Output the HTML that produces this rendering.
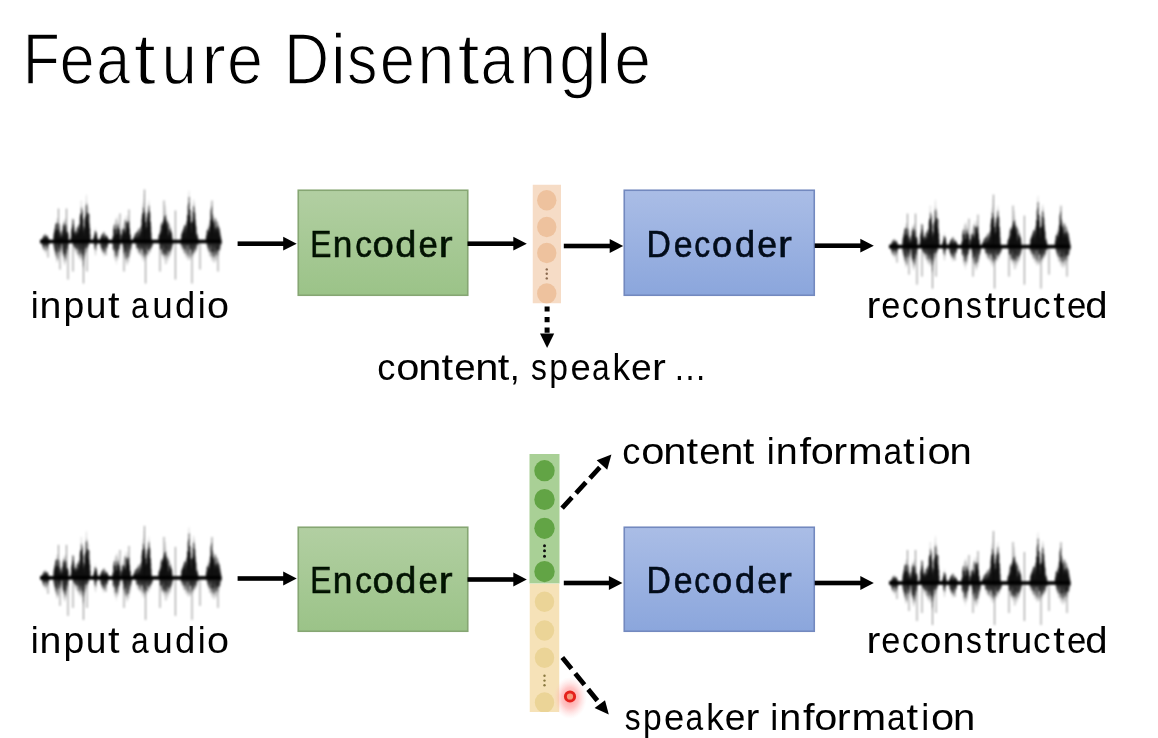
<!DOCTYPE html>
<html><head><meta charset="utf-8"><style>
html,body{margin:0;padding:0;background:#fff;}
svg{display:block;font-family:"Liberation Sans",sans-serif;}
</style></head><body>
<svg width="1158" height="738" viewBox="0 0 1158 738">
<defs>
<linearGradient id="gg" x1="0" y1="0" x2="0" y2="1"><stop offset="0" stop-color="#b2cfa2"/><stop offset="1" stop-color="#9bc388"/></linearGradient>
<linearGradient id="bg" x1="0" y1="0" x2="0" y2="1"><stop offset="0" stop-color="#aabde6"/><stop offset="1" stop-color="#8ba6dc"/></linearGradient>
<radialGradient id="rg"><stop offset="0" stop-color="#ff6a6a" stop-opacity="0.7"/><stop offset="0.5" stop-color="#ff9a9a" stop-opacity="0.55"/><stop offset="1" stop-color="#ffd0d0" stop-opacity="0"/></radialGradient>
<filter id="wb" x="-5%" y="-10%" width="110%" height="120%"><feGaussianBlur stdDeviation="1.0"/></filter>
<filter id="bl" x="-5%" y="-5%" width="110%" height="110%"><feGaussianBlur stdDeviation="0.6"/></filter>
</defs>
<g filter="url(#bl)">
<text transform="translate(22.86 84.00) scale(0.8400 1)" font-size="72.5" fill="#000" stroke="#fff" stroke-width="1.4">F</text>
<text transform="translate(59.56 84.00) scale(0.8745 1)" font-size="72.5" fill="#000" stroke="#fff" stroke-width="1.4">e</text>
<text transform="translate(96.28 84.00) scale(0.8400 1)" font-size="72.5" fill="#000" stroke="#fff" stroke-width="1.4">a</text>
<text transform="translate(133.74 84.00) scale(1.1000 1)" font-size="72.5" fill="#000" stroke="#fff" stroke-width="1.4">t</text>
<text transform="translate(161.55 84.00) scale(0.8768 1)" font-size="72.5" fill="#000" stroke="#fff" stroke-width="1.4">u</text>
<text transform="translate(201.04 84.00) scale(1.0372 1)" font-size="72.5" fill="#000" stroke="#fff" stroke-width="1.4">r</text>
<text transform="translate(227.11 84.00) scale(0.8921 1)" font-size="72.5" fill="#000" stroke="#fff" stroke-width="1.4">e</text>
<text transform="translate(284.10 84.00) scale(0.8627 1)" font-size="72.5" fill="#000" stroke="#fff" stroke-width="1.4">D</text>
<text transform="translate(330.72 84.00) scale(0.9500 1)" font-size="72.5" fill="#000" stroke="#fff" stroke-width="1.4">i</text>
<text transform="translate(347.03 84.00) scale(0.8400 1)" font-size="72.5" fill="#000" stroke="#fff" stroke-width="1.4">s</text>
<text transform="translate(379.76 84.00) scale(0.8745 1)" font-size="72.5" fill="#000" stroke="#fff" stroke-width="1.4">e</text>
<text transform="translate(417.30 84.00) scale(0.9261 1)" font-size="72.5" fill="#000" stroke="#fff" stroke-width="1.4">n</text>
<text transform="translate(457.39 84.00) scale(1.1000 1)" font-size="72.5" fill="#000" stroke="#fff" stroke-width="1.4">t</text>
<text transform="translate(480.43 84.00) scale(0.8400 1)" font-size="72.5" fill="#000" stroke="#fff" stroke-width="1.4">a</text>
<text transform="translate(519.33 84.00) scale(0.9195 1)" font-size="72.5" fill="#000" stroke="#fff" stroke-width="1.4">n</text>
<text transform="translate(558.99 84.00) scale(0.9349 1)" font-size="72.5" fill="#000" stroke="#fff" stroke-width="1.4">g</text>
<text transform="translate(595.88 84.00) scale(0.9500 1)" font-size="72.5" fill="#000" stroke="#fff" stroke-width="1.4">l</text>
<text transform="translate(614.15 84.00) scale(0.9127 1)" font-size="72.5" fill="#000" stroke="#fff" stroke-width="1.4">e</text>
<g transform="translate(40 241.5)"><g filter="url(#wb)"><path d="M1.8 -1.9V3.7 M2.1 -2.8V3.9 M2.4 -3.5V4.8 M2.7 -4.3V6.7 M3.0 -4.5V8.3 M3.3 -5.0V7.2 M3.6 -5.5V9.4 M3.9 -5.3V8.3 M4.2 -6.2V8.4 M4.5 -6.0V9.7 M4.8 -6.6V9.4 M5.1 -7.5V11.0 M5.4 -8.0V10.3 M5.7 -8.5V12.5 M6.0 -7.1V12.2 M6.3 -6.5V9.8 M6.6 -5.9V8.8 M6.9 -6.1V9.3 M7.2 -6.5V8.1 M7.5 -5.2V7.5 M7.8 -5.7V8.5 M8.1 -4.1V7.9 M8.4 -4.4V6.3 M8.7 -3.1V4.8 M9.0 -2.6V4.7 M9.3 -1.7V2.3 M13.5 -0.0V0.0 M13.8 -6.3V6.3 M14.1 -8.8V8.4 M14.4 -12.5V11.2 M14.7 -13.1V11.4 M15.0 -12.6V13.3 M15.3 -15.7V14.7 M15.6 -16.1V16.1 M15.9 -18.9V16.1 M16.2 -17.7V17.0 M16.5 -19.7V18.8 M16.8 -23.1V21.2 M17.1 -20.3V19.8 M17.4 -23.9V20.8 M17.7 -22.5V18.0 M18.0 -23.1V20.2 M18.3 -19.0V18.7 M18.6 -18.1V15.6 M18.9 -19.6V18.6 M19.2 -17.6V14.5 M19.5 -15.2V13.9 M19.8 -15.7V14.8 M20.1 -12.4V14.1 M20.4 -12.7V12.4 M20.7 -11.3V10.7 M21.0 -8.7V8.2 M21.3 -5.8V5.4 M21.6 -3.8V4.5 M21.9 -7.8V8.1 M22.2 -11.3V9.1 M22.5 -13.4V11.2 M22.8 -15.5V15.1 M23.1 -14.1V14.6 M23.4 -17.9V17.4 M23.7 -18.0V20.5 M24.0 -22.2V20.0 M24.3 -20.9V21.7 M24.6 -21.5V24.1 M24.9 -20.5V23.4 M25.2 -21.4V22.6 M25.5 -23.9V21.6 M25.8 -22.8V18.4 M26.1 -18.0V20.5 M26.4 -16.3V19.5 M26.7 -15.5V17.0 M27.0 -15.4V13.8 M27.3 -13.8V15.2 M27.6 -12.6V13.0 M27.9 -10.7V8.9 M28.2 -6.4V7.3 M30.6 -1.4V0.0 M30.9 -4.6V0.0 M31.2 -6.9V0.0 M31.5 -9.1V0.0 M31.8 -12.9V0.0 M32.1 -16.5V0.0 M32.4 -17.8V0.0 M32.7 -23.0V0.0 M33.0 -22.8V0.0 M33.3 -19.6V4.1 M33.6 -17.8V5.8 M33.9 -16.7V6.1 M34.2 -12.9V6.2 M34.5 -9.6V9.2 M34.8 -9.4V9.0 M35.1 -10.5V10.4 M35.4 -11.3V9.6 M35.7 -11.0V9.6 M36.0 -12.0V13.1 M36.3 -13.5V10.6 M36.6 -14.5V11.3 M36.9 -14.0V11.4 M37.2 -14.5V13.1 M37.5 -13.8V15.0 M37.8 -13.3V13.1 M38.1 -16.6V13.0 M38.4 -17.7V15.1 M38.7 -16.6V17.9 M39.0 -18.3V16.8 M39.3 -16.0V14.5 M39.6 -18.5V16.8 M39.9 -21.4V17.6 M40.2 -22.8V15.8 M40.5 -27.8V17.0 M40.8 -34.2V20.0 M41.1 -41.3V20.8 M41.4 -40.7V19.0 M41.7 -35.9V18.9 M42.0 -35.7V16.1 M42.3 -28.2V15.3 M42.6 -25.4V17.4 M42.9 -23.9V25.4 M43.2 -20.5V25.8 M43.5 -14.4V26.8 M43.8 -14.9V28.6 M44.1 -13.6V20.9 M44.4 -13.4V17.1 M44.7 -19.5V14.1 M45.0 -23.1V14.5 M45.3 -31.4V14.3 M45.6 -31.9V11.9 M45.9 -40.5V11.8 M46.2 -45.1V12.4 M46.5 -47.3V10.7 M46.8 -37.5V10.0 M47.1 -40.0V10.3 M47.4 -35.1V8.8 M47.7 -28.4V8.2 M48.0 -26.7V6.6 M48.3 -33.4V5.4 M48.6 -34.1V4.6 M48.9 -27.3V2.2 M49.2 -20.5V0.0 M49.5 -16.4V0.0 M49.8 -12.3V0.0 M50.1 -6.9V0.0 M50.4 -2.0V0.0 M53.1 -0.7V0.0 M53.4 -2.4V0.0 M53.7 -4.2V1.6 M54.0 -6.0V4.3 M54.3 -6.7V5.7 M54.6 -9.6V7.7 M54.9 -8.6V11.2 M55.2 -10.6V13.0 M55.5 -14.2V14.5 M55.8 -11.1V13.7 M56.1 -10.0V10.3 M56.4 -8.1V7.2 M56.7 -6.8V6.5 M57.0 -6.2V4.4 M57.3 -4.2V1.6 M57.6 -2.7V0.0 M57.9 -0.7V0.0 M59.7 -1.8V2.7 M60.0 -3.0V4.6 M60.3 -3.8V5.3 M60.6 -5.3V6.8 M60.9 -5.9V7.6 M61.2 -5.8V9.2 M61.5 -6.7V8.1 M61.8 -6.3V9.7 M62.1 -7.6V9.6 M62.4 -7.5V11.3 M62.7 -8.3V12.7 M63.0 -8.9V11.3 M63.3 -9.4V12.3 M63.6 -8.4V15.4 M63.9 -9.8V14.2 M64.2 -10.3V14.2 M64.5 -10.1V12.3 M64.8 -8.9V11.2 M65.1 -9.4V12.8 M65.4 -7.8V12.0 M65.7 -7.6V9.9 M66.0 -7.3V9.8 M66.3 -6.0V10.4 M66.6 -6.3V8.9 M66.9 -6.2V8.4 M67.2 -5.1V7.4 M67.5 -4.6V6.5 M67.8 -4.1V6.2 M68.1 -2.8V4.3 M68.4 -1.5V2.0 M72.6 -4.2V3.2 M72.9 -6.8V7.5 M73.2 -11.4V8.8 M73.5 -13.4V9.6 M73.8 -12.7V13.4 M74.1 -14.2V14.9 M74.4 -16.0V16.3 M74.7 -19.0V17.7 M75.0 -18.3V17.8 M75.3 -21.3V19.2 M75.6 -22.0V17.1 M75.9 -21.2V20.3 M76.2 -23.6V20.5 M76.5 -22.8V23.1 M76.8 -21.9V19.0 M77.1 -25.3V16.8 M77.4 -23.8V18.6 M77.7 -19.7V18.5 M78.0 -21.0V17.6 M78.3 -19.4V14.1 M78.6 -18.0V15.8 M78.9 -14.3V13.7 M79.2 -14.7V12.3 M79.5 -10.7V10.6 M79.8 -11.0V7.7 M80.1 -8.3V6.2 M80.4 -3.7V3.5 M81.3 -5.2V0.0 M81.6 -7.9V0.0 M81.9 -9.9V0.0 M82.2 -12.2V4.1 M82.5 -12.5V7.0 M82.8 -15.8V10.1 M83.1 -15.4V10.2 M83.4 -15.5V14.2 M83.7 -17.9V11.9 M84.0 -18.5V16.6 M84.3 -18.4V17.3 M84.6 -20.1V15.2 M84.9 -19.7V17.6 M85.2 -19.8V18.1 M85.5 -20.9V16.8 M85.8 -25.4V21.8 M86.1 -25.8V20.4 M86.4 -19.7V20.9 M86.7 -20.7V24.6 M87.0 -19.5V20.3 M87.3 -20.7V22.3 M87.6 -23.5V23.5 M87.9 -26.6V22.6 M88.2 -25.2V19.2 M88.5 -21.0V20.4 M88.8 -19.6V19.8 M89.1 -18.1V20.3 M89.4 -12.5V16.6 M89.7 -11.4V15.9 M90.0 -10.4V13.4 M90.3 -8.4V13.4 M90.6 -6.7V13.2 M90.9 -2.9V10.7 M91.2 0.0V8.9 M91.5 0.0V7.6 M91.8 0.0V4.9 M93.3 -3.1V0.0 M93.6 -4.0V0.0 M93.9 -4.5V0.0 M94.2 -5.8V0.0 M94.5 -6.4V0.0 M94.8 -6.7V0.0 M95.1 -7.9V2.1 M95.4 -8.3V4.0 M95.7 -9.1V5.3 M96.0 -8.3V6.3 M96.3 -8.5V7.6 M96.6 -9.8V7.1 M96.9 -9.6V8.7 M97.2 -10.0V9.9 M97.5 -12.0V10.9 M97.8 -11.8V11.5 M98.1 -12.3V10.1 M98.4 -13.5V13.2 M98.7 -12.8V11.7 M99.0 -13.4V11.1 M99.3 -14.7V11.5 M99.6 -13.3V12.9 M99.9 -12.9V13.4 M100.2 -13.6V15.1 M100.5 -13.1V13.0 M100.8 -13.1V14.3 M101.1 -15.3V14.4 M101.4 -14.1V13.7 M101.7 -15.0V14.7 M102.0 -23.9V16.5 M102.3 -23.7V17.2 M102.6 -35.0V19.2 M102.9 -38.2V15.9 M103.2 -36.3V17.2 M103.5 -39.6V16.7 M103.8 -47.3V20.2 M104.1 -42.5V20.2 M104.4 -33.7V19.5 M104.7 -30.5V16.6 M105.0 -27.1V17.0 M105.3 -27.9V16.5 M105.6 -24.2V18.3 M105.9 -24.3V14.9 M106.2 -26.8V15.9 M106.5 -23.9V17.8 M106.8 -28.1V15.3 M107.1 -25.4V13.8 M107.4 -22.1V13.4 M107.7 -28.3V13.9 M108.0 -34.8V15.5 M108.3 -32.4V15.0 M108.6 -39.3V12.7 M108.9 -41.7V10.9 M109.2 -38.2V13.8 M109.5 -35.1V11.1 M109.8 -31.5V10.0 M110.1 -26.6V11.1 M110.4 -20.1V11.6 M110.7 -14.5V10.4 M111.0 -9.9V8.3 M111.3 -6.2V8.1 M111.6 -0.0V7.5 M111.9 0.0V5.8 M112.2 0.0V5.0 M112.5 0.0V5.0 M112.8 0.0V3.1 M118.8 -5.3V0.0 M119.1 -7.8V2.7 M119.4 -9.6V4.7 M119.7 -11.9V7.0 M120.0 -13.9V7.4 M120.3 -15.1V9.4 M120.6 -13.4V9.7 M120.9 -15.3V12.3 M121.2 -16.8V11.4 M121.5 -18.4V14.4 M121.8 -20.3V14.0 M122.1 -19.4V13.7 M122.4 -18.9V14.2 M122.7 -18.9V13.9 M123.0 -20.5V17.5 M123.3 -22.4V14.2 M123.6 -20.5V16.4 M123.9 -25.8V16.6 M124.2 -24.9V16.0 M124.5 -29.8V18.3 M124.8 -36.7V19.0 M125.1 -34.3V22.5 M125.4 -36.4V23.0 M125.7 -31.4V22.1 M126.0 -23.1V18.7 M126.3 -28.0V17.9 M126.6 -22.6V22.7 M126.9 -26.8V22.4 M127.2 -23.1V18.1 M127.5 -22.7V18.6 M127.8 -19.8V20.1 M128.1 -21.1V16.2 M128.4 -20.8V15.8 M128.7 -19.6V18.9 M129.0 -18.6V16.5 M129.3 -18.9V14.5 M129.6 -15.6V13.0 M129.9 -16.3V15.6 M130.2 -14.0V15.3 M130.5 -15.8V13.7 M130.8 -11.9V12.3 M131.1 -10.7V12.4 M131.4 -11.5V9.9 M131.7 -8.2V9.9 M132.0 -7.2V7.8 M132.3 -4.1V5.9 M132.6 0.0V4.5 M132.9 0.0V2.3 M140.7 -3.3V3.1 M141.0 -5.6V4.2 M141.3 -7.5V4.9 M141.6 -8.3V6.8 M141.9 -10.2V8.4 M142.2 -10.7V7.7 M142.5 -10.3V7.6 M142.8 -11.1V8.5 M143.1 -11.9V10.1 M143.4 -14.5V11.0 M143.7 -14.5V12.6 M144.0 -16.2V11.2 M144.3 -14.7V13.1 M144.6 -15.2V11.7 M144.9 -17.0V11.5 M145.2 -15.3V15.6 M145.5 -18.2V12.2 M145.8 -18.8V16.0 M146.1 -18.6V13.4 M146.4 -17.5V16.2 M146.7 -19.4V15.9 M147.0 -18.9V15.2 M147.3 -23.5V18.4 M147.6 -26.1V17.1 M147.9 -34.6V14.9 M148.2 -32.4V19.3 M148.5 -44.3V18.7 M148.8 -49.2V15.4 M149.1 -51.2V17.9 M149.4 -45.4V17.4 M149.7 -39.3V18.3 M150.0 -29.8V16.9 M150.3 -25.9V18.8 M150.6 -24.9V16.0 M150.9 -22.8V18.2 M151.2 -22.5V15.6 M151.5 -20.0V15.9 M151.8 -18.3V17.6 M152.1 -19.1V14.8 M152.4 -23.1V13.2 M152.7 -28.9V13.5 M153.0 -34.2V14.0 M153.3 -39.4V13.0 M153.6 -42.2V15.7 M153.9 -41.8V15.2 M154.2 -37.9V12.2 M154.5 -38.8V12.8 M154.8 -30.2V11.1 M155.1 -32.4V11.6 M155.4 -23.3V12.0 M155.7 -21.5V10.4 M156.0 -13.0V10.7 M156.3 -10.6V9.9 M156.6 -11.6V8.6 M156.9 -8.6V7.5 M157.2 -8.6V7.1 M157.5 -8.6V6.4 M157.8 -6.2V5.9 M158.1 -5.4V3.6 M158.4 -2.3V2.1 M166.2 -4.8V0.0 M166.5 -7.8V0.0 M166.8 -9.2V4.7 M167.1 -10.9V5.3 M167.4 -10.8V7.8 M167.7 -11.7V9.0 M168.0 -15.1V10.5 M168.3 -15.1V10.0 M168.6 -17.3V10.3 M168.9 -17.0V11.3 M169.2 -18.7V14.4 M169.5 -17.6V15.2 M169.8 -18.6V13.1 M170.1 -22.1V14.8 M170.4 -21.4V15.6 M170.7 -24.4V15.1 M171.0 -31.2V15.9 M171.3 -32.7V16.6 M171.6 -39.0V19.7 M171.9 -37.6V18.1 M172.2 -26.4V18.7 M172.5 -24.2V20.4 M172.8 -25.5V17.1 M173.1 -23.5V17.3 M173.4 -24.5V19.8 M173.7 -28.0V21.8 M174.0 -23.9V18.3 M174.3 -25.1V20.5 M174.6 -25.1V20.8 M174.9 -23.4V18.2 M175.2 -23.4V21.6 M175.5 -23.1V18.2 M175.8 -23.5V18.0 M176.1 -21.9V20.0 M176.4 -24.0V18.9 M176.7 -19.6V18.0 M177.0 -19.6V17.1 M177.3 -21.5V15.1 M177.6 -19.6V14.2 M177.9 -19.8V13.3 M178.2 -18.1V15.4 M178.5 -16.8V14.4 M178.8 -15.0V12.9 M179.1 -13.1V12.8 M179.4 -12.7V11.2 M179.7 -11.8V9.7 M180.0 -10.2V9.3 M180.3 -9.3V8.1 M180.6 -6.6V7.7 M180.9 -3.0V6.0 M181.2 0.0V4.0" stroke="#000" stroke-opacity="0.14" stroke-width="0.6" fill="none"/><path d="M18.5 -33.0V0.0 M26.5 -33.0V0.0 M28.0 0.0V38.0 M43.5 0.0V42.0 M47.0 0.0V30.0 M104.5 -52.0V0.0 M105.6 0.0V42.0 M124.0 -41.0V0.0 M135.4 -31.0V0.0 M135.4 0.0V38.0 M152.0 0.0V42.0 M172.0 -41.0V0.0 M8.0 0.0V16.0 M20.0 0.0V28.0 M84.0 0.0V30.0 M89.0 -32.0V0.0 M66.0 0.0V14.0 M33.0 0.0V30.0 M80.0 -28.0V0.0 M120.0 0.0V30.0 M160.0 0.0V28.0 M178.0 0.0V30.0" stroke="#000" stroke-opacity="0.45" stroke-width="1" fill="none"/><path d="M1.8 -0.7V0.0 M2.1 -3.0V0.0 M2.4 -2.6V0.0 M2.7 -2.8V0.0 M3.0 -3.2V0.0 M3.3 -5.4V0.0 M3.6 -2.9V0.0 M3.9 -3.6V0.0 M4.2 -6.2V0.0 M4.5 -5.2V0.0 M4.8 -7.1V0.0 M5.1 -2.2V0.0 M5.4 -3.3V0.0 M5.7 -4.7V0.0 M6.0 -3.8V0.0 M6.3 -5.4V0.0 M6.6 -5.8V0.0 M6.9 -4.6V0.0 M7.2 -5.9V0.0 M7.5 -2.1V0.0 M7.8 -4.3V0.0 M8.1 -3.5V0.0 M8.4 -1.9V0.0 M8.7 -1.8V0.0 M9.0 -2.0V0.0 M9.3 -0.8V0.0 M13.5 -0.0V0.0 M13.8 -5.2V0.0 M14.1 -8.5V0.0 M14.4 -8.4V0.0 M14.7 -10.8V0.0 M15.0 -13.2V0.0 M15.3 -10.4V0.0 M15.6 -16.5V0.0 M15.9 -7.9V0.0 M16.2 -18.3V0.0 M16.5 -18.1V0.0 M16.8 -11.3V0.0 M17.1 -18.4V0.0 M17.4 -11.5V0.0 M17.7 -12.1V0.0 M18.0 -5.6V0.0 M18.3 -11.0V0.0 M18.6 -4.9V0.0 M18.9 -14.6V0.0 M19.2 -17.7V0.0 M19.5 -3.8V0.0 M19.8 -8.5V0.0 M20.1 -8.2V0.0 M20.4 -10.3V0.0 M20.7 -6.1V0.0 M21.0 -5.4V0.0 M21.3 -4.1V0.0 M21.6 -4.0V0.0 M21.9 -7.4V0.0 M22.2 -9.1V0.0 M22.5 -11.1V0.0 M22.8 -5.5V0.0 M23.1 -15.7V0.0 M23.4 -12.0V0.0 M23.7 -17.1V0.0 M24.0 -19.0V0.0 M24.3 -15.3V0.0 M24.6 -5.5V0.0 M24.9 -16.7V0.0 M25.2 -13.9V0.0 M25.5 -7.9V0.0 M25.8 -10.9V0.0 M26.1 -17.0V0.0 M26.4 -9.7V0.0 M26.7 -6.0V0.0 M27.0 -9.6V0.0 M27.3 -6.0V0.0 M27.6 -9.0V0.0 M27.9 -9.3V0.0 M28.2 -7.0V0.0 M30.6 -1.2V0.0 M30.9 -3.0V0.0 M31.2 -5.0V0.0 M31.5 -10.2V0.0 M31.8 -12.1V0.0 M32.1 -13.5V0.0 M32.4 -14.7V0.0 M32.7 -17.2V0.0 M33.0 -22.7V0.0 M33.3 -21.2V0.0 M33.6 -17.1V0.0 M33.9 -14.1V0.0 M34.2 -8.4V0.0 M34.5 -9.0V0.0 M34.8 -7.4V0.0 M35.1 -5.9V0.0 M35.4 -10.8V0.0 M35.7 -6.8V0.0 M36.0 -5.7V0.0 M36.3 -9.1V0.0 M36.6 -9.8V0.0 M36.9 -8.9V0.0 M37.2 -14.0V0.0 M37.5 -7.4V0.0 M37.8 -7.8V0.0 M38.1 -13.4V0.0 M38.4 -16.3V0.0 M38.7 -10.9V0.0 M39.0 -14.2V0.0 M39.3 -9.3V0.0 M39.6 -12.4V0.0 M39.9 -17.1V0.0 M40.2 -24.6V0.0 M40.5 -27.0V0.0 M40.8 -28.1V0.0 M41.1 -26.8V0.0 M41.4 -26.6V0.0 M41.7 -33.6V0.0 M42.0 -31.4V0.0 M42.3 -29.2V0.0 M42.6 -23.9V0.0 M42.9 -21.8V0.0 M43.2 -15.6V0.0 M43.5 -9.3V0.0 M43.8 -11.4V0.0 M44.1 -5.7V0.0 M44.4 -12.4V0.0 M44.7 -14.2V0.0 M45.0 -23.5V0.0 M45.3 -21.1V0.0 M45.6 -25.2V0.0 M45.9 -26.2V0.0 M46.2 -35.8V0.0 M46.5 -29.2V0.0 M46.8 -37.3V0.0 M47.1 -24.5V0.0 M47.4 -28.9V0.0 M47.7 -20.0V0.0 M48.0 -19.3V0.0 M48.3 -27.5V0.0 M48.6 -28.1V0.0 M48.9 -27.3V0.0 M49.2 -17.7V0.0 M49.5 -13.7V0.0 M49.8 -13.1V0.0 M50.1 -7.3V0.0 M50.4 -2.2V0.0 M53.1 -0.6V0.0 M53.4 -2.4V0.0 M53.7 -2.9V0.0 M54.0 -4.5V0.0 M54.3 -4.8V0.0 M54.6 -7.0V0.0 M54.9 -6.7V0.0 M55.2 -10.8V0.0 M55.5 -10.3V0.0 M55.8 -8.4V0.0 M56.1 -9.4V0.0 M56.4 -8.1V0.0 M56.7 -5.7V0.0 M57.0 -4.3V0.0 M57.3 -2.5V0.0 M57.6 -2.0V0.0 M57.9 -0.6V0.0 M59.7 -1.7V0.0 M60.0 -1.1V0.0 M60.3 -3.8V0.0 M60.6 -1.7V0.0 M60.9 -3.7V0.0 M61.2 -3.3V0.0 M61.5 -6.6V0.0 M61.8 -3.8V0.0 M62.1 -5.1V0.0 M62.4 -6.8V0.0 M62.7 -3.1V0.0 M63.0 -7.9V0.0 M63.3 -2.8V0.0 M63.6 -9.1V0.0 M63.9 -3.6V0.0 M64.2 -4.7V0.0 M64.5 -3.3V0.0 M64.8 -6.5V0.0 M65.1 -2.2V0.0 M65.4 -4.2V0.0 M65.7 -6.9V0.0 M66.0 -4.3V0.0 M66.3 -5.0V0.0 M66.6 -2.4V0.0 M66.9 -4.5V0.0 M67.2 -5.4V0.0 M67.5 -3.3V0.0 M67.8 -3.7V0.0 M68.1 -2.5V0.0 M68.4 -0.4V0.0 M72.6 -2.1V0.0 M72.9 -4.4V0.0 M73.2 -5.4V0.0 M73.5 -5.3V0.0 M73.8 -12.7V0.0 M74.1 -15.8V0.0 M74.4 -4.7V0.0 M74.7 -17.0V0.0 M75.0 -12.2V0.0 M75.3 -8.7V0.0 M75.6 -12.4V0.0 M75.9 -11.7V0.0 M76.2 -7.6V0.0 M76.5 -6.7V0.0 M76.8 -7.5V0.0 M77.1 -16.0V0.0 M77.4 -13.9V0.0 M77.7 -8.4V0.0 M78.0 -17.0V0.0 M78.3 -12.5V0.0 M78.6 -12.7V0.0 M78.9 -13.6V0.0 M79.2 -9.4V0.0 M79.5 -11.5V0.0 M79.8 -6.4V0.0 M80.1 -7.4V0.0 M80.4 -1.5V0.0 M81.3 -5.2V0.0 M81.6 -7.4V0.0 M81.9 -4.4V0.0 M82.2 -11.7V0.0 M82.5 -6.0V0.0 M82.8 -8.7V0.0 M83.1 -12.8V0.0 M83.4 -10.5V0.0 M83.7 -13.0V0.0 M84.0 -10.0V0.0 M84.3 -12.3V0.0 M84.6 -8.8V0.0 M84.9 -9.0V0.0 M85.2 -21.9V0.0 M85.5 -6.8V0.0 M85.8 -9.5V0.0 M86.1 -11.4V0.0 M86.4 -19.5V0.0 M86.7 -12.7V0.0 M87.0 -14.5V0.0 M87.3 -18.7V0.0 M87.6 -16.8V0.0 M87.9 -19.1V0.0 M88.2 -21.0V0.0 M88.5 -16.8V0.0 M88.8 -19.6V0.0 M89.1 -14.0V0.0 M89.4 -12.4V0.0 M89.7 -7.1V0.0 M90.0 -5.2V0.0 M90.3 -7.0V0.0 M90.6 -2.6V0.0 M90.9 -0.8V0.0 M91.2 -0.0V0.0 M91.5 -0.0V0.0 M91.8 -0.0V0.0 M93.3 -1.7V0.0 M93.6 -3.9V0.0 M93.9 -2.8V0.0 M94.2 -4.6V0.0 M94.5 -3.0V0.0 M94.8 -5.0V0.0 M95.1 -7.2V0.0 M95.4 -8.1V0.0 M95.7 -6.2V0.0 M96.0 -4.2V0.0 M96.3 -3.4V0.0 M96.6 -3.4V0.0 M96.9 -9.6V0.0 M97.2 -9.5V0.0 M97.5 -6.0V0.0 M97.8 -8.3V0.0 M98.1 -10.5V0.0 M98.4 -5.0V0.0 M98.7 -4.6V0.0 M99.0 -12.5V0.0 M99.3 -3.5V0.0 M99.6 -7.3V0.0 M99.9 -7.2V0.0 M100.2 -10.6V0.0 M100.5 -10.1V0.0 M100.8 -14.3V0.0 M101.1 -5.3V0.0 M101.4 -9.5V0.0 M101.7 -16.5V0.0 M102.0 -22.4V0.0 M102.3 -25.3V0.0 M102.6 -27.4V0.0 M102.9 -28.8V0.0 M103.2 -27.9V0.0 M103.5 -33.6V0.0 M103.8 -27.1V0.0 M104.1 -30.5V0.0 M104.4 -22.9V0.0 M104.7 -29.5V0.0 M105.0 -19.2V0.0 M105.3 -19.7V0.0 M105.6 -11.4V0.0 M105.9 -19.2V0.0 M106.2 -15.0V0.0 M106.5 -13.9V0.0 M106.8 -13.4V0.0 M107.1 -24.1V0.0 M107.4 -20.5V0.0 M107.7 -28.0V0.0 M108.0 -22.3V0.0 M108.3 -29.6V0.0 M108.6 -32.2V0.0 M108.9 -35.8V0.0 M109.2 -29.8V0.0 M109.5 -26.7V0.0 M109.8 -29.4V0.0 M110.1 -20.0V0.0 M110.4 -19.1V0.0 M110.7 -15.0V0.0 M111.0 -9.0V0.0 M111.3 -3.7V0.0 M111.6 -0.0V0.0 M111.9 -0.0V0.0 M112.2 -0.0V0.0 M112.5 -0.0V0.0 M112.8 -0.0V0.0 M118.8 -4.2V0.0 M119.1 -6.4V0.0 M119.4 -7.4V0.0 M119.7 -7.1V0.0 M120.0 -6.0V0.0 M120.3 -8.5V0.0 M120.6 -10.6V0.0 M120.9 -9.3V0.0 M121.2 -16.8V0.0 M121.5 -11.6V0.0 M121.8 -18.9V0.0 M122.1 -16.1V0.0 M122.4 -16.1V0.0 M122.7 -8.0V0.0 M123.0 -17.2V0.0 M123.3 -19.1V0.0 M123.6 -21.7V0.0 M123.9 -19.3V0.0 M124.2 -18.4V0.0 M124.5 -23.5V0.0 M124.8 -25.5V0.0 M125.1 -24.7V0.0 M125.4 -26.1V0.0 M125.7 -18.0V0.0 M126.0 -21.9V0.0 M126.3 -20.4V0.0 M126.6 -15.3V0.0 M126.9 -13.2V0.0 M127.2 -17.3V0.0 M127.5 -19.6V0.0 M127.8 -12.7V0.0 M128.1 -6.4V0.0 M128.4 -7.0V0.0 M128.7 -17.2V0.0 M129.0 -4.3V0.0 M129.3 -10.6V0.0 M129.6 -11.9V0.0 M129.9 -7.9V0.0 M130.2 -9.4V0.0 M130.5 -13.3V0.0 M130.8 -10.5V0.0 M131.1 -8.7V0.0 M131.4 -9.3V0.0 M131.7 -7.5V0.0 M132.0 -4.6V0.0 M132.3 -1.6V0.0 M132.6 -0.0V0.0 M132.9 -0.0V0.0 M140.7 -1.6V0.0 M141.0 -1.4V0.0 M141.3 -2.7V0.0 M141.6 -7.2V0.0 M141.9 -3.3V0.0 M142.2 -8.3V0.0 M142.5 -10.3V0.0 M142.8 -8.3V0.0 M143.1 -8.4V0.0 M143.4 -12.5V0.0 M143.7 -9.9V0.0 M144.0 -12.8V0.0 M144.3 -13.4V0.0 M144.6 -15.6V0.0 M144.9 -16.2V0.0 M145.2 -16.2V0.0 M145.5 -9.2V0.0 M145.8 -4.6V0.0 M146.1 -16.3V0.0 M146.4 -13.2V0.0 M146.7 -11.9V0.0 M147.0 -20.0V0.0 M147.3 -21.0V0.0 M147.6 -26.1V0.0 M147.9 -27.0V0.0 M148.2 -36.3V0.0 M148.5 -25.5V0.0 M148.8 -38.9V0.0 M149.1 -44.4V0.0 M149.4 -32.2V0.0 M149.7 -31.3V0.0 M150.0 -32.0V0.0 M150.3 -26.0V0.0 M150.6 -18.9V0.0 M150.9 -13.0V0.0 M151.2 -18.6V0.0 M151.5 -9.2V0.0 M151.8 -19.5V0.0 M152.1 -17.4V0.0 M152.4 -19.7V0.0 M152.7 -20.2V0.0 M153.0 -30.0V0.0 M153.3 -23.8V0.0 M153.6 -35.6V0.0 M153.9 -34.1V0.0 M154.2 -29.6V0.0 M154.5 -25.6V0.0 M154.8 -28.1V0.0 M155.1 -21.7V0.0 M155.4 -18.4V0.0 M155.7 -15.9V0.0 M156.0 -14.9V0.0 M156.3 -6.9V0.0 M156.6 -4.8V0.0 M156.9 -7.8V0.0 M157.2 -2.4V0.0 M157.5 -6.0V0.0 M157.8 -4.0V0.0 M158.1 -2.3V0.0 M158.4 -1.7V0.0 M166.2 -4.0V0.0 M166.5 -6.4V0.0 M166.8 -6.1V0.0 M167.1 -10.3V0.0 M167.4 -12.0V0.0 M167.7 -11.2V0.0 M168.0 -4.1V0.0 M168.3 -11.0V0.0 M168.6 -9.0V0.0 M168.9 -13.4V0.0 M169.2 -8.8V0.0 M169.5 -10.1V0.0 M169.8 -14.9V0.0 M170.1 -15.2V0.0 M170.4 -21.3V0.0 M170.7 -20.7V0.0 M171.0 -32.1V0.0 M171.3 -29.3V0.0 M171.6 -34.9V0.0 M171.9 -23.9V0.0 M172.2 -27.0V0.0 M172.5 -22.4V0.0 M172.8 -20.4V0.0 M173.1 -17.5V0.0 M173.4 -13.4V0.0 M173.7 -19.7V0.0 M174.0 -20.1V0.0 M174.3 -16.9V0.0 M174.6 -8.6V0.0 M174.9 -13.1V0.0 M175.2 -22.5V0.0 M175.5 -11.3V0.0 M175.8 -14.3V0.0 M176.1 -11.5V0.0 M176.4 -13.7V0.0 M176.7 -12.4V0.0 M177.0 -19.8V0.0 M177.3 -8.7V0.0 M177.6 -15.3V0.0 M177.9 -13.3V0.0 M178.2 -16.1V0.0 M178.5 -9.3V0.0 M178.8 -10.9V0.0 M179.1 -14.0V0.0 M179.4 -12.5V0.0 M179.7 -4.6V0.0 M180.0 -8.9V0.0 M180.3 -5.8V0.0 M180.6 -5.4V0.0 M180.9 -2.9V0.0 M181.2 -0.0V0.0" stroke="#000" stroke-opacity="1" stroke-width="0.6" fill="none"/><path d="M1.8 0.0V2.2 M2.1 0.0V2.9 M2.4 0.0V2.0 M2.7 0.0V4.9 M3.0 0.0V3.8 M3.3 0.0V5.4 M3.6 0.0V6.1 M3.9 0.0V7.0 M4.2 0.0V8.1 M4.5 0.0V4.2 M4.8 0.0V3.1 M5.1 0.0V3.8 M5.4 0.0V3.5 M5.7 0.0V4.7 M6.0 0.0V4.0 M6.3 0.0V8.9 M6.6 0.0V4.3 M6.9 0.0V5.9 M7.2 0.0V5.4 M7.5 0.0V6.2 M7.8 0.0V2.7 M8.1 0.0V2.0 M8.4 0.0V2.5 M8.7 0.0V3.6 M9.0 0.0V2.6 M9.3 0.0V1.1 M13.5 0.0V0.0 M13.8 0.0V4.5 M14.1 0.0V5.2 M14.4 0.0V6.5 M14.7 0.0V8.1 M15.0 0.0V9.2 M15.3 0.0V9.7 M15.6 0.0V2.9 M15.9 0.0V13.1 M16.2 0.0V11.5 M16.5 0.0V14.4 M16.8 0.0V10.7 M17.1 0.0V8.3 M17.4 0.0V10.6 M17.7 0.0V17.3 M18.0 0.0V4.4 M18.3 0.0V3.8 M18.6 0.0V6.9 M18.9 0.0V10.9 M19.2 0.0V5.7 M19.5 0.0V10.3 M19.8 0.0V7.9 M20.1 0.0V10.0 M20.4 0.0V5.9 M20.7 0.0V7.4 M21.0 0.0V2.7 M21.3 0.0V1.7 M21.6 0.0V2.9 M21.9 0.0V2.1 M22.2 0.0V2.2 M22.5 0.0V5.7 M22.8 0.0V10.0 M23.1 0.0V13.1 M23.4 0.0V12.1 M23.7 0.0V8.2 M24.0 0.0V15.3 M24.3 0.0V12.3 M24.6 0.0V12.6 M24.9 0.0V15.7 M25.2 0.0V18.5 M25.5 0.0V16.3 M25.8 0.0V13.1 M26.1 0.0V6.9 M26.4 0.0V11.6 M26.7 0.0V6.7 M27.0 0.0V7.8 M27.3 0.0V8.9 M27.6 0.0V4.6 M27.9 0.0V4.3 M28.2 0.0V2.1 M30.6 0.0V0.0 M30.9 0.0V0.0 M31.2 0.0V0.0 M31.5 0.0V0.0 M31.8 0.0V0.0 M32.1 0.0V0.0 M32.4 0.0V0.0 M32.7 0.0V0.0 M33.0 0.0V0.0 M33.3 0.0V2.7 M33.6 0.0V3.9 M33.9 0.0V4.5 M34.2 0.0V3.3 M34.5 0.0V5.2 M34.8 0.0V5.9 M35.1 0.0V6.2 M35.4 0.0V6.5 M35.7 0.0V3.9 M36.0 0.0V6.8 M36.3 0.0V7.8 M36.6 0.0V2.9 M36.9 0.0V7.3 M37.2 0.0V7.9 M37.5 0.0V8.4 M37.8 0.0V5.7 M38.1 0.0V11.9 M38.4 0.0V3.9 M38.7 0.0V6.2 M39.0 0.0V13.7 M39.3 0.0V8.9 M39.6 0.0V9.0 M39.9 0.0V8.9 M40.2 0.0V12.5 M40.5 0.0V11.6 M40.8 0.0V11.5 M41.1 0.0V15.7 M41.4 0.0V7.5 M41.7 0.0V4.6 M42.0 0.0V8.4 M42.3 0.0V13.1 M42.6 0.0V12.9 M42.9 0.0V10.6 M43.2 0.0V18.7 M43.5 0.0V23.9 M43.8 0.0V17.8 M44.1 0.0V14.6 M44.4 0.0V7.5 M44.7 0.0V4.0 M45.0 0.0V10.7 M45.3 0.0V6.4 M45.6 0.0V5.8 M45.9 0.0V7.0 M46.2 0.0V3.8 M46.5 0.0V6.0 M46.8 0.0V7.3 M47.1 0.0V2.4 M47.4 0.0V2.6 M47.7 0.0V5.5 M48.0 0.0V5.5 M48.3 0.0V3.8 M48.6 0.0V3.2 M48.9 0.0V1.4 M49.2 0.0V0.0 M49.5 0.0V0.0 M49.8 0.0V0.0 M50.1 0.0V0.0 M50.4 0.0V0.0 M53.1 0.0V0.0 M53.4 0.0V0.0 M53.7 0.0V1.5 M54.0 0.0V1.9 M54.3 0.0V2.0 M54.6 0.0V5.3 M54.9 0.0V7.4 M55.2 0.0V3.2 M55.5 0.0V7.6 M55.8 0.0V8.9 M56.1 0.0V3.7 M56.4 0.0V3.6 M56.7 0.0V4.3 M57.0 0.0V2.2 M57.3 0.0V0.9 M57.6 0.0V0.0 M57.9 0.0V0.0 M59.7 0.0V2.2 M60.0 0.0V3.2 M60.3 0.0V1.6 M60.6 0.0V1.8 M60.9 0.0V5.7 M61.2 0.0V1.7 M61.5 0.0V6.2 M61.8 0.0V6.6 M62.1 0.0V8.1 M62.4 0.0V6.7 M62.7 0.0V10.0 M63.0 0.0V10.2 M63.3 0.0V7.9 M63.6 0.0V7.2 M63.9 0.0V8.2 M64.2 0.0V11.7 M64.5 0.0V5.6 M64.8 0.0V4.4 M65.1 0.0V10.3 M65.4 0.0V8.2 M65.7 0.0V4.0 M66.0 0.0V3.6 M66.3 0.0V6.4 M66.6 0.0V5.7 M66.9 0.0V6.0 M67.2 0.0V5.8 M67.5 0.0V3.8 M67.8 0.0V1.3 M68.1 0.0V3.0 M68.4 0.0V1.1 M72.6 0.0V2.7 M72.9 0.0V1.5 M73.2 0.0V7.2 M73.5 0.0V8.6 M73.8 0.0V6.6 M74.1 0.0V8.6 M74.4 0.0V10.2 M74.7 0.0V4.8 M75.0 0.0V6.3 M75.3 0.0V6.8 M75.6 0.0V14.7 M75.9 0.0V12.9 M76.2 0.0V10.6 M76.5 0.0V8.9 M76.8 0.0V14.5 M77.1 0.0V15.5 M77.4 0.0V9.1 M77.7 0.0V11.5 M78.0 0.0V9.4 M78.3 0.0V5.3 M78.6 0.0V7.6 M78.9 0.0V7.4 M79.2 0.0V7.5 M79.5 0.0V3.4 M79.8 0.0V3.6 M80.1 0.0V3.9 M80.4 0.0V0.8 M81.3 0.0V0.0 M81.6 0.0V0.0 M81.9 0.0V0.0 M82.2 0.0V2.5 M82.5 0.0V2.3 M82.8 0.0V2.0 M83.1 0.0V4.4 M83.4 0.0V5.9 M83.7 0.0V6.8 M84.0 0.0V11.5 M84.3 0.0V12.2 M84.6 0.0V5.9 M84.9 0.0V9.7 M85.2 0.0V14.6 M85.5 0.0V9.3 M85.8 0.0V10.1 M86.1 0.0V6.9 M86.4 0.0V17.6 M86.7 0.0V17.9 M87.0 0.0V11.6 M87.3 0.0V4.9 M87.6 0.0V15.1 M87.9 0.0V7.7 M88.2 0.0V15.9 M88.5 0.0V4.4 M88.8 0.0V15.7 M89.1 0.0V12.1 M89.4 0.0V10.9 M89.7 0.0V7.8 M90.0 0.0V7.4 M90.3 0.0V3.7 M90.6 0.0V8.5 M90.9 0.0V5.2 M91.2 0.0V5.8 M91.5 0.0V3.4 M91.8 0.0V1.6 M93.3 0.0V0.0 M93.6 0.0V0.0 M93.9 0.0V0.0 M94.2 0.0V0.0 M94.5 0.0V0.0 M94.8 0.0V0.0 M95.1 0.0V1.4 M95.4 0.0V1.3 M95.7 0.0V2.2 M96.0 0.0V2.8 M96.3 0.0V1.8 M96.6 0.0V5.7 M96.9 0.0V2.0 M97.2 0.0V6.4 M97.5 0.0V7.1 M97.8 0.0V7.2 M98.1 0.0V5.3 M98.4 0.0V7.1 M98.7 0.0V6.1 M99.0 0.0V2.9 M99.3 0.0V9.1 M99.6 0.0V7.9 M99.9 0.0V10.6 M100.2 0.0V12.0 M100.5 0.0V4.7 M100.8 0.0V8.4 M101.1 0.0V4.9 M101.4 0.0V7.5 M101.7 0.0V7.1 M102.0 0.0V6.0 M102.3 0.0V8.4 M102.6 0.0V7.2 M102.9 0.0V13.4 M103.2 0.0V5.3 M103.5 0.0V10.4 M103.8 0.0V10.7 M104.1 0.0V13.9 M104.4 0.0V15.1 M104.7 0.0V3.7 M105.0 0.0V11.6 M105.3 0.0V7.2 M105.6 0.0V12.0 M105.9 0.0V5.7 M106.2 0.0V3.0 M106.5 0.0V13.2 M106.8 0.0V4.5 M107.1 0.0V7.7 M107.4 0.0V12.2 M107.7 0.0V4.6 M108.0 0.0V8.9 M108.3 0.0V8.2 M108.6 0.0V8.7 M108.9 0.0V7.7 M109.2 0.0V7.6 M109.5 0.0V9.9 M109.8 0.0V5.6 M110.1 0.0V4.1 M110.4 0.0V7.5 M110.7 0.0V6.5 M111.0 0.0V6.9 M111.3 0.0V4.9 M111.6 0.0V5.7 M111.9 0.0V2.1 M112.2 0.0V4.4 M112.5 0.0V3.4 M112.8 0.0V1.0 M118.8 0.0V0.0 M119.1 0.0V2.1 M119.4 0.0V1.2 M119.7 0.0V2.8 M120.0 0.0V2.4 M120.3 0.0V6.8 M120.6 0.0V8.0 M120.9 0.0V7.3 M121.2 0.0V7.6 M121.5 0.0V8.4 M121.8 0.0V6.6 M122.1 0.0V3.5 M122.4 0.0V12.5 M122.7 0.0V10.9 M123.0 0.0V11.3 M123.3 0.0V4.9 M123.6 0.0V13.6 M123.9 0.0V5.1 M124.2 0.0V11.0 M124.5 0.0V13.6 M124.8 0.0V10.2 M125.1 0.0V15.2 M125.4 0.0V12.7 M125.7 0.0V6.7 M126.0 0.0V12.3 M126.3 0.0V13.4 M126.6 0.0V8.1 M126.9 0.0V12.9 M127.2 0.0V15.4 M127.5 0.0V8.9 M127.8 0.0V9.7 M128.1 0.0V10.5 M128.4 0.0V7.5 M128.7 0.0V3.1 M129.0 0.0V13.3 M129.3 0.0V9.7 M129.6 0.0V10.5 M129.9 0.0V10.4 M130.2 0.0V9.0 M130.5 0.0V5.6 M130.8 0.0V8.5 M131.1 0.0V7.1 M131.4 0.0V1.8 M131.7 0.0V7.3 M132.0 0.0V3.9 M132.3 0.0V4.7 M132.6 0.0V3.0 M132.9 0.0V1.5 M140.7 0.0V0.8 M141.0 0.0V2.7 M141.3 0.0V4.0 M141.6 0.0V2.3 M141.9 0.0V4.5 M142.2 0.0V6.7 M142.5 0.0V3.6 M142.8 0.0V4.0 M143.1 0.0V4.2 M143.4 0.0V8.3 M143.7 0.0V6.5 M144.0 0.0V2.8 M144.3 0.0V6.5 M144.6 0.0V7.6 M144.9 0.0V10.8 M145.2 0.0V8.2 M145.5 0.0V3.4 M145.8 0.0V12.1 M146.1 0.0V3.8 M146.4 0.0V8.5 M146.7 0.0V4.0 M147.0 0.0V4.9 M147.3 0.0V13.7 M147.6 0.0V3.3 M147.9 0.0V10.7 M148.2 0.0V3.7 M148.5 0.0V3.8 M148.8 0.0V12.9 M149.1 0.0V15.4 M149.4 0.0V3.6 M149.7 0.0V8.4 M150.0 0.0V6.2 M150.3 0.0V8.1 M150.6 0.0V7.0 M150.9 0.0V7.8 M151.2 0.0V4.4 M151.5 0.0V14.0 M151.8 0.0V7.9 M152.1 0.0V11.6 M152.4 0.0V8.5 M152.7 0.0V3.7 M153.0 0.0V12.2 M153.3 0.0V9.9 M153.6 0.0V10.9 M153.9 0.0V4.0 M154.2 0.0V6.0 M154.5 0.0V7.2 M154.8 0.0V9.9 M155.1 0.0V8.3 M155.4 0.0V6.7 M155.7 0.0V6.5 M156.0 0.0V8.3 M156.3 0.0V3.1 M156.6 0.0V3.2 M156.9 0.0V2.7 M157.2 0.0V4.5 M157.5 0.0V2.9 M157.8 0.0V2.8 M158.1 0.0V3.1 M158.4 0.0V0.8 M166.2 0.0V0.0 M166.5 0.0V0.0 M166.8 0.0V3.1 M167.1 0.0V1.5 M167.4 0.0V3.2 M167.7 0.0V5.4 M168.0 0.0V6.8 M168.3 0.0V6.7 M168.6 0.0V3.7 M168.9 0.0V8.1 M169.2 0.0V8.3 M169.5 0.0V10.7 M169.8 0.0V10.2 M170.1 0.0V3.2 M170.4 0.0V6.0 M170.7 0.0V4.0 M171.0 0.0V10.6 M171.3 0.0V14.0 M171.6 0.0V10.4 M171.9 0.0V10.5 M172.2 0.0V4.4 M172.5 0.0V13.2 M172.8 0.0V10.3 M173.1 0.0V15.7 M173.4 0.0V10.6 M173.7 0.0V10.3 M174.0 0.0V14.6 M174.3 0.0V5.3 M174.6 0.0V15.6 M174.9 0.0V5.9 M175.2 0.0V9.8 M175.5 0.0V13.0 M175.8 0.0V8.1 M176.1 0.0V9.6 M176.4 0.0V13.9 M176.7 0.0V11.9 M177.0 0.0V10.9 M177.3 0.0V9.3 M177.6 0.0V7.7 M177.9 0.0V7.3 M178.2 0.0V8.6 M178.5 0.0V9.2 M178.8 0.0V8.7 M179.1 0.0V8.7 M179.4 0.0V6.7 M179.7 0.0V8.2 M180.0 0.0V3.0 M180.3 0.0V5.1 M180.6 0.0V3.2 M180.9 0.0V2.5 M181.2 0.0V2.8" stroke="#000" stroke-opacity="0.6" stroke-width="0.7" fill="none"/><rect x="0" y="-1.8" width="181.5" height="3.6" fill="#000"/></g></g>
<g transform="translate(889 246.6)"><g filter="url(#wb)"><path d="M1.8 -1.9V3.7 M2.1 -2.8V3.9 M2.4 -3.5V4.8 M2.7 -4.3V6.7 M3.0 -4.5V8.3 M3.3 -5.0V7.2 M3.6 -5.5V9.4 M3.9 -5.3V8.3 M4.2 -6.2V8.4 M4.5 -6.0V9.7 M4.8 -6.6V9.4 M5.1 -7.5V11.0 M5.4 -8.0V10.3 M5.7 -8.5V12.5 M6.0 -7.1V12.2 M6.3 -6.5V9.8 M6.6 -5.9V8.8 M6.9 -6.1V9.3 M7.2 -6.5V8.1 M7.5 -5.2V7.5 M7.8 -5.7V8.5 M8.1 -4.1V7.9 M8.4 -4.4V6.3 M8.7 -3.1V4.8 M9.0 -2.6V4.7 M9.3 -1.7V2.3 M13.5 -0.0V0.0 M13.8 -6.3V6.3 M14.1 -8.8V8.4 M14.4 -12.5V11.2 M14.7 -13.1V11.4 M15.0 -12.6V13.3 M15.3 -15.7V14.7 M15.6 -16.1V16.1 M15.9 -18.9V16.1 M16.2 -17.7V17.0 M16.5 -19.7V18.8 M16.8 -23.1V21.2 M17.1 -20.3V19.8 M17.4 -23.9V20.8 M17.7 -22.5V18.0 M18.0 -23.1V20.2 M18.3 -19.0V18.7 M18.6 -18.1V15.6 M18.9 -19.6V18.6 M19.2 -17.6V14.5 M19.5 -15.2V13.9 M19.8 -15.7V14.8 M20.1 -12.4V14.1 M20.4 -12.7V12.4 M20.7 -11.3V10.7 M21.0 -8.7V8.2 M21.3 -5.8V5.4 M21.6 -3.8V4.5 M21.9 -7.8V8.1 M22.2 -11.3V9.1 M22.5 -13.4V11.2 M22.8 -15.5V15.1 M23.1 -14.1V14.6 M23.4 -17.9V17.4 M23.7 -18.0V20.5 M24.0 -22.2V20.0 M24.3 -20.9V21.7 M24.6 -21.5V24.1 M24.9 -20.5V23.4 M25.2 -21.4V22.6 M25.5 -23.9V21.6 M25.8 -22.8V18.4 M26.1 -18.0V20.5 M26.4 -16.3V19.5 M26.7 -15.5V17.0 M27.0 -15.4V13.8 M27.3 -13.8V15.2 M27.6 -12.6V13.0 M27.9 -10.7V8.9 M28.2 -6.4V7.3 M30.6 -1.4V0.0 M30.9 -4.6V0.0 M31.2 -6.9V0.0 M31.5 -9.1V0.0 M31.8 -12.9V0.0 M32.1 -16.5V0.0 M32.4 -17.8V0.0 M32.7 -23.0V0.0 M33.0 -22.8V0.0 M33.3 -19.6V4.1 M33.6 -17.8V5.8 M33.9 -16.7V6.1 M34.2 -12.9V6.2 M34.5 -9.6V9.2 M34.8 -9.4V9.0 M35.1 -10.5V10.4 M35.4 -11.3V9.6 M35.7 -11.0V9.6 M36.0 -12.0V13.1 M36.3 -13.5V10.6 M36.6 -14.5V11.3 M36.9 -14.0V11.4 M37.2 -14.5V13.1 M37.5 -13.8V15.0 M37.8 -13.3V13.1 M38.1 -16.6V13.0 M38.4 -17.7V15.1 M38.7 -16.6V17.9 M39.0 -18.3V16.8 M39.3 -16.0V14.5 M39.6 -18.5V16.8 M39.9 -21.4V17.6 M40.2 -22.8V15.8 M40.5 -27.8V17.0 M40.8 -34.2V20.0 M41.1 -41.3V20.8 M41.4 -40.7V19.0 M41.7 -35.9V18.9 M42.0 -35.7V16.1 M42.3 -28.2V15.3 M42.6 -25.4V17.4 M42.9 -23.9V25.4 M43.2 -20.5V25.8 M43.5 -14.4V26.8 M43.8 -14.9V28.6 M44.1 -13.6V20.9 M44.4 -13.4V17.1 M44.7 -19.5V14.1 M45.0 -23.1V14.5 M45.3 -31.4V14.3 M45.6 -31.9V11.9 M45.9 -40.5V11.8 M46.2 -45.1V12.4 M46.5 -47.3V10.7 M46.8 -37.5V10.0 M47.1 -40.0V10.3 M47.4 -35.1V8.8 M47.7 -28.4V8.2 M48.0 -26.7V6.6 M48.3 -33.4V5.4 M48.6 -34.1V4.6 M48.9 -27.3V2.2 M49.2 -20.5V0.0 M49.5 -16.4V0.0 M49.8 -12.3V0.0 M50.1 -6.9V0.0 M50.4 -2.0V0.0 M53.1 -0.7V0.0 M53.4 -2.4V0.0 M53.7 -4.2V1.6 M54.0 -6.0V4.3 M54.3 -6.7V5.7 M54.6 -9.6V7.7 M54.9 -8.6V11.2 M55.2 -10.6V13.0 M55.5 -14.2V14.5 M55.8 -11.1V13.7 M56.1 -10.0V10.3 M56.4 -8.1V7.2 M56.7 -6.8V6.5 M57.0 -6.2V4.4 M57.3 -4.2V1.6 M57.6 -2.7V0.0 M57.9 -0.7V0.0 M59.7 -1.8V2.7 M60.0 -3.0V4.6 M60.3 -3.8V5.3 M60.6 -5.3V6.8 M60.9 -5.9V7.6 M61.2 -5.8V9.2 M61.5 -6.7V8.1 M61.8 -6.3V9.7 M62.1 -7.6V9.6 M62.4 -7.5V11.3 M62.7 -8.3V12.7 M63.0 -8.9V11.3 M63.3 -9.4V12.3 M63.6 -8.4V15.4 M63.9 -9.8V14.2 M64.2 -10.3V14.2 M64.5 -10.1V12.3 M64.8 -8.9V11.2 M65.1 -9.4V12.8 M65.4 -7.8V12.0 M65.7 -7.6V9.9 M66.0 -7.3V9.8 M66.3 -6.0V10.4 M66.6 -6.3V8.9 M66.9 -6.2V8.4 M67.2 -5.1V7.4 M67.5 -4.6V6.5 M67.8 -4.1V6.2 M68.1 -2.8V4.3 M68.4 -1.5V2.0 M72.6 -4.2V3.2 M72.9 -6.8V7.5 M73.2 -11.4V8.8 M73.5 -13.4V9.6 M73.8 -12.7V13.4 M74.1 -14.2V14.9 M74.4 -16.0V16.3 M74.7 -19.0V17.7 M75.0 -18.3V17.8 M75.3 -21.3V19.2 M75.6 -22.0V17.1 M75.9 -21.2V20.3 M76.2 -23.6V20.5 M76.5 -22.8V23.1 M76.8 -21.9V19.0 M77.1 -25.3V16.8 M77.4 -23.8V18.6 M77.7 -19.7V18.5 M78.0 -21.0V17.6 M78.3 -19.4V14.1 M78.6 -18.0V15.8 M78.9 -14.3V13.7 M79.2 -14.7V12.3 M79.5 -10.7V10.6 M79.8 -11.0V7.7 M80.1 -8.3V6.2 M80.4 -3.7V3.5 M81.3 -5.2V0.0 M81.6 -7.9V0.0 M81.9 -9.9V0.0 M82.2 -12.2V4.1 M82.5 -12.5V7.0 M82.8 -15.8V10.1 M83.1 -15.4V10.2 M83.4 -15.5V14.2 M83.7 -17.9V11.9 M84.0 -18.5V16.6 M84.3 -18.4V17.3 M84.6 -20.1V15.2 M84.9 -19.7V17.6 M85.2 -19.8V18.1 M85.5 -20.9V16.8 M85.8 -25.4V21.8 M86.1 -25.8V20.4 M86.4 -19.7V20.9 M86.7 -20.7V24.6 M87.0 -19.5V20.3 M87.3 -20.7V22.3 M87.6 -23.5V23.5 M87.9 -26.6V22.6 M88.2 -25.2V19.2 M88.5 -21.0V20.4 M88.8 -19.6V19.8 M89.1 -18.1V20.3 M89.4 -12.5V16.6 M89.7 -11.4V15.9 M90.0 -10.4V13.4 M90.3 -8.4V13.4 M90.6 -6.7V13.2 M90.9 -2.9V10.7 M91.2 0.0V8.9 M91.5 0.0V7.6 M91.8 0.0V4.9 M93.3 -3.1V0.0 M93.6 -4.0V0.0 M93.9 -4.5V0.0 M94.2 -5.8V0.0 M94.5 -6.4V0.0 M94.8 -6.7V0.0 M95.1 -7.9V2.1 M95.4 -8.3V4.0 M95.7 -9.1V5.3 M96.0 -8.3V6.3 M96.3 -8.5V7.6 M96.6 -9.8V7.1 M96.9 -9.6V8.7 M97.2 -10.0V9.9 M97.5 -12.0V10.9 M97.8 -11.8V11.5 M98.1 -12.3V10.1 M98.4 -13.5V13.2 M98.7 -12.8V11.7 M99.0 -13.4V11.1 M99.3 -14.7V11.5 M99.6 -13.3V12.9 M99.9 -12.9V13.4 M100.2 -13.6V15.1 M100.5 -13.1V13.0 M100.8 -13.1V14.3 M101.1 -15.3V14.4 M101.4 -14.1V13.7 M101.7 -15.0V14.7 M102.0 -23.9V16.5 M102.3 -23.7V17.2 M102.6 -35.0V19.2 M102.9 -38.2V15.9 M103.2 -36.3V17.2 M103.5 -39.6V16.7 M103.8 -47.3V20.2 M104.1 -42.5V20.2 M104.4 -33.7V19.5 M104.7 -30.5V16.6 M105.0 -27.1V17.0 M105.3 -27.9V16.5 M105.6 -24.2V18.3 M105.9 -24.3V14.9 M106.2 -26.8V15.9 M106.5 -23.9V17.8 M106.8 -28.1V15.3 M107.1 -25.4V13.8 M107.4 -22.1V13.4 M107.7 -28.3V13.9 M108.0 -34.8V15.5 M108.3 -32.4V15.0 M108.6 -39.3V12.7 M108.9 -41.7V10.9 M109.2 -38.2V13.8 M109.5 -35.1V11.1 M109.8 -31.5V10.0 M110.1 -26.6V11.1 M110.4 -20.1V11.6 M110.7 -14.5V10.4 M111.0 -9.9V8.3 M111.3 -6.2V8.1 M111.6 -0.0V7.5 M111.9 0.0V5.8 M112.2 0.0V5.0 M112.5 0.0V5.0 M112.8 0.0V3.1 M118.8 -5.3V0.0 M119.1 -7.8V2.7 M119.4 -9.6V4.7 M119.7 -11.9V7.0 M120.0 -13.9V7.4 M120.3 -15.1V9.4 M120.6 -13.4V9.7 M120.9 -15.3V12.3 M121.2 -16.8V11.4 M121.5 -18.4V14.4 M121.8 -20.3V14.0 M122.1 -19.4V13.7 M122.4 -18.9V14.2 M122.7 -18.9V13.9 M123.0 -20.5V17.5 M123.3 -22.4V14.2 M123.6 -20.5V16.4 M123.9 -25.8V16.6 M124.2 -24.9V16.0 M124.5 -29.8V18.3 M124.8 -36.7V19.0 M125.1 -34.3V22.5 M125.4 -36.4V23.0 M125.7 -31.4V22.1 M126.0 -23.1V18.7 M126.3 -28.0V17.9 M126.6 -22.6V22.7 M126.9 -26.8V22.4 M127.2 -23.1V18.1 M127.5 -22.7V18.6 M127.8 -19.8V20.1 M128.1 -21.1V16.2 M128.4 -20.8V15.8 M128.7 -19.6V18.9 M129.0 -18.6V16.5 M129.3 -18.9V14.5 M129.6 -15.6V13.0 M129.9 -16.3V15.6 M130.2 -14.0V15.3 M130.5 -15.8V13.7 M130.8 -11.9V12.3 M131.1 -10.7V12.4 M131.4 -11.5V9.9 M131.7 -8.2V9.9 M132.0 -7.2V7.8 M132.3 -4.1V5.9 M132.6 0.0V4.5 M132.9 0.0V2.3 M140.7 -3.3V3.1 M141.0 -5.6V4.2 M141.3 -7.5V4.9 M141.6 -8.3V6.8 M141.9 -10.2V8.4 M142.2 -10.7V7.7 M142.5 -10.3V7.6 M142.8 -11.1V8.5 M143.1 -11.9V10.1 M143.4 -14.5V11.0 M143.7 -14.5V12.6 M144.0 -16.2V11.2 M144.3 -14.7V13.1 M144.6 -15.2V11.7 M144.9 -17.0V11.5 M145.2 -15.3V15.6 M145.5 -18.2V12.2 M145.8 -18.8V16.0 M146.1 -18.6V13.4 M146.4 -17.5V16.2 M146.7 -19.4V15.9 M147.0 -18.9V15.2 M147.3 -23.5V18.4 M147.6 -26.1V17.1 M147.9 -34.6V14.9 M148.2 -32.4V19.3 M148.5 -44.3V18.7 M148.8 -49.2V15.4 M149.1 -51.2V17.9 M149.4 -45.4V17.4 M149.7 -39.3V18.3 M150.0 -29.8V16.9 M150.3 -25.9V18.8 M150.6 -24.9V16.0 M150.9 -22.8V18.2 M151.2 -22.5V15.6 M151.5 -20.0V15.9 M151.8 -18.3V17.6 M152.1 -19.1V14.8 M152.4 -23.1V13.2 M152.7 -28.9V13.5 M153.0 -34.2V14.0 M153.3 -39.4V13.0 M153.6 -42.2V15.7 M153.9 -41.8V15.2 M154.2 -37.9V12.2 M154.5 -38.8V12.8 M154.8 -30.2V11.1 M155.1 -32.4V11.6 M155.4 -23.3V12.0 M155.7 -21.5V10.4 M156.0 -13.0V10.7 M156.3 -10.6V9.9 M156.6 -11.6V8.6 M156.9 -8.6V7.5 M157.2 -8.6V7.1 M157.5 -8.6V6.4 M157.8 -6.2V5.9 M158.1 -5.4V3.6 M158.4 -2.3V2.1 M166.2 -4.8V0.0 M166.5 -7.8V0.0 M166.8 -9.2V4.7 M167.1 -10.9V5.3 M167.4 -10.8V7.8 M167.7 -11.7V9.0 M168.0 -15.1V10.5 M168.3 -15.1V10.0 M168.6 -17.3V10.3 M168.9 -17.0V11.3 M169.2 -18.7V14.4 M169.5 -17.6V15.2 M169.8 -18.6V13.1 M170.1 -22.1V14.8 M170.4 -21.4V15.6 M170.7 -24.4V15.1 M171.0 -31.2V15.9 M171.3 -32.7V16.6 M171.6 -39.0V19.7 M171.9 -37.6V18.1 M172.2 -26.4V18.7 M172.5 -24.2V20.4 M172.8 -25.5V17.1 M173.1 -23.5V17.3 M173.4 -24.5V19.8 M173.7 -28.0V21.8 M174.0 -23.9V18.3 M174.3 -25.1V20.5 M174.6 -25.1V20.8 M174.9 -23.4V18.2 M175.2 -23.4V21.6 M175.5 -23.1V18.2 M175.8 -23.5V18.0 M176.1 -21.9V20.0 M176.4 -24.0V18.9 M176.7 -19.6V18.0 M177.0 -19.6V17.1 M177.3 -21.5V15.1 M177.6 -19.6V14.2 M177.9 -19.8V13.3 M178.2 -18.1V15.4 M178.5 -16.8V14.4 M178.8 -15.0V12.9 M179.1 -13.1V12.8 M179.4 -12.7V11.2 M179.7 -11.8V9.7 M180.0 -10.2V9.3 M180.3 -9.3V8.1 M180.6 -6.6V7.7 M180.9 -3.0V6.0 M181.2 0.0V4.0" stroke="#000" stroke-opacity="0.14" stroke-width="0.6" fill="none"/><path d="M18.5 -33.0V0.0 M26.5 -33.0V0.0 M28.0 0.0V38.0 M43.5 0.0V42.0 M47.0 0.0V30.0 M104.5 -52.0V0.0 M105.6 0.0V42.0 M124.0 -41.0V0.0 M135.4 -31.0V0.0 M135.4 0.0V38.0 M152.0 0.0V42.0 M172.0 -41.0V0.0 M8.0 0.0V16.0 M20.0 0.0V28.0 M84.0 0.0V30.0 M89.0 -32.0V0.0 M66.0 0.0V14.0 M33.0 0.0V30.0 M80.0 -28.0V0.0 M120.0 0.0V30.0 M160.0 0.0V28.0 M178.0 0.0V30.0" stroke="#000" stroke-opacity="0.45" stroke-width="1" fill="none"/><path d="M1.8 -0.7V0.0 M2.1 -3.0V0.0 M2.4 -2.6V0.0 M2.7 -2.8V0.0 M3.0 -3.2V0.0 M3.3 -5.4V0.0 M3.6 -2.9V0.0 M3.9 -3.6V0.0 M4.2 -6.2V0.0 M4.5 -5.2V0.0 M4.8 -7.1V0.0 M5.1 -2.2V0.0 M5.4 -3.3V0.0 M5.7 -4.7V0.0 M6.0 -3.8V0.0 M6.3 -5.4V0.0 M6.6 -5.8V0.0 M6.9 -4.6V0.0 M7.2 -5.9V0.0 M7.5 -2.1V0.0 M7.8 -4.3V0.0 M8.1 -3.5V0.0 M8.4 -1.9V0.0 M8.7 -1.8V0.0 M9.0 -2.0V0.0 M9.3 -0.8V0.0 M13.5 -0.0V0.0 M13.8 -5.2V0.0 M14.1 -8.5V0.0 M14.4 -8.4V0.0 M14.7 -10.8V0.0 M15.0 -13.2V0.0 M15.3 -10.4V0.0 M15.6 -16.5V0.0 M15.9 -7.9V0.0 M16.2 -18.3V0.0 M16.5 -18.1V0.0 M16.8 -11.3V0.0 M17.1 -18.4V0.0 M17.4 -11.5V0.0 M17.7 -12.1V0.0 M18.0 -5.6V0.0 M18.3 -11.0V0.0 M18.6 -4.9V0.0 M18.9 -14.6V0.0 M19.2 -17.7V0.0 M19.5 -3.8V0.0 M19.8 -8.5V0.0 M20.1 -8.2V0.0 M20.4 -10.3V0.0 M20.7 -6.1V0.0 M21.0 -5.4V0.0 M21.3 -4.1V0.0 M21.6 -4.0V0.0 M21.9 -7.4V0.0 M22.2 -9.1V0.0 M22.5 -11.1V0.0 M22.8 -5.5V0.0 M23.1 -15.7V0.0 M23.4 -12.0V0.0 M23.7 -17.1V0.0 M24.0 -19.0V0.0 M24.3 -15.3V0.0 M24.6 -5.5V0.0 M24.9 -16.7V0.0 M25.2 -13.9V0.0 M25.5 -7.9V0.0 M25.8 -10.9V0.0 M26.1 -17.0V0.0 M26.4 -9.7V0.0 M26.7 -6.0V0.0 M27.0 -9.6V0.0 M27.3 -6.0V0.0 M27.6 -9.0V0.0 M27.9 -9.3V0.0 M28.2 -7.0V0.0 M30.6 -1.2V0.0 M30.9 -3.0V0.0 M31.2 -5.0V0.0 M31.5 -10.2V0.0 M31.8 -12.1V0.0 M32.1 -13.5V0.0 M32.4 -14.7V0.0 M32.7 -17.2V0.0 M33.0 -22.7V0.0 M33.3 -21.2V0.0 M33.6 -17.1V0.0 M33.9 -14.1V0.0 M34.2 -8.4V0.0 M34.5 -9.0V0.0 M34.8 -7.4V0.0 M35.1 -5.9V0.0 M35.4 -10.8V0.0 M35.7 -6.8V0.0 M36.0 -5.7V0.0 M36.3 -9.1V0.0 M36.6 -9.8V0.0 M36.9 -8.9V0.0 M37.2 -14.0V0.0 M37.5 -7.4V0.0 M37.8 -7.8V0.0 M38.1 -13.4V0.0 M38.4 -16.3V0.0 M38.7 -10.9V0.0 M39.0 -14.2V0.0 M39.3 -9.3V0.0 M39.6 -12.4V0.0 M39.9 -17.1V0.0 M40.2 -24.6V0.0 M40.5 -27.0V0.0 M40.8 -28.1V0.0 M41.1 -26.8V0.0 M41.4 -26.6V0.0 M41.7 -33.6V0.0 M42.0 -31.4V0.0 M42.3 -29.2V0.0 M42.6 -23.9V0.0 M42.9 -21.8V0.0 M43.2 -15.6V0.0 M43.5 -9.3V0.0 M43.8 -11.4V0.0 M44.1 -5.7V0.0 M44.4 -12.4V0.0 M44.7 -14.2V0.0 M45.0 -23.5V0.0 M45.3 -21.1V0.0 M45.6 -25.2V0.0 M45.9 -26.2V0.0 M46.2 -35.8V0.0 M46.5 -29.2V0.0 M46.8 -37.3V0.0 M47.1 -24.5V0.0 M47.4 -28.9V0.0 M47.7 -20.0V0.0 M48.0 -19.3V0.0 M48.3 -27.5V0.0 M48.6 -28.1V0.0 M48.9 -27.3V0.0 M49.2 -17.7V0.0 M49.5 -13.7V0.0 M49.8 -13.1V0.0 M50.1 -7.3V0.0 M50.4 -2.2V0.0 M53.1 -0.6V0.0 M53.4 -2.4V0.0 M53.7 -2.9V0.0 M54.0 -4.5V0.0 M54.3 -4.8V0.0 M54.6 -7.0V0.0 M54.9 -6.7V0.0 M55.2 -10.8V0.0 M55.5 -10.3V0.0 M55.8 -8.4V0.0 M56.1 -9.4V0.0 M56.4 -8.1V0.0 M56.7 -5.7V0.0 M57.0 -4.3V0.0 M57.3 -2.5V0.0 M57.6 -2.0V0.0 M57.9 -0.6V0.0 M59.7 -1.7V0.0 M60.0 -1.1V0.0 M60.3 -3.8V0.0 M60.6 -1.7V0.0 M60.9 -3.7V0.0 M61.2 -3.3V0.0 M61.5 -6.6V0.0 M61.8 -3.8V0.0 M62.1 -5.1V0.0 M62.4 -6.8V0.0 M62.7 -3.1V0.0 M63.0 -7.9V0.0 M63.3 -2.8V0.0 M63.6 -9.1V0.0 M63.9 -3.6V0.0 M64.2 -4.7V0.0 M64.5 -3.3V0.0 M64.8 -6.5V0.0 M65.1 -2.2V0.0 M65.4 -4.2V0.0 M65.7 -6.9V0.0 M66.0 -4.3V0.0 M66.3 -5.0V0.0 M66.6 -2.4V0.0 M66.9 -4.5V0.0 M67.2 -5.4V0.0 M67.5 -3.3V0.0 M67.8 -3.7V0.0 M68.1 -2.5V0.0 M68.4 -0.4V0.0 M72.6 -2.1V0.0 M72.9 -4.4V0.0 M73.2 -5.4V0.0 M73.5 -5.3V0.0 M73.8 -12.7V0.0 M74.1 -15.8V0.0 M74.4 -4.7V0.0 M74.7 -17.0V0.0 M75.0 -12.2V0.0 M75.3 -8.7V0.0 M75.6 -12.4V0.0 M75.9 -11.7V0.0 M76.2 -7.6V0.0 M76.5 -6.7V0.0 M76.8 -7.5V0.0 M77.1 -16.0V0.0 M77.4 -13.9V0.0 M77.7 -8.4V0.0 M78.0 -17.0V0.0 M78.3 -12.5V0.0 M78.6 -12.7V0.0 M78.9 -13.6V0.0 M79.2 -9.4V0.0 M79.5 -11.5V0.0 M79.8 -6.4V0.0 M80.1 -7.4V0.0 M80.4 -1.5V0.0 M81.3 -5.2V0.0 M81.6 -7.4V0.0 M81.9 -4.4V0.0 M82.2 -11.7V0.0 M82.5 -6.0V0.0 M82.8 -8.7V0.0 M83.1 -12.8V0.0 M83.4 -10.5V0.0 M83.7 -13.0V0.0 M84.0 -10.0V0.0 M84.3 -12.3V0.0 M84.6 -8.8V0.0 M84.9 -9.0V0.0 M85.2 -21.9V0.0 M85.5 -6.8V0.0 M85.8 -9.5V0.0 M86.1 -11.4V0.0 M86.4 -19.5V0.0 M86.7 -12.7V0.0 M87.0 -14.5V0.0 M87.3 -18.7V0.0 M87.6 -16.8V0.0 M87.9 -19.1V0.0 M88.2 -21.0V0.0 M88.5 -16.8V0.0 M88.8 -19.6V0.0 M89.1 -14.0V0.0 M89.4 -12.4V0.0 M89.7 -7.1V0.0 M90.0 -5.2V0.0 M90.3 -7.0V0.0 M90.6 -2.6V0.0 M90.9 -0.8V0.0 M91.2 -0.0V0.0 M91.5 -0.0V0.0 M91.8 -0.0V0.0 M93.3 -1.7V0.0 M93.6 -3.9V0.0 M93.9 -2.8V0.0 M94.2 -4.6V0.0 M94.5 -3.0V0.0 M94.8 -5.0V0.0 M95.1 -7.2V0.0 M95.4 -8.1V0.0 M95.7 -6.2V0.0 M96.0 -4.2V0.0 M96.3 -3.4V0.0 M96.6 -3.4V0.0 M96.9 -9.6V0.0 M97.2 -9.5V0.0 M97.5 -6.0V0.0 M97.8 -8.3V0.0 M98.1 -10.5V0.0 M98.4 -5.0V0.0 M98.7 -4.6V0.0 M99.0 -12.5V0.0 M99.3 -3.5V0.0 M99.6 -7.3V0.0 M99.9 -7.2V0.0 M100.2 -10.6V0.0 M100.5 -10.1V0.0 M100.8 -14.3V0.0 M101.1 -5.3V0.0 M101.4 -9.5V0.0 M101.7 -16.5V0.0 M102.0 -22.4V0.0 M102.3 -25.3V0.0 M102.6 -27.4V0.0 M102.9 -28.8V0.0 M103.2 -27.9V0.0 M103.5 -33.6V0.0 M103.8 -27.1V0.0 M104.1 -30.5V0.0 M104.4 -22.9V0.0 M104.7 -29.5V0.0 M105.0 -19.2V0.0 M105.3 -19.7V0.0 M105.6 -11.4V0.0 M105.9 -19.2V0.0 M106.2 -15.0V0.0 M106.5 -13.9V0.0 M106.8 -13.4V0.0 M107.1 -24.1V0.0 M107.4 -20.5V0.0 M107.7 -28.0V0.0 M108.0 -22.3V0.0 M108.3 -29.6V0.0 M108.6 -32.2V0.0 M108.9 -35.8V0.0 M109.2 -29.8V0.0 M109.5 -26.7V0.0 M109.8 -29.4V0.0 M110.1 -20.0V0.0 M110.4 -19.1V0.0 M110.7 -15.0V0.0 M111.0 -9.0V0.0 M111.3 -3.7V0.0 M111.6 -0.0V0.0 M111.9 -0.0V0.0 M112.2 -0.0V0.0 M112.5 -0.0V0.0 M112.8 -0.0V0.0 M118.8 -4.2V0.0 M119.1 -6.4V0.0 M119.4 -7.4V0.0 M119.7 -7.1V0.0 M120.0 -6.0V0.0 M120.3 -8.5V0.0 M120.6 -10.6V0.0 M120.9 -9.3V0.0 M121.2 -16.8V0.0 M121.5 -11.6V0.0 M121.8 -18.9V0.0 M122.1 -16.1V0.0 M122.4 -16.1V0.0 M122.7 -8.0V0.0 M123.0 -17.2V0.0 M123.3 -19.1V0.0 M123.6 -21.7V0.0 M123.9 -19.3V0.0 M124.2 -18.4V0.0 M124.5 -23.5V0.0 M124.8 -25.5V0.0 M125.1 -24.7V0.0 M125.4 -26.1V0.0 M125.7 -18.0V0.0 M126.0 -21.9V0.0 M126.3 -20.4V0.0 M126.6 -15.3V0.0 M126.9 -13.2V0.0 M127.2 -17.3V0.0 M127.5 -19.6V0.0 M127.8 -12.7V0.0 M128.1 -6.4V0.0 M128.4 -7.0V0.0 M128.7 -17.2V0.0 M129.0 -4.3V0.0 M129.3 -10.6V0.0 M129.6 -11.9V0.0 M129.9 -7.9V0.0 M130.2 -9.4V0.0 M130.5 -13.3V0.0 M130.8 -10.5V0.0 M131.1 -8.7V0.0 M131.4 -9.3V0.0 M131.7 -7.5V0.0 M132.0 -4.6V0.0 M132.3 -1.6V0.0 M132.6 -0.0V0.0 M132.9 -0.0V0.0 M140.7 -1.6V0.0 M141.0 -1.4V0.0 M141.3 -2.7V0.0 M141.6 -7.2V0.0 M141.9 -3.3V0.0 M142.2 -8.3V0.0 M142.5 -10.3V0.0 M142.8 -8.3V0.0 M143.1 -8.4V0.0 M143.4 -12.5V0.0 M143.7 -9.9V0.0 M144.0 -12.8V0.0 M144.3 -13.4V0.0 M144.6 -15.6V0.0 M144.9 -16.2V0.0 M145.2 -16.2V0.0 M145.5 -9.2V0.0 M145.8 -4.6V0.0 M146.1 -16.3V0.0 M146.4 -13.2V0.0 M146.7 -11.9V0.0 M147.0 -20.0V0.0 M147.3 -21.0V0.0 M147.6 -26.1V0.0 M147.9 -27.0V0.0 M148.2 -36.3V0.0 M148.5 -25.5V0.0 M148.8 -38.9V0.0 M149.1 -44.4V0.0 M149.4 -32.2V0.0 M149.7 -31.3V0.0 M150.0 -32.0V0.0 M150.3 -26.0V0.0 M150.6 -18.9V0.0 M150.9 -13.0V0.0 M151.2 -18.6V0.0 M151.5 -9.2V0.0 M151.8 -19.5V0.0 M152.1 -17.4V0.0 M152.4 -19.7V0.0 M152.7 -20.2V0.0 M153.0 -30.0V0.0 M153.3 -23.8V0.0 M153.6 -35.6V0.0 M153.9 -34.1V0.0 M154.2 -29.6V0.0 M154.5 -25.6V0.0 M154.8 -28.1V0.0 M155.1 -21.7V0.0 M155.4 -18.4V0.0 M155.7 -15.9V0.0 M156.0 -14.9V0.0 M156.3 -6.9V0.0 M156.6 -4.8V0.0 M156.9 -7.8V0.0 M157.2 -2.4V0.0 M157.5 -6.0V0.0 M157.8 -4.0V0.0 M158.1 -2.3V0.0 M158.4 -1.7V0.0 M166.2 -4.0V0.0 M166.5 -6.4V0.0 M166.8 -6.1V0.0 M167.1 -10.3V0.0 M167.4 -12.0V0.0 M167.7 -11.2V0.0 M168.0 -4.1V0.0 M168.3 -11.0V0.0 M168.6 -9.0V0.0 M168.9 -13.4V0.0 M169.2 -8.8V0.0 M169.5 -10.1V0.0 M169.8 -14.9V0.0 M170.1 -15.2V0.0 M170.4 -21.3V0.0 M170.7 -20.7V0.0 M171.0 -32.1V0.0 M171.3 -29.3V0.0 M171.6 -34.9V0.0 M171.9 -23.9V0.0 M172.2 -27.0V0.0 M172.5 -22.4V0.0 M172.8 -20.4V0.0 M173.1 -17.5V0.0 M173.4 -13.4V0.0 M173.7 -19.7V0.0 M174.0 -20.1V0.0 M174.3 -16.9V0.0 M174.6 -8.6V0.0 M174.9 -13.1V0.0 M175.2 -22.5V0.0 M175.5 -11.3V0.0 M175.8 -14.3V0.0 M176.1 -11.5V0.0 M176.4 -13.7V0.0 M176.7 -12.4V0.0 M177.0 -19.8V0.0 M177.3 -8.7V0.0 M177.6 -15.3V0.0 M177.9 -13.3V0.0 M178.2 -16.1V0.0 M178.5 -9.3V0.0 M178.8 -10.9V0.0 M179.1 -14.0V0.0 M179.4 -12.5V0.0 M179.7 -4.6V0.0 M180.0 -8.9V0.0 M180.3 -5.8V0.0 M180.6 -5.4V0.0 M180.9 -2.9V0.0 M181.2 -0.0V0.0" stroke="#000" stroke-opacity="1" stroke-width="0.6" fill="none"/><path d="M1.8 0.0V2.2 M2.1 0.0V2.9 M2.4 0.0V2.0 M2.7 0.0V4.9 M3.0 0.0V3.8 M3.3 0.0V5.4 M3.6 0.0V6.1 M3.9 0.0V7.0 M4.2 0.0V8.1 M4.5 0.0V4.2 M4.8 0.0V3.1 M5.1 0.0V3.8 M5.4 0.0V3.5 M5.7 0.0V4.7 M6.0 0.0V4.0 M6.3 0.0V8.9 M6.6 0.0V4.3 M6.9 0.0V5.9 M7.2 0.0V5.4 M7.5 0.0V6.2 M7.8 0.0V2.7 M8.1 0.0V2.0 M8.4 0.0V2.5 M8.7 0.0V3.6 M9.0 0.0V2.6 M9.3 0.0V1.1 M13.5 0.0V0.0 M13.8 0.0V4.5 M14.1 0.0V5.2 M14.4 0.0V6.5 M14.7 0.0V8.1 M15.0 0.0V9.2 M15.3 0.0V9.7 M15.6 0.0V2.9 M15.9 0.0V13.1 M16.2 0.0V11.5 M16.5 0.0V14.4 M16.8 0.0V10.7 M17.1 0.0V8.3 M17.4 0.0V10.6 M17.7 0.0V17.3 M18.0 0.0V4.4 M18.3 0.0V3.8 M18.6 0.0V6.9 M18.9 0.0V10.9 M19.2 0.0V5.7 M19.5 0.0V10.3 M19.8 0.0V7.9 M20.1 0.0V10.0 M20.4 0.0V5.9 M20.7 0.0V7.4 M21.0 0.0V2.7 M21.3 0.0V1.7 M21.6 0.0V2.9 M21.9 0.0V2.1 M22.2 0.0V2.2 M22.5 0.0V5.7 M22.8 0.0V10.0 M23.1 0.0V13.1 M23.4 0.0V12.1 M23.7 0.0V8.2 M24.0 0.0V15.3 M24.3 0.0V12.3 M24.6 0.0V12.6 M24.9 0.0V15.7 M25.2 0.0V18.5 M25.5 0.0V16.3 M25.8 0.0V13.1 M26.1 0.0V6.9 M26.4 0.0V11.6 M26.7 0.0V6.7 M27.0 0.0V7.8 M27.3 0.0V8.9 M27.6 0.0V4.6 M27.9 0.0V4.3 M28.2 0.0V2.1 M30.6 0.0V0.0 M30.9 0.0V0.0 M31.2 0.0V0.0 M31.5 0.0V0.0 M31.8 0.0V0.0 M32.1 0.0V0.0 M32.4 0.0V0.0 M32.7 0.0V0.0 M33.0 0.0V0.0 M33.3 0.0V2.7 M33.6 0.0V3.9 M33.9 0.0V4.5 M34.2 0.0V3.3 M34.5 0.0V5.2 M34.8 0.0V5.9 M35.1 0.0V6.2 M35.4 0.0V6.5 M35.7 0.0V3.9 M36.0 0.0V6.8 M36.3 0.0V7.8 M36.6 0.0V2.9 M36.9 0.0V7.3 M37.2 0.0V7.9 M37.5 0.0V8.4 M37.8 0.0V5.7 M38.1 0.0V11.9 M38.4 0.0V3.9 M38.7 0.0V6.2 M39.0 0.0V13.7 M39.3 0.0V8.9 M39.6 0.0V9.0 M39.9 0.0V8.9 M40.2 0.0V12.5 M40.5 0.0V11.6 M40.8 0.0V11.5 M41.1 0.0V15.7 M41.4 0.0V7.5 M41.7 0.0V4.6 M42.0 0.0V8.4 M42.3 0.0V13.1 M42.6 0.0V12.9 M42.9 0.0V10.6 M43.2 0.0V18.7 M43.5 0.0V23.9 M43.8 0.0V17.8 M44.1 0.0V14.6 M44.4 0.0V7.5 M44.7 0.0V4.0 M45.0 0.0V10.7 M45.3 0.0V6.4 M45.6 0.0V5.8 M45.9 0.0V7.0 M46.2 0.0V3.8 M46.5 0.0V6.0 M46.8 0.0V7.3 M47.1 0.0V2.4 M47.4 0.0V2.6 M47.7 0.0V5.5 M48.0 0.0V5.5 M48.3 0.0V3.8 M48.6 0.0V3.2 M48.9 0.0V1.4 M49.2 0.0V0.0 M49.5 0.0V0.0 M49.8 0.0V0.0 M50.1 0.0V0.0 M50.4 0.0V0.0 M53.1 0.0V0.0 M53.4 0.0V0.0 M53.7 0.0V1.5 M54.0 0.0V1.9 M54.3 0.0V2.0 M54.6 0.0V5.3 M54.9 0.0V7.4 M55.2 0.0V3.2 M55.5 0.0V7.6 M55.8 0.0V8.9 M56.1 0.0V3.7 M56.4 0.0V3.6 M56.7 0.0V4.3 M57.0 0.0V2.2 M57.3 0.0V0.9 M57.6 0.0V0.0 M57.9 0.0V0.0 M59.7 0.0V2.2 M60.0 0.0V3.2 M60.3 0.0V1.6 M60.6 0.0V1.8 M60.9 0.0V5.7 M61.2 0.0V1.7 M61.5 0.0V6.2 M61.8 0.0V6.6 M62.1 0.0V8.1 M62.4 0.0V6.7 M62.7 0.0V10.0 M63.0 0.0V10.2 M63.3 0.0V7.9 M63.6 0.0V7.2 M63.9 0.0V8.2 M64.2 0.0V11.7 M64.5 0.0V5.6 M64.8 0.0V4.4 M65.1 0.0V10.3 M65.4 0.0V8.2 M65.7 0.0V4.0 M66.0 0.0V3.6 M66.3 0.0V6.4 M66.6 0.0V5.7 M66.9 0.0V6.0 M67.2 0.0V5.8 M67.5 0.0V3.8 M67.8 0.0V1.3 M68.1 0.0V3.0 M68.4 0.0V1.1 M72.6 0.0V2.7 M72.9 0.0V1.5 M73.2 0.0V7.2 M73.5 0.0V8.6 M73.8 0.0V6.6 M74.1 0.0V8.6 M74.4 0.0V10.2 M74.7 0.0V4.8 M75.0 0.0V6.3 M75.3 0.0V6.8 M75.6 0.0V14.7 M75.9 0.0V12.9 M76.2 0.0V10.6 M76.5 0.0V8.9 M76.8 0.0V14.5 M77.1 0.0V15.5 M77.4 0.0V9.1 M77.7 0.0V11.5 M78.0 0.0V9.4 M78.3 0.0V5.3 M78.6 0.0V7.6 M78.9 0.0V7.4 M79.2 0.0V7.5 M79.5 0.0V3.4 M79.8 0.0V3.6 M80.1 0.0V3.9 M80.4 0.0V0.8 M81.3 0.0V0.0 M81.6 0.0V0.0 M81.9 0.0V0.0 M82.2 0.0V2.5 M82.5 0.0V2.3 M82.8 0.0V2.0 M83.1 0.0V4.4 M83.4 0.0V5.9 M83.7 0.0V6.8 M84.0 0.0V11.5 M84.3 0.0V12.2 M84.6 0.0V5.9 M84.9 0.0V9.7 M85.2 0.0V14.6 M85.5 0.0V9.3 M85.8 0.0V10.1 M86.1 0.0V6.9 M86.4 0.0V17.6 M86.7 0.0V17.9 M87.0 0.0V11.6 M87.3 0.0V4.9 M87.6 0.0V15.1 M87.9 0.0V7.7 M88.2 0.0V15.9 M88.5 0.0V4.4 M88.8 0.0V15.7 M89.1 0.0V12.1 M89.4 0.0V10.9 M89.7 0.0V7.8 M90.0 0.0V7.4 M90.3 0.0V3.7 M90.6 0.0V8.5 M90.9 0.0V5.2 M91.2 0.0V5.8 M91.5 0.0V3.4 M91.8 0.0V1.6 M93.3 0.0V0.0 M93.6 0.0V0.0 M93.9 0.0V0.0 M94.2 0.0V0.0 M94.5 0.0V0.0 M94.8 0.0V0.0 M95.1 0.0V1.4 M95.4 0.0V1.3 M95.7 0.0V2.2 M96.0 0.0V2.8 M96.3 0.0V1.8 M96.6 0.0V5.7 M96.9 0.0V2.0 M97.2 0.0V6.4 M97.5 0.0V7.1 M97.8 0.0V7.2 M98.1 0.0V5.3 M98.4 0.0V7.1 M98.7 0.0V6.1 M99.0 0.0V2.9 M99.3 0.0V9.1 M99.6 0.0V7.9 M99.9 0.0V10.6 M100.2 0.0V12.0 M100.5 0.0V4.7 M100.8 0.0V8.4 M101.1 0.0V4.9 M101.4 0.0V7.5 M101.7 0.0V7.1 M102.0 0.0V6.0 M102.3 0.0V8.4 M102.6 0.0V7.2 M102.9 0.0V13.4 M103.2 0.0V5.3 M103.5 0.0V10.4 M103.8 0.0V10.7 M104.1 0.0V13.9 M104.4 0.0V15.1 M104.7 0.0V3.7 M105.0 0.0V11.6 M105.3 0.0V7.2 M105.6 0.0V12.0 M105.9 0.0V5.7 M106.2 0.0V3.0 M106.5 0.0V13.2 M106.8 0.0V4.5 M107.1 0.0V7.7 M107.4 0.0V12.2 M107.7 0.0V4.6 M108.0 0.0V8.9 M108.3 0.0V8.2 M108.6 0.0V8.7 M108.9 0.0V7.7 M109.2 0.0V7.6 M109.5 0.0V9.9 M109.8 0.0V5.6 M110.1 0.0V4.1 M110.4 0.0V7.5 M110.7 0.0V6.5 M111.0 0.0V6.9 M111.3 0.0V4.9 M111.6 0.0V5.7 M111.9 0.0V2.1 M112.2 0.0V4.4 M112.5 0.0V3.4 M112.8 0.0V1.0 M118.8 0.0V0.0 M119.1 0.0V2.1 M119.4 0.0V1.2 M119.7 0.0V2.8 M120.0 0.0V2.4 M120.3 0.0V6.8 M120.6 0.0V8.0 M120.9 0.0V7.3 M121.2 0.0V7.6 M121.5 0.0V8.4 M121.8 0.0V6.6 M122.1 0.0V3.5 M122.4 0.0V12.5 M122.7 0.0V10.9 M123.0 0.0V11.3 M123.3 0.0V4.9 M123.6 0.0V13.6 M123.9 0.0V5.1 M124.2 0.0V11.0 M124.5 0.0V13.6 M124.8 0.0V10.2 M125.1 0.0V15.2 M125.4 0.0V12.7 M125.7 0.0V6.7 M126.0 0.0V12.3 M126.3 0.0V13.4 M126.6 0.0V8.1 M126.9 0.0V12.9 M127.2 0.0V15.4 M127.5 0.0V8.9 M127.8 0.0V9.7 M128.1 0.0V10.5 M128.4 0.0V7.5 M128.7 0.0V3.1 M129.0 0.0V13.3 M129.3 0.0V9.7 M129.6 0.0V10.5 M129.9 0.0V10.4 M130.2 0.0V9.0 M130.5 0.0V5.6 M130.8 0.0V8.5 M131.1 0.0V7.1 M131.4 0.0V1.8 M131.7 0.0V7.3 M132.0 0.0V3.9 M132.3 0.0V4.7 M132.6 0.0V3.0 M132.9 0.0V1.5 M140.7 0.0V0.8 M141.0 0.0V2.7 M141.3 0.0V4.0 M141.6 0.0V2.3 M141.9 0.0V4.5 M142.2 0.0V6.7 M142.5 0.0V3.6 M142.8 0.0V4.0 M143.1 0.0V4.2 M143.4 0.0V8.3 M143.7 0.0V6.5 M144.0 0.0V2.8 M144.3 0.0V6.5 M144.6 0.0V7.6 M144.9 0.0V10.8 M145.2 0.0V8.2 M145.5 0.0V3.4 M145.8 0.0V12.1 M146.1 0.0V3.8 M146.4 0.0V8.5 M146.7 0.0V4.0 M147.0 0.0V4.9 M147.3 0.0V13.7 M147.6 0.0V3.3 M147.9 0.0V10.7 M148.2 0.0V3.7 M148.5 0.0V3.8 M148.8 0.0V12.9 M149.1 0.0V15.4 M149.4 0.0V3.6 M149.7 0.0V8.4 M150.0 0.0V6.2 M150.3 0.0V8.1 M150.6 0.0V7.0 M150.9 0.0V7.8 M151.2 0.0V4.4 M151.5 0.0V14.0 M151.8 0.0V7.9 M152.1 0.0V11.6 M152.4 0.0V8.5 M152.7 0.0V3.7 M153.0 0.0V12.2 M153.3 0.0V9.9 M153.6 0.0V10.9 M153.9 0.0V4.0 M154.2 0.0V6.0 M154.5 0.0V7.2 M154.8 0.0V9.9 M155.1 0.0V8.3 M155.4 0.0V6.7 M155.7 0.0V6.5 M156.0 0.0V8.3 M156.3 0.0V3.1 M156.6 0.0V3.2 M156.9 0.0V2.7 M157.2 0.0V4.5 M157.5 0.0V2.9 M157.8 0.0V2.8 M158.1 0.0V3.1 M158.4 0.0V0.8 M166.2 0.0V0.0 M166.5 0.0V0.0 M166.8 0.0V3.1 M167.1 0.0V1.5 M167.4 0.0V3.2 M167.7 0.0V5.4 M168.0 0.0V6.8 M168.3 0.0V6.7 M168.6 0.0V3.7 M168.9 0.0V8.1 M169.2 0.0V8.3 M169.5 0.0V10.7 M169.8 0.0V10.2 M170.1 0.0V3.2 M170.4 0.0V6.0 M170.7 0.0V4.0 M171.0 0.0V10.6 M171.3 0.0V14.0 M171.6 0.0V10.4 M171.9 0.0V10.5 M172.2 0.0V4.4 M172.5 0.0V13.2 M172.8 0.0V10.3 M173.1 0.0V15.7 M173.4 0.0V10.6 M173.7 0.0V10.3 M174.0 0.0V14.6 M174.3 0.0V5.3 M174.6 0.0V15.6 M174.9 0.0V5.9 M175.2 0.0V9.8 M175.5 0.0V13.0 M175.8 0.0V8.1 M176.1 0.0V9.6 M176.4 0.0V13.9 M176.7 0.0V11.9 M177.0 0.0V10.9 M177.3 0.0V9.3 M177.6 0.0V7.7 M177.9 0.0V7.3 M178.2 0.0V8.6 M178.5 0.0V9.2 M178.8 0.0V8.7 M179.1 0.0V8.7 M179.4 0.0V6.7 M179.7 0.0V8.2 M180.0 0.0V3.0 M180.3 0.0V5.1 M180.6 0.0V3.2 M180.9 0.0V2.5 M181.2 0.0V2.8" stroke="#000" stroke-opacity="0.6" stroke-width="0.7" fill="none"/><rect x="0" y="-1.8" width="181.5" height="3.6" fill="#000"/></g></g>
<text transform="translate(30.70 317.50) scale(0.9500 1)" font-size="37.8" fill="#000" >i</text><text transform="translate(39.45 317.50) scale(1.0393 1)" font-size="37.8" fill="#000" >n</text><text transform="translate(63.39 317.50) scale(0.9861 1)" font-size="37.8" fill="#000" >p</text><text transform="translate(85.80 317.50) scale(0.9826 1)" font-size="37.8" fill="#000" >u</text><text transform="translate(107.92 317.50) scale(1.1000 1)" font-size="37.8" fill="#000" >t</text><text transform="translate(130.97 317.50) scale(0.8400 1)" font-size="37.8" fill="#000" >a</text><text transform="translate(152.22 317.50) scale(0.9763 1)" font-size="37.8" fill="#000" >u</text><text transform="translate(174.94 317.50) scale(0.9641 1)" font-size="37.8" fill="#000" >d</text><text transform="translate(197.70 317.50) scale(0.9500 1)" font-size="37.8" fill="#000" >i</text><text transform="translate(207.12 317.50) scale(1.0469 1)" font-size="37.8" fill="#000" >o</text>
<text transform="translate(866.44 317.50) scale(1.1000 1)" font-size="37.8" fill="#000" >r</text><text transform="translate(881.23 317.50) scale(0.9062 1)" font-size="37.8" fill="#000" >e</text><text transform="translate(901.95 317.50) scale(0.8921 1)" font-size="37.8" fill="#000" >c</text><text transform="translate(919.96 317.50) scale(1.0188 1)" font-size="37.8" fill="#000" >o</text><text transform="translate(942.53 317.50) scale(1.0456 1)" font-size="37.8" fill="#000" >n</text><text transform="translate(965.97 317.50) scale(0.8400 1)" font-size="37.8" fill="#000" >s</text><text transform="translate(984.72 317.50) scale(1.1000 1)" font-size="37.8" fill="#000" >t</text><text transform="translate(996.59 317.50) scale(1.1000 1)" font-size="37.8" fill="#000" >r</text><text transform="translate(1010.78 317.50) scale(1.0267 1)" font-size="37.8" fill="#000" >u</text><text transform="translate(1033.10 317.50) scale(0.9290 1)" font-size="37.8" fill="#000" >c</text><text transform="translate(1053.17 317.50) scale(1.1000 1)" font-size="37.8" fill="#000" >t</text><text transform="translate(1066.91 317.50) scale(0.9175 1)" font-size="37.8" fill="#000" >e</text><text transform="translate(1085.29 317.50) scale(1.0641 1)" font-size="37.8" fill="#000" >d</text>
<rect x="298.25" y="190.25" width="169.5" height="105" fill="url(#gg)" stroke="#86a673" stroke-width="1.6"/>
<rect x="624.25" y="190.25" width="190" height="105" fill="url(#bg)" stroke="#7389bf" stroke-width="1.6"/>
<text transform="translate(310.34 256.80) scale(0.8400 1)" font-size="37.8" fill="#061206" stroke="#061206" stroke-width="0.6">E</text><text transform="translate(332.83 256.80) scale(0.9322 1)" font-size="37.8" fill="#061206" stroke="#061206" stroke-width="0.6">n</text><text transform="translate(355.36 256.80) scale(0.8859 1)" font-size="37.8" fill="#061206" stroke="#061206" stroke-width="0.6">c</text><text transform="translate(372.47 256.80) scale(1.0132 1)" font-size="37.8" fill="#061206" stroke="#061206" stroke-width="0.6">o</text><text transform="translate(395.18 256.80) scale(1.0053 1)" font-size="37.8" fill="#061206" stroke="#061206" stroke-width="0.6">d</text><text transform="translate(418.61 256.80) scale(0.9175 1)" font-size="37.8" fill="#061206" stroke="#061206" stroke-width="0.6">e</text><text transform="translate(438.74 256.80) scale(1.1000 1)" font-size="37.8" fill="#061206" stroke="#061206" stroke-width="0.6">r</text>
<text transform="translate(646.50 256.80) scale(0.8923 1)" font-size="37.8" fill="#050a1a" stroke="#050a1a" stroke-width="0.6">D</text><text transform="translate(673.65 256.80) scale(0.8950 1)" font-size="37.8" fill="#050a1a" stroke="#050a1a" stroke-width="0.6">e</text><text transform="translate(694.30 256.80) scale(0.8400 1)" font-size="37.8" fill="#050a1a" stroke="#050a1a" stroke-width="0.6">c</text><text transform="translate(712.05 256.80) scale(0.9569 1)" font-size="37.8" fill="#050a1a" stroke="#050a1a" stroke-width="0.6">o</text><text transform="translate(734.95 256.80) scale(0.9583 1)" font-size="37.8" fill="#050a1a" stroke="#050a1a" stroke-width="0.6">d</text><text transform="translate(757.18 256.80) scale(0.9400 1)" font-size="37.8" fill="#050a1a" stroke="#050a1a" stroke-width="0.6">e</text><text transform="translate(777.94 256.80) scale(1.1000 1)" font-size="37.8" fill="#050a1a" stroke="#050a1a" stroke-width="0.6">r</text>
<rect x="237.60" y="241.40" width="46.60" height="4.6" fill="#000"/><path d="M283.20 236.80 L296.70 243.70 L283.20 250.60 Z" fill="#000"/>
<rect x="467.50" y="241.40" width="46.80" height="4.6" fill="#000"/><path d="M513.30 236.80 L526.80 243.70 L513.30 250.60 Z" fill="#000"/>
<rect x="563.80" y="243.70" width="46.90" height="4.6" fill="#000"/><path d="M609.70 239.10 L623.20 246.00 L609.70 252.90 Z" fill="#000"/>
<rect x="814.70" y="243.40" width="46.60" height="4.6" fill="#000"/><path d="M860.30 238.80 L873.80 245.70 L860.30 252.60 Z" fill="#000"/>
<clipPath id="c1"><rect x="532.5" y="184.5" width="28.5" height="119"/></clipPath>
<g clip-path="url(#c1)"><rect x="532.5" y="184.5" width="28.5" height="119" fill="#f6dcc6"/><ellipse cx="546.75" cy="200.3" rx="9.7" ry="10.2" fill="#eec29e"/><ellipse cx="546.75" cy="227" rx="9.7" ry="10.2" fill="#eec29e"/><ellipse cx="546.75" cy="253" rx="9.7" ry="10.2" fill="#eec29e"/><ellipse cx="546.75" cy="293.5" rx="9.7" ry="10.2" fill="#eec29e"/><circle cx="546.75" cy="269.4" r="1.2" fill="#8a6a50"/><circle cx="546.75" cy="273.8" r="1.2" fill="#8a6a50"/><circle cx="546.75" cy="278.4" r="1.2" fill="#8a6a50"/></g>
<path d="M547.1 306.4 V334" stroke="#000" stroke-width="5" stroke-dasharray="5.2 5.4" fill="none"/>
<path d="M540 333.5 L554.2 333.5 L547.1 348 Z" fill="#000"/>
<text transform="translate(377.30 380.30) scale(0.9598 1)" font-size="37.8" fill="#000" >c</text><text transform="translate(396.17 380.30) scale(1.1000 1)" font-size="37.8" fill="#000" >o</text><text transform="translate(418.31 380.30) scale(1.1000 1)" font-size="37.8" fill="#000" >n</text><text transform="translate(441.42 380.30) scale(1.1000 1)" font-size="37.8" fill="#000" >t</text><text transform="translate(454.31 380.30) scale(1.0188 1)" font-size="37.8" fill="#000" >e</text><text transform="translate(475.31 380.30) scale(1.1000 1)" font-size="37.8" fill="#000" >n</text><text transform="translate(497.77 380.30) scale(1.1000 1)" font-size="37.8" fill="#000" >t</text>
<text transform="translate(509.72 380.30) scale(0.9500 1)" font-size="37.8" fill="#000" >,</text>
<text transform="translate(531.12 380.30) scale(0.8400 1)" font-size="37.8" fill="#000" >s</text><text transform="translate(549.35 380.30) scale(0.8899 1)" font-size="37.8" fill="#000" >p</text><text transform="translate(570.44 380.30) scale(0.9625 1)" font-size="37.8" fill="#000" >e</text><text transform="translate(591.92 380.30) scale(0.8400 1)" font-size="37.8" fill="#000" >a</text><text transform="translate(612.54 380.30) scale(0.9290 1)" font-size="37.8" fill="#000" >k</text><text transform="translate(631.11 380.30) scale(0.9850 1)" font-size="37.8" fill="#000" >e</text><text transform="translate(651.94 380.30) scale(1.1000 1)" font-size="37.8" fill="#000" >r</text>
<text transform="translate(673.31 380.30) scale(0.8868 1)" font-size="37.8" fill="#000" >…</text>
<g transform="translate(40 577.9)"><g filter="url(#wb)"><path d="M1.8 -1.9V3.7 M2.1 -2.8V3.9 M2.4 -3.5V4.8 M2.7 -4.3V6.7 M3.0 -4.5V8.3 M3.3 -5.0V7.2 M3.6 -5.5V9.4 M3.9 -5.3V8.3 M4.2 -6.2V8.4 M4.5 -6.0V9.7 M4.8 -6.6V9.4 M5.1 -7.5V11.0 M5.4 -8.0V10.3 M5.7 -8.5V12.5 M6.0 -7.1V12.2 M6.3 -6.5V9.8 M6.6 -5.9V8.8 M6.9 -6.1V9.3 M7.2 -6.5V8.1 M7.5 -5.2V7.5 M7.8 -5.7V8.5 M8.1 -4.1V7.9 M8.4 -4.4V6.3 M8.7 -3.1V4.8 M9.0 -2.6V4.7 M9.3 -1.7V2.3 M13.5 -0.0V0.0 M13.8 -6.3V6.3 M14.1 -8.8V8.4 M14.4 -12.5V11.2 M14.7 -13.1V11.4 M15.0 -12.6V13.3 M15.3 -15.7V14.7 M15.6 -16.1V16.1 M15.9 -18.9V16.1 M16.2 -17.7V17.0 M16.5 -19.7V18.8 M16.8 -23.1V21.2 M17.1 -20.3V19.8 M17.4 -23.9V20.8 M17.7 -22.5V18.0 M18.0 -23.1V20.2 M18.3 -19.0V18.7 M18.6 -18.1V15.6 M18.9 -19.6V18.6 M19.2 -17.6V14.5 M19.5 -15.2V13.9 M19.8 -15.7V14.8 M20.1 -12.4V14.1 M20.4 -12.7V12.4 M20.7 -11.3V10.7 M21.0 -8.7V8.2 M21.3 -5.8V5.4 M21.6 -3.8V4.5 M21.9 -7.8V8.1 M22.2 -11.3V9.1 M22.5 -13.4V11.2 M22.8 -15.5V15.1 M23.1 -14.1V14.6 M23.4 -17.9V17.4 M23.7 -18.0V20.5 M24.0 -22.2V20.0 M24.3 -20.9V21.7 M24.6 -21.5V24.1 M24.9 -20.5V23.4 M25.2 -21.4V22.6 M25.5 -23.9V21.6 M25.8 -22.8V18.4 M26.1 -18.0V20.5 M26.4 -16.3V19.5 M26.7 -15.5V17.0 M27.0 -15.4V13.8 M27.3 -13.8V15.2 M27.6 -12.6V13.0 M27.9 -10.7V8.9 M28.2 -6.4V7.3 M30.6 -1.4V0.0 M30.9 -4.6V0.0 M31.2 -6.9V0.0 M31.5 -9.1V0.0 M31.8 -12.9V0.0 M32.1 -16.5V0.0 M32.4 -17.8V0.0 M32.7 -23.0V0.0 M33.0 -22.8V0.0 M33.3 -19.6V4.1 M33.6 -17.8V5.8 M33.9 -16.7V6.1 M34.2 -12.9V6.2 M34.5 -9.6V9.2 M34.8 -9.4V9.0 M35.1 -10.5V10.4 M35.4 -11.3V9.6 M35.7 -11.0V9.6 M36.0 -12.0V13.1 M36.3 -13.5V10.6 M36.6 -14.5V11.3 M36.9 -14.0V11.4 M37.2 -14.5V13.1 M37.5 -13.8V15.0 M37.8 -13.3V13.1 M38.1 -16.6V13.0 M38.4 -17.7V15.1 M38.7 -16.6V17.9 M39.0 -18.3V16.8 M39.3 -16.0V14.5 M39.6 -18.5V16.8 M39.9 -21.4V17.6 M40.2 -22.8V15.8 M40.5 -27.8V17.0 M40.8 -34.2V20.0 M41.1 -41.3V20.8 M41.4 -40.7V19.0 M41.7 -35.9V18.9 M42.0 -35.7V16.1 M42.3 -28.2V15.3 M42.6 -25.4V17.4 M42.9 -23.9V25.4 M43.2 -20.5V25.8 M43.5 -14.4V26.8 M43.8 -14.9V28.6 M44.1 -13.6V20.9 M44.4 -13.4V17.1 M44.7 -19.5V14.1 M45.0 -23.1V14.5 M45.3 -31.4V14.3 M45.6 -31.9V11.9 M45.9 -40.5V11.8 M46.2 -45.1V12.4 M46.5 -47.3V10.7 M46.8 -37.5V10.0 M47.1 -40.0V10.3 M47.4 -35.1V8.8 M47.7 -28.4V8.2 M48.0 -26.7V6.6 M48.3 -33.4V5.4 M48.6 -34.1V4.6 M48.9 -27.3V2.2 M49.2 -20.5V0.0 M49.5 -16.4V0.0 M49.8 -12.3V0.0 M50.1 -6.9V0.0 M50.4 -2.0V0.0 M53.1 -0.7V0.0 M53.4 -2.4V0.0 M53.7 -4.2V1.6 M54.0 -6.0V4.3 M54.3 -6.7V5.7 M54.6 -9.6V7.7 M54.9 -8.6V11.2 M55.2 -10.6V13.0 M55.5 -14.2V14.5 M55.8 -11.1V13.7 M56.1 -10.0V10.3 M56.4 -8.1V7.2 M56.7 -6.8V6.5 M57.0 -6.2V4.4 M57.3 -4.2V1.6 M57.6 -2.7V0.0 M57.9 -0.7V0.0 M59.7 -1.8V2.7 M60.0 -3.0V4.6 M60.3 -3.8V5.3 M60.6 -5.3V6.8 M60.9 -5.9V7.6 M61.2 -5.8V9.2 M61.5 -6.7V8.1 M61.8 -6.3V9.7 M62.1 -7.6V9.6 M62.4 -7.5V11.3 M62.7 -8.3V12.7 M63.0 -8.9V11.3 M63.3 -9.4V12.3 M63.6 -8.4V15.4 M63.9 -9.8V14.2 M64.2 -10.3V14.2 M64.5 -10.1V12.3 M64.8 -8.9V11.2 M65.1 -9.4V12.8 M65.4 -7.8V12.0 M65.7 -7.6V9.9 M66.0 -7.3V9.8 M66.3 -6.0V10.4 M66.6 -6.3V8.9 M66.9 -6.2V8.4 M67.2 -5.1V7.4 M67.5 -4.6V6.5 M67.8 -4.1V6.2 M68.1 -2.8V4.3 M68.4 -1.5V2.0 M72.6 -4.2V3.2 M72.9 -6.8V7.5 M73.2 -11.4V8.8 M73.5 -13.4V9.6 M73.8 -12.7V13.4 M74.1 -14.2V14.9 M74.4 -16.0V16.3 M74.7 -19.0V17.7 M75.0 -18.3V17.8 M75.3 -21.3V19.2 M75.6 -22.0V17.1 M75.9 -21.2V20.3 M76.2 -23.6V20.5 M76.5 -22.8V23.1 M76.8 -21.9V19.0 M77.1 -25.3V16.8 M77.4 -23.8V18.6 M77.7 -19.7V18.5 M78.0 -21.0V17.6 M78.3 -19.4V14.1 M78.6 -18.0V15.8 M78.9 -14.3V13.7 M79.2 -14.7V12.3 M79.5 -10.7V10.6 M79.8 -11.0V7.7 M80.1 -8.3V6.2 M80.4 -3.7V3.5 M81.3 -5.2V0.0 M81.6 -7.9V0.0 M81.9 -9.9V0.0 M82.2 -12.2V4.1 M82.5 -12.5V7.0 M82.8 -15.8V10.1 M83.1 -15.4V10.2 M83.4 -15.5V14.2 M83.7 -17.9V11.9 M84.0 -18.5V16.6 M84.3 -18.4V17.3 M84.6 -20.1V15.2 M84.9 -19.7V17.6 M85.2 -19.8V18.1 M85.5 -20.9V16.8 M85.8 -25.4V21.8 M86.1 -25.8V20.4 M86.4 -19.7V20.9 M86.7 -20.7V24.6 M87.0 -19.5V20.3 M87.3 -20.7V22.3 M87.6 -23.5V23.5 M87.9 -26.6V22.6 M88.2 -25.2V19.2 M88.5 -21.0V20.4 M88.8 -19.6V19.8 M89.1 -18.1V20.3 M89.4 -12.5V16.6 M89.7 -11.4V15.9 M90.0 -10.4V13.4 M90.3 -8.4V13.4 M90.6 -6.7V13.2 M90.9 -2.9V10.7 M91.2 0.0V8.9 M91.5 0.0V7.6 M91.8 0.0V4.9 M93.3 -3.1V0.0 M93.6 -4.0V0.0 M93.9 -4.5V0.0 M94.2 -5.8V0.0 M94.5 -6.4V0.0 M94.8 -6.7V0.0 M95.1 -7.9V2.1 M95.4 -8.3V4.0 M95.7 -9.1V5.3 M96.0 -8.3V6.3 M96.3 -8.5V7.6 M96.6 -9.8V7.1 M96.9 -9.6V8.7 M97.2 -10.0V9.9 M97.5 -12.0V10.9 M97.8 -11.8V11.5 M98.1 -12.3V10.1 M98.4 -13.5V13.2 M98.7 -12.8V11.7 M99.0 -13.4V11.1 M99.3 -14.7V11.5 M99.6 -13.3V12.9 M99.9 -12.9V13.4 M100.2 -13.6V15.1 M100.5 -13.1V13.0 M100.8 -13.1V14.3 M101.1 -15.3V14.4 M101.4 -14.1V13.7 M101.7 -15.0V14.7 M102.0 -23.9V16.5 M102.3 -23.7V17.2 M102.6 -35.0V19.2 M102.9 -38.2V15.9 M103.2 -36.3V17.2 M103.5 -39.6V16.7 M103.8 -47.3V20.2 M104.1 -42.5V20.2 M104.4 -33.7V19.5 M104.7 -30.5V16.6 M105.0 -27.1V17.0 M105.3 -27.9V16.5 M105.6 -24.2V18.3 M105.9 -24.3V14.9 M106.2 -26.8V15.9 M106.5 -23.9V17.8 M106.8 -28.1V15.3 M107.1 -25.4V13.8 M107.4 -22.1V13.4 M107.7 -28.3V13.9 M108.0 -34.8V15.5 M108.3 -32.4V15.0 M108.6 -39.3V12.7 M108.9 -41.7V10.9 M109.2 -38.2V13.8 M109.5 -35.1V11.1 M109.8 -31.5V10.0 M110.1 -26.6V11.1 M110.4 -20.1V11.6 M110.7 -14.5V10.4 M111.0 -9.9V8.3 M111.3 -6.2V8.1 M111.6 -0.0V7.5 M111.9 0.0V5.8 M112.2 0.0V5.0 M112.5 0.0V5.0 M112.8 0.0V3.1 M118.8 -5.3V0.0 M119.1 -7.8V2.7 M119.4 -9.6V4.7 M119.7 -11.9V7.0 M120.0 -13.9V7.4 M120.3 -15.1V9.4 M120.6 -13.4V9.7 M120.9 -15.3V12.3 M121.2 -16.8V11.4 M121.5 -18.4V14.4 M121.8 -20.3V14.0 M122.1 -19.4V13.7 M122.4 -18.9V14.2 M122.7 -18.9V13.9 M123.0 -20.5V17.5 M123.3 -22.4V14.2 M123.6 -20.5V16.4 M123.9 -25.8V16.6 M124.2 -24.9V16.0 M124.5 -29.8V18.3 M124.8 -36.7V19.0 M125.1 -34.3V22.5 M125.4 -36.4V23.0 M125.7 -31.4V22.1 M126.0 -23.1V18.7 M126.3 -28.0V17.9 M126.6 -22.6V22.7 M126.9 -26.8V22.4 M127.2 -23.1V18.1 M127.5 -22.7V18.6 M127.8 -19.8V20.1 M128.1 -21.1V16.2 M128.4 -20.8V15.8 M128.7 -19.6V18.9 M129.0 -18.6V16.5 M129.3 -18.9V14.5 M129.6 -15.6V13.0 M129.9 -16.3V15.6 M130.2 -14.0V15.3 M130.5 -15.8V13.7 M130.8 -11.9V12.3 M131.1 -10.7V12.4 M131.4 -11.5V9.9 M131.7 -8.2V9.9 M132.0 -7.2V7.8 M132.3 -4.1V5.9 M132.6 0.0V4.5 M132.9 0.0V2.3 M140.7 -3.3V3.1 M141.0 -5.6V4.2 M141.3 -7.5V4.9 M141.6 -8.3V6.8 M141.9 -10.2V8.4 M142.2 -10.7V7.7 M142.5 -10.3V7.6 M142.8 -11.1V8.5 M143.1 -11.9V10.1 M143.4 -14.5V11.0 M143.7 -14.5V12.6 M144.0 -16.2V11.2 M144.3 -14.7V13.1 M144.6 -15.2V11.7 M144.9 -17.0V11.5 M145.2 -15.3V15.6 M145.5 -18.2V12.2 M145.8 -18.8V16.0 M146.1 -18.6V13.4 M146.4 -17.5V16.2 M146.7 -19.4V15.9 M147.0 -18.9V15.2 M147.3 -23.5V18.4 M147.6 -26.1V17.1 M147.9 -34.6V14.9 M148.2 -32.4V19.3 M148.5 -44.3V18.7 M148.8 -49.2V15.4 M149.1 -51.2V17.9 M149.4 -45.4V17.4 M149.7 -39.3V18.3 M150.0 -29.8V16.9 M150.3 -25.9V18.8 M150.6 -24.9V16.0 M150.9 -22.8V18.2 M151.2 -22.5V15.6 M151.5 -20.0V15.9 M151.8 -18.3V17.6 M152.1 -19.1V14.8 M152.4 -23.1V13.2 M152.7 -28.9V13.5 M153.0 -34.2V14.0 M153.3 -39.4V13.0 M153.6 -42.2V15.7 M153.9 -41.8V15.2 M154.2 -37.9V12.2 M154.5 -38.8V12.8 M154.8 -30.2V11.1 M155.1 -32.4V11.6 M155.4 -23.3V12.0 M155.7 -21.5V10.4 M156.0 -13.0V10.7 M156.3 -10.6V9.9 M156.6 -11.6V8.6 M156.9 -8.6V7.5 M157.2 -8.6V7.1 M157.5 -8.6V6.4 M157.8 -6.2V5.9 M158.1 -5.4V3.6 M158.4 -2.3V2.1 M166.2 -4.8V0.0 M166.5 -7.8V0.0 M166.8 -9.2V4.7 M167.1 -10.9V5.3 M167.4 -10.8V7.8 M167.7 -11.7V9.0 M168.0 -15.1V10.5 M168.3 -15.1V10.0 M168.6 -17.3V10.3 M168.9 -17.0V11.3 M169.2 -18.7V14.4 M169.5 -17.6V15.2 M169.8 -18.6V13.1 M170.1 -22.1V14.8 M170.4 -21.4V15.6 M170.7 -24.4V15.1 M171.0 -31.2V15.9 M171.3 -32.7V16.6 M171.6 -39.0V19.7 M171.9 -37.6V18.1 M172.2 -26.4V18.7 M172.5 -24.2V20.4 M172.8 -25.5V17.1 M173.1 -23.5V17.3 M173.4 -24.5V19.8 M173.7 -28.0V21.8 M174.0 -23.9V18.3 M174.3 -25.1V20.5 M174.6 -25.1V20.8 M174.9 -23.4V18.2 M175.2 -23.4V21.6 M175.5 -23.1V18.2 M175.8 -23.5V18.0 M176.1 -21.9V20.0 M176.4 -24.0V18.9 M176.7 -19.6V18.0 M177.0 -19.6V17.1 M177.3 -21.5V15.1 M177.6 -19.6V14.2 M177.9 -19.8V13.3 M178.2 -18.1V15.4 M178.5 -16.8V14.4 M178.8 -15.0V12.9 M179.1 -13.1V12.8 M179.4 -12.7V11.2 M179.7 -11.8V9.7 M180.0 -10.2V9.3 M180.3 -9.3V8.1 M180.6 -6.6V7.7 M180.9 -3.0V6.0 M181.2 0.0V4.0" stroke="#000" stroke-opacity="0.14" stroke-width="0.6" fill="none"/><path d="M18.5 -33.0V0.0 M26.5 -33.0V0.0 M28.0 0.0V38.0 M43.5 0.0V42.0 M47.0 0.0V30.0 M104.5 -52.0V0.0 M105.6 0.0V42.0 M124.0 -41.0V0.0 M135.4 -31.0V0.0 M135.4 0.0V38.0 M152.0 0.0V42.0 M172.0 -41.0V0.0 M8.0 0.0V16.0 M20.0 0.0V28.0 M84.0 0.0V30.0 M89.0 -32.0V0.0 M66.0 0.0V14.0 M33.0 0.0V30.0 M80.0 -28.0V0.0 M120.0 0.0V30.0 M160.0 0.0V28.0 M178.0 0.0V30.0" stroke="#000" stroke-opacity="0.45" stroke-width="1" fill="none"/><path d="M1.8 -0.7V0.0 M2.1 -3.0V0.0 M2.4 -2.6V0.0 M2.7 -2.8V0.0 M3.0 -3.2V0.0 M3.3 -5.4V0.0 M3.6 -2.9V0.0 M3.9 -3.6V0.0 M4.2 -6.2V0.0 M4.5 -5.2V0.0 M4.8 -7.1V0.0 M5.1 -2.2V0.0 M5.4 -3.3V0.0 M5.7 -4.7V0.0 M6.0 -3.8V0.0 M6.3 -5.4V0.0 M6.6 -5.8V0.0 M6.9 -4.6V0.0 M7.2 -5.9V0.0 M7.5 -2.1V0.0 M7.8 -4.3V0.0 M8.1 -3.5V0.0 M8.4 -1.9V0.0 M8.7 -1.8V0.0 M9.0 -2.0V0.0 M9.3 -0.8V0.0 M13.5 -0.0V0.0 M13.8 -5.2V0.0 M14.1 -8.5V0.0 M14.4 -8.4V0.0 M14.7 -10.8V0.0 M15.0 -13.2V0.0 M15.3 -10.4V0.0 M15.6 -16.5V0.0 M15.9 -7.9V0.0 M16.2 -18.3V0.0 M16.5 -18.1V0.0 M16.8 -11.3V0.0 M17.1 -18.4V0.0 M17.4 -11.5V0.0 M17.7 -12.1V0.0 M18.0 -5.6V0.0 M18.3 -11.0V0.0 M18.6 -4.9V0.0 M18.9 -14.6V0.0 M19.2 -17.7V0.0 M19.5 -3.8V0.0 M19.8 -8.5V0.0 M20.1 -8.2V0.0 M20.4 -10.3V0.0 M20.7 -6.1V0.0 M21.0 -5.4V0.0 M21.3 -4.1V0.0 M21.6 -4.0V0.0 M21.9 -7.4V0.0 M22.2 -9.1V0.0 M22.5 -11.1V0.0 M22.8 -5.5V0.0 M23.1 -15.7V0.0 M23.4 -12.0V0.0 M23.7 -17.1V0.0 M24.0 -19.0V0.0 M24.3 -15.3V0.0 M24.6 -5.5V0.0 M24.9 -16.7V0.0 M25.2 -13.9V0.0 M25.5 -7.9V0.0 M25.8 -10.9V0.0 M26.1 -17.0V0.0 M26.4 -9.7V0.0 M26.7 -6.0V0.0 M27.0 -9.6V0.0 M27.3 -6.0V0.0 M27.6 -9.0V0.0 M27.9 -9.3V0.0 M28.2 -7.0V0.0 M30.6 -1.2V0.0 M30.9 -3.0V0.0 M31.2 -5.0V0.0 M31.5 -10.2V0.0 M31.8 -12.1V0.0 M32.1 -13.5V0.0 M32.4 -14.7V0.0 M32.7 -17.2V0.0 M33.0 -22.7V0.0 M33.3 -21.2V0.0 M33.6 -17.1V0.0 M33.9 -14.1V0.0 M34.2 -8.4V0.0 M34.5 -9.0V0.0 M34.8 -7.4V0.0 M35.1 -5.9V0.0 M35.4 -10.8V0.0 M35.7 -6.8V0.0 M36.0 -5.7V0.0 M36.3 -9.1V0.0 M36.6 -9.8V0.0 M36.9 -8.9V0.0 M37.2 -14.0V0.0 M37.5 -7.4V0.0 M37.8 -7.8V0.0 M38.1 -13.4V0.0 M38.4 -16.3V0.0 M38.7 -10.9V0.0 M39.0 -14.2V0.0 M39.3 -9.3V0.0 M39.6 -12.4V0.0 M39.9 -17.1V0.0 M40.2 -24.6V0.0 M40.5 -27.0V0.0 M40.8 -28.1V0.0 M41.1 -26.8V0.0 M41.4 -26.6V0.0 M41.7 -33.6V0.0 M42.0 -31.4V0.0 M42.3 -29.2V0.0 M42.6 -23.9V0.0 M42.9 -21.8V0.0 M43.2 -15.6V0.0 M43.5 -9.3V0.0 M43.8 -11.4V0.0 M44.1 -5.7V0.0 M44.4 -12.4V0.0 M44.7 -14.2V0.0 M45.0 -23.5V0.0 M45.3 -21.1V0.0 M45.6 -25.2V0.0 M45.9 -26.2V0.0 M46.2 -35.8V0.0 M46.5 -29.2V0.0 M46.8 -37.3V0.0 M47.1 -24.5V0.0 M47.4 -28.9V0.0 M47.7 -20.0V0.0 M48.0 -19.3V0.0 M48.3 -27.5V0.0 M48.6 -28.1V0.0 M48.9 -27.3V0.0 M49.2 -17.7V0.0 M49.5 -13.7V0.0 M49.8 -13.1V0.0 M50.1 -7.3V0.0 M50.4 -2.2V0.0 M53.1 -0.6V0.0 M53.4 -2.4V0.0 M53.7 -2.9V0.0 M54.0 -4.5V0.0 M54.3 -4.8V0.0 M54.6 -7.0V0.0 M54.9 -6.7V0.0 M55.2 -10.8V0.0 M55.5 -10.3V0.0 M55.8 -8.4V0.0 M56.1 -9.4V0.0 M56.4 -8.1V0.0 M56.7 -5.7V0.0 M57.0 -4.3V0.0 M57.3 -2.5V0.0 M57.6 -2.0V0.0 M57.9 -0.6V0.0 M59.7 -1.7V0.0 M60.0 -1.1V0.0 M60.3 -3.8V0.0 M60.6 -1.7V0.0 M60.9 -3.7V0.0 M61.2 -3.3V0.0 M61.5 -6.6V0.0 M61.8 -3.8V0.0 M62.1 -5.1V0.0 M62.4 -6.8V0.0 M62.7 -3.1V0.0 M63.0 -7.9V0.0 M63.3 -2.8V0.0 M63.6 -9.1V0.0 M63.9 -3.6V0.0 M64.2 -4.7V0.0 M64.5 -3.3V0.0 M64.8 -6.5V0.0 M65.1 -2.2V0.0 M65.4 -4.2V0.0 M65.7 -6.9V0.0 M66.0 -4.3V0.0 M66.3 -5.0V0.0 M66.6 -2.4V0.0 M66.9 -4.5V0.0 M67.2 -5.4V0.0 M67.5 -3.3V0.0 M67.8 -3.7V0.0 M68.1 -2.5V0.0 M68.4 -0.4V0.0 M72.6 -2.1V0.0 M72.9 -4.4V0.0 M73.2 -5.4V0.0 M73.5 -5.3V0.0 M73.8 -12.7V0.0 M74.1 -15.8V0.0 M74.4 -4.7V0.0 M74.7 -17.0V0.0 M75.0 -12.2V0.0 M75.3 -8.7V0.0 M75.6 -12.4V0.0 M75.9 -11.7V0.0 M76.2 -7.6V0.0 M76.5 -6.7V0.0 M76.8 -7.5V0.0 M77.1 -16.0V0.0 M77.4 -13.9V0.0 M77.7 -8.4V0.0 M78.0 -17.0V0.0 M78.3 -12.5V0.0 M78.6 -12.7V0.0 M78.9 -13.6V0.0 M79.2 -9.4V0.0 M79.5 -11.5V0.0 M79.8 -6.4V0.0 M80.1 -7.4V0.0 M80.4 -1.5V0.0 M81.3 -5.2V0.0 M81.6 -7.4V0.0 M81.9 -4.4V0.0 M82.2 -11.7V0.0 M82.5 -6.0V0.0 M82.8 -8.7V0.0 M83.1 -12.8V0.0 M83.4 -10.5V0.0 M83.7 -13.0V0.0 M84.0 -10.0V0.0 M84.3 -12.3V0.0 M84.6 -8.8V0.0 M84.9 -9.0V0.0 M85.2 -21.9V0.0 M85.5 -6.8V0.0 M85.8 -9.5V0.0 M86.1 -11.4V0.0 M86.4 -19.5V0.0 M86.7 -12.7V0.0 M87.0 -14.5V0.0 M87.3 -18.7V0.0 M87.6 -16.8V0.0 M87.9 -19.1V0.0 M88.2 -21.0V0.0 M88.5 -16.8V0.0 M88.8 -19.6V0.0 M89.1 -14.0V0.0 M89.4 -12.4V0.0 M89.7 -7.1V0.0 M90.0 -5.2V0.0 M90.3 -7.0V0.0 M90.6 -2.6V0.0 M90.9 -0.8V0.0 M91.2 -0.0V0.0 M91.5 -0.0V0.0 M91.8 -0.0V0.0 M93.3 -1.7V0.0 M93.6 -3.9V0.0 M93.9 -2.8V0.0 M94.2 -4.6V0.0 M94.5 -3.0V0.0 M94.8 -5.0V0.0 M95.1 -7.2V0.0 M95.4 -8.1V0.0 M95.7 -6.2V0.0 M96.0 -4.2V0.0 M96.3 -3.4V0.0 M96.6 -3.4V0.0 M96.9 -9.6V0.0 M97.2 -9.5V0.0 M97.5 -6.0V0.0 M97.8 -8.3V0.0 M98.1 -10.5V0.0 M98.4 -5.0V0.0 M98.7 -4.6V0.0 M99.0 -12.5V0.0 M99.3 -3.5V0.0 M99.6 -7.3V0.0 M99.9 -7.2V0.0 M100.2 -10.6V0.0 M100.5 -10.1V0.0 M100.8 -14.3V0.0 M101.1 -5.3V0.0 M101.4 -9.5V0.0 M101.7 -16.5V0.0 M102.0 -22.4V0.0 M102.3 -25.3V0.0 M102.6 -27.4V0.0 M102.9 -28.8V0.0 M103.2 -27.9V0.0 M103.5 -33.6V0.0 M103.8 -27.1V0.0 M104.1 -30.5V0.0 M104.4 -22.9V0.0 M104.7 -29.5V0.0 M105.0 -19.2V0.0 M105.3 -19.7V0.0 M105.6 -11.4V0.0 M105.9 -19.2V0.0 M106.2 -15.0V0.0 M106.5 -13.9V0.0 M106.8 -13.4V0.0 M107.1 -24.1V0.0 M107.4 -20.5V0.0 M107.7 -28.0V0.0 M108.0 -22.3V0.0 M108.3 -29.6V0.0 M108.6 -32.2V0.0 M108.9 -35.8V0.0 M109.2 -29.8V0.0 M109.5 -26.7V0.0 M109.8 -29.4V0.0 M110.1 -20.0V0.0 M110.4 -19.1V0.0 M110.7 -15.0V0.0 M111.0 -9.0V0.0 M111.3 -3.7V0.0 M111.6 -0.0V0.0 M111.9 -0.0V0.0 M112.2 -0.0V0.0 M112.5 -0.0V0.0 M112.8 -0.0V0.0 M118.8 -4.2V0.0 M119.1 -6.4V0.0 M119.4 -7.4V0.0 M119.7 -7.1V0.0 M120.0 -6.0V0.0 M120.3 -8.5V0.0 M120.6 -10.6V0.0 M120.9 -9.3V0.0 M121.2 -16.8V0.0 M121.5 -11.6V0.0 M121.8 -18.9V0.0 M122.1 -16.1V0.0 M122.4 -16.1V0.0 M122.7 -8.0V0.0 M123.0 -17.2V0.0 M123.3 -19.1V0.0 M123.6 -21.7V0.0 M123.9 -19.3V0.0 M124.2 -18.4V0.0 M124.5 -23.5V0.0 M124.8 -25.5V0.0 M125.1 -24.7V0.0 M125.4 -26.1V0.0 M125.7 -18.0V0.0 M126.0 -21.9V0.0 M126.3 -20.4V0.0 M126.6 -15.3V0.0 M126.9 -13.2V0.0 M127.2 -17.3V0.0 M127.5 -19.6V0.0 M127.8 -12.7V0.0 M128.1 -6.4V0.0 M128.4 -7.0V0.0 M128.7 -17.2V0.0 M129.0 -4.3V0.0 M129.3 -10.6V0.0 M129.6 -11.9V0.0 M129.9 -7.9V0.0 M130.2 -9.4V0.0 M130.5 -13.3V0.0 M130.8 -10.5V0.0 M131.1 -8.7V0.0 M131.4 -9.3V0.0 M131.7 -7.5V0.0 M132.0 -4.6V0.0 M132.3 -1.6V0.0 M132.6 -0.0V0.0 M132.9 -0.0V0.0 M140.7 -1.6V0.0 M141.0 -1.4V0.0 M141.3 -2.7V0.0 M141.6 -7.2V0.0 M141.9 -3.3V0.0 M142.2 -8.3V0.0 M142.5 -10.3V0.0 M142.8 -8.3V0.0 M143.1 -8.4V0.0 M143.4 -12.5V0.0 M143.7 -9.9V0.0 M144.0 -12.8V0.0 M144.3 -13.4V0.0 M144.6 -15.6V0.0 M144.9 -16.2V0.0 M145.2 -16.2V0.0 M145.5 -9.2V0.0 M145.8 -4.6V0.0 M146.1 -16.3V0.0 M146.4 -13.2V0.0 M146.7 -11.9V0.0 M147.0 -20.0V0.0 M147.3 -21.0V0.0 M147.6 -26.1V0.0 M147.9 -27.0V0.0 M148.2 -36.3V0.0 M148.5 -25.5V0.0 M148.8 -38.9V0.0 M149.1 -44.4V0.0 M149.4 -32.2V0.0 M149.7 -31.3V0.0 M150.0 -32.0V0.0 M150.3 -26.0V0.0 M150.6 -18.9V0.0 M150.9 -13.0V0.0 M151.2 -18.6V0.0 M151.5 -9.2V0.0 M151.8 -19.5V0.0 M152.1 -17.4V0.0 M152.4 -19.7V0.0 M152.7 -20.2V0.0 M153.0 -30.0V0.0 M153.3 -23.8V0.0 M153.6 -35.6V0.0 M153.9 -34.1V0.0 M154.2 -29.6V0.0 M154.5 -25.6V0.0 M154.8 -28.1V0.0 M155.1 -21.7V0.0 M155.4 -18.4V0.0 M155.7 -15.9V0.0 M156.0 -14.9V0.0 M156.3 -6.9V0.0 M156.6 -4.8V0.0 M156.9 -7.8V0.0 M157.2 -2.4V0.0 M157.5 -6.0V0.0 M157.8 -4.0V0.0 M158.1 -2.3V0.0 M158.4 -1.7V0.0 M166.2 -4.0V0.0 M166.5 -6.4V0.0 M166.8 -6.1V0.0 M167.1 -10.3V0.0 M167.4 -12.0V0.0 M167.7 -11.2V0.0 M168.0 -4.1V0.0 M168.3 -11.0V0.0 M168.6 -9.0V0.0 M168.9 -13.4V0.0 M169.2 -8.8V0.0 M169.5 -10.1V0.0 M169.8 -14.9V0.0 M170.1 -15.2V0.0 M170.4 -21.3V0.0 M170.7 -20.7V0.0 M171.0 -32.1V0.0 M171.3 -29.3V0.0 M171.6 -34.9V0.0 M171.9 -23.9V0.0 M172.2 -27.0V0.0 M172.5 -22.4V0.0 M172.8 -20.4V0.0 M173.1 -17.5V0.0 M173.4 -13.4V0.0 M173.7 -19.7V0.0 M174.0 -20.1V0.0 M174.3 -16.9V0.0 M174.6 -8.6V0.0 M174.9 -13.1V0.0 M175.2 -22.5V0.0 M175.5 -11.3V0.0 M175.8 -14.3V0.0 M176.1 -11.5V0.0 M176.4 -13.7V0.0 M176.7 -12.4V0.0 M177.0 -19.8V0.0 M177.3 -8.7V0.0 M177.6 -15.3V0.0 M177.9 -13.3V0.0 M178.2 -16.1V0.0 M178.5 -9.3V0.0 M178.8 -10.9V0.0 M179.1 -14.0V0.0 M179.4 -12.5V0.0 M179.7 -4.6V0.0 M180.0 -8.9V0.0 M180.3 -5.8V0.0 M180.6 -5.4V0.0 M180.9 -2.9V0.0 M181.2 -0.0V0.0" stroke="#000" stroke-opacity="1" stroke-width="0.6" fill="none"/><path d="M1.8 0.0V2.2 M2.1 0.0V2.9 M2.4 0.0V2.0 M2.7 0.0V4.9 M3.0 0.0V3.8 M3.3 0.0V5.4 M3.6 0.0V6.1 M3.9 0.0V7.0 M4.2 0.0V8.1 M4.5 0.0V4.2 M4.8 0.0V3.1 M5.1 0.0V3.8 M5.4 0.0V3.5 M5.7 0.0V4.7 M6.0 0.0V4.0 M6.3 0.0V8.9 M6.6 0.0V4.3 M6.9 0.0V5.9 M7.2 0.0V5.4 M7.5 0.0V6.2 M7.8 0.0V2.7 M8.1 0.0V2.0 M8.4 0.0V2.5 M8.7 0.0V3.6 M9.0 0.0V2.6 M9.3 0.0V1.1 M13.5 0.0V0.0 M13.8 0.0V4.5 M14.1 0.0V5.2 M14.4 0.0V6.5 M14.7 0.0V8.1 M15.0 0.0V9.2 M15.3 0.0V9.7 M15.6 0.0V2.9 M15.9 0.0V13.1 M16.2 0.0V11.5 M16.5 0.0V14.4 M16.8 0.0V10.7 M17.1 0.0V8.3 M17.4 0.0V10.6 M17.7 0.0V17.3 M18.0 0.0V4.4 M18.3 0.0V3.8 M18.6 0.0V6.9 M18.9 0.0V10.9 M19.2 0.0V5.7 M19.5 0.0V10.3 M19.8 0.0V7.9 M20.1 0.0V10.0 M20.4 0.0V5.9 M20.7 0.0V7.4 M21.0 0.0V2.7 M21.3 0.0V1.7 M21.6 0.0V2.9 M21.9 0.0V2.1 M22.2 0.0V2.2 M22.5 0.0V5.7 M22.8 0.0V10.0 M23.1 0.0V13.1 M23.4 0.0V12.1 M23.7 0.0V8.2 M24.0 0.0V15.3 M24.3 0.0V12.3 M24.6 0.0V12.6 M24.9 0.0V15.7 M25.2 0.0V18.5 M25.5 0.0V16.3 M25.8 0.0V13.1 M26.1 0.0V6.9 M26.4 0.0V11.6 M26.7 0.0V6.7 M27.0 0.0V7.8 M27.3 0.0V8.9 M27.6 0.0V4.6 M27.9 0.0V4.3 M28.2 0.0V2.1 M30.6 0.0V0.0 M30.9 0.0V0.0 M31.2 0.0V0.0 M31.5 0.0V0.0 M31.8 0.0V0.0 M32.1 0.0V0.0 M32.4 0.0V0.0 M32.7 0.0V0.0 M33.0 0.0V0.0 M33.3 0.0V2.7 M33.6 0.0V3.9 M33.9 0.0V4.5 M34.2 0.0V3.3 M34.5 0.0V5.2 M34.8 0.0V5.9 M35.1 0.0V6.2 M35.4 0.0V6.5 M35.7 0.0V3.9 M36.0 0.0V6.8 M36.3 0.0V7.8 M36.6 0.0V2.9 M36.9 0.0V7.3 M37.2 0.0V7.9 M37.5 0.0V8.4 M37.8 0.0V5.7 M38.1 0.0V11.9 M38.4 0.0V3.9 M38.7 0.0V6.2 M39.0 0.0V13.7 M39.3 0.0V8.9 M39.6 0.0V9.0 M39.9 0.0V8.9 M40.2 0.0V12.5 M40.5 0.0V11.6 M40.8 0.0V11.5 M41.1 0.0V15.7 M41.4 0.0V7.5 M41.7 0.0V4.6 M42.0 0.0V8.4 M42.3 0.0V13.1 M42.6 0.0V12.9 M42.9 0.0V10.6 M43.2 0.0V18.7 M43.5 0.0V23.9 M43.8 0.0V17.8 M44.1 0.0V14.6 M44.4 0.0V7.5 M44.7 0.0V4.0 M45.0 0.0V10.7 M45.3 0.0V6.4 M45.6 0.0V5.8 M45.9 0.0V7.0 M46.2 0.0V3.8 M46.5 0.0V6.0 M46.8 0.0V7.3 M47.1 0.0V2.4 M47.4 0.0V2.6 M47.7 0.0V5.5 M48.0 0.0V5.5 M48.3 0.0V3.8 M48.6 0.0V3.2 M48.9 0.0V1.4 M49.2 0.0V0.0 M49.5 0.0V0.0 M49.8 0.0V0.0 M50.1 0.0V0.0 M50.4 0.0V0.0 M53.1 0.0V0.0 M53.4 0.0V0.0 M53.7 0.0V1.5 M54.0 0.0V1.9 M54.3 0.0V2.0 M54.6 0.0V5.3 M54.9 0.0V7.4 M55.2 0.0V3.2 M55.5 0.0V7.6 M55.8 0.0V8.9 M56.1 0.0V3.7 M56.4 0.0V3.6 M56.7 0.0V4.3 M57.0 0.0V2.2 M57.3 0.0V0.9 M57.6 0.0V0.0 M57.9 0.0V0.0 M59.7 0.0V2.2 M60.0 0.0V3.2 M60.3 0.0V1.6 M60.6 0.0V1.8 M60.9 0.0V5.7 M61.2 0.0V1.7 M61.5 0.0V6.2 M61.8 0.0V6.6 M62.1 0.0V8.1 M62.4 0.0V6.7 M62.7 0.0V10.0 M63.0 0.0V10.2 M63.3 0.0V7.9 M63.6 0.0V7.2 M63.9 0.0V8.2 M64.2 0.0V11.7 M64.5 0.0V5.6 M64.8 0.0V4.4 M65.1 0.0V10.3 M65.4 0.0V8.2 M65.7 0.0V4.0 M66.0 0.0V3.6 M66.3 0.0V6.4 M66.6 0.0V5.7 M66.9 0.0V6.0 M67.2 0.0V5.8 M67.5 0.0V3.8 M67.8 0.0V1.3 M68.1 0.0V3.0 M68.4 0.0V1.1 M72.6 0.0V2.7 M72.9 0.0V1.5 M73.2 0.0V7.2 M73.5 0.0V8.6 M73.8 0.0V6.6 M74.1 0.0V8.6 M74.4 0.0V10.2 M74.7 0.0V4.8 M75.0 0.0V6.3 M75.3 0.0V6.8 M75.6 0.0V14.7 M75.9 0.0V12.9 M76.2 0.0V10.6 M76.5 0.0V8.9 M76.8 0.0V14.5 M77.1 0.0V15.5 M77.4 0.0V9.1 M77.7 0.0V11.5 M78.0 0.0V9.4 M78.3 0.0V5.3 M78.6 0.0V7.6 M78.9 0.0V7.4 M79.2 0.0V7.5 M79.5 0.0V3.4 M79.8 0.0V3.6 M80.1 0.0V3.9 M80.4 0.0V0.8 M81.3 0.0V0.0 M81.6 0.0V0.0 M81.9 0.0V0.0 M82.2 0.0V2.5 M82.5 0.0V2.3 M82.8 0.0V2.0 M83.1 0.0V4.4 M83.4 0.0V5.9 M83.7 0.0V6.8 M84.0 0.0V11.5 M84.3 0.0V12.2 M84.6 0.0V5.9 M84.9 0.0V9.7 M85.2 0.0V14.6 M85.5 0.0V9.3 M85.8 0.0V10.1 M86.1 0.0V6.9 M86.4 0.0V17.6 M86.7 0.0V17.9 M87.0 0.0V11.6 M87.3 0.0V4.9 M87.6 0.0V15.1 M87.9 0.0V7.7 M88.2 0.0V15.9 M88.5 0.0V4.4 M88.8 0.0V15.7 M89.1 0.0V12.1 M89.4 0.0V10.9 M89.7 0.0V7.8 M90.0 0.0V7.4 M90.3 0.0V3.7 M90.6 0.0V8.5 M90.9 0.0V5.2 M91.2 0.0V5.8 M91.5 0.0V3.4 M91.8 0.0V1.6 M93.3 0.0V0.0 M93.6 0.0V0.0 M93.9 0.0V0.0 M94.2 0.0V0.0 M94.5 0.0V0.0 M94.8 0.0V0.0 M95.1 0.0V1.4 M95.4 0.0V1.3 M95.7 0.0V2.2 M96.0 0.0V2.8 M96.3 0.0V1.8 M96.6 0.0V5.7 M96.9 0.0V2.0 M97.2 0.0V6.4 M97.5 0.0V7.1 M97.8 0.0V7.2 M98.1 0.0V5.3 M98.4 0.0V7.1 M98.7 0.0V6.1 M99.0 0.0V2.9 M99.3 0.0V9.1 M99.6 0.0V7.9 M99.9 0.0V10.6 M100.2 0.0V12.0 M100.5 0.0V4.7 M100.8 0.0V8.4 M101.1 0.0V4.9 M101.4 0.0V7.5 M101.7 0.0V7.1 M102.0 0.0V6.0 M102.3 0.0V8.4 M102.6 0.0V7.2 M102.9 0.0V13.4 M103.2 0.0V5.3 M103.5 0.0V10.4 M103.8 0.0V10.7 M104.1 0.0V13.9 M104.4 0.0V15.1 M104.7 0.0V3.7 M105.0 0.0V11.6 M105.3 0.0V7.2 M105.6 0.0V12.0 M105.9 0.0V5.7 M106.2 0.0V3.0 M106.5 0.0V13.2 M106.8 0.0V4.5 M107.1 0.0V7.7 M107.4 0.0V12.2 M107.7 0.0V4.6 M108.0 0.0V8.9 M108.3 0.0V8.2 M108.6 0.0V8.7 M108.9 0.0V7.7 M109.2 0.0V7.6 M109.5 0.0V9.9 M109.8 0.0V5.6 M110.1 0.0V4.1 M110.4 0.0V7.5 M110.7 0.0V6.5 M111.0 0.0V6.9 M111.3 0.0V4.9 M111.6 0.0V5.7 M111.9 0.0V2.1 M112.2 0.0V4.4 M112.5 0.0V3.4 M112.8 0.0V1.0 M118.8 0.0V0.0 M119.1 0.0V2.1 M119.4 0.0V1.2 M119.7 0.0V2.8 M120.0 0.0V2.4 M120.3 0.0V6.8 M120.6 0.0V8.0 M120.9 0.0V7.3 M121.2 0.0V7.6 M121.5 0.0V8.4 M121.8 0.0V6.6 M122.1 0.0V3.5 M122.4 0.0V12.5 M122.7 0.0V10.9 M123.0 0.0V11.3 M123.3 0.0V4.9 M123.6 0.0V13.6 M123.9 0.0V5.1 M124.2 0.0V11.0 M124.5 0.0V13.6 M124.8 0.0V10.2 M125.1 0.0V15.2 M125.4 0.0V12.7 M125.7 0.0V6.7 M126.0 0.0V12.3 M126.3 0.0V13.4 M126.6 0.0V8.1 M126.9 0.0V12.9 M127.2 0.0V15.4 M127.5 0.0V8.9 M127.8 0.0V9.7 M128.1 0.0V10.5 M128.4 0.0V7.5 M128.7 0.0V3.1 M129.0 0.0V13.3 M129.3 0.0V9.7 M129.6 0.0V10.5 M129.9 0.0V10.4 M130.2 0.0V9.0 M130.5 0.0V5.6 M130.8 0.0V8.5 M131.1 0.0V7.1 M131.4 0.0V1.8 M131.7 0.0V7.3 M132.0 0.0V3.9 M132.3 0.0V4.7 M132.6 0.0V3.0 M132.9 0.0V1.5 M140.7 0.0V0.8 M141.0 0.0V2.7 M141.3 0.0V4.0 M141.6 0.0V2.3 M141.9 0.0V4.5 M142.2 0.0V6.7 M142.5 0.0V3.6 M142.8 0.0V4.0 M143.1 0.0V4.2 M143.4 0.0V8.3 M143.7 0.0V6.5 M144.0 0.0V2.8 M144.3 0.0V6.5 M144.6 0.0V7.6 M144.9 0.0V10.8 M145.2 0.0V8.2 M145.5 0.0V3.4 M145.8 0.0V12.1 M146.1 0.0V3.8 M146.4 0.0V8.5 M146.7 0.0V4.0 M147.0 0.0V4.9 M147.3 0.0V13.7 M147.6 0.0V3.3 M147.9 0.0V10.7 M148.2 0.0V3.7 M148.5 0.0V3.8 M148.8 0.0V12.9 M149.1 0.0V15.4 M149.4 0.0V3.6 M149.7 0.0V8.4 M150.0 0.0V6.2 M150.3 0.0V8.1 M150.6 0.0V7.0 M150.9 0.0V7.8 M151.2 0.0V4.4 M151.5 0.0V14.0 M151.8 0.0V7.9 M152.1 0.0V11.6 M152.4 0.0V8.5 M152.7 0.0V3.7 M153.0 0.0V12.2 M153.3 0.0V9.9 M153.6 0.0V10.9 M153.9 0.0V4.0 M154.2 0.0V6.0 M154.5 0.0V7.2 M154.8 0.0V9.9 M155.1 0.0V8.3 M155.4 0.0V6.7 M155.7 0.0V6.5 M156.0 0.0V8.3 M156.3 0.0V3.1 M156.6 0.0V3.2 M156.9 0.0V2.7 M157.2 0.0V4.5 M157.5 0.0V2.9 M157.8 0.0V2.8 M158.1 0.0V3.1 M158.4 0.0V0.8 M166.2 0.0V0.0 M166.5 0.0V0.0 M166.8 0.0V3.1 M167.1 0.0V1.5 M167.4 0.0V3.2 M167.7 0.0V5.4 M168.0 0.0V6.8 M168.3 0.0V6.7 M168.6 0.0V3.7 M168.9 0.0V8.1 M169.2 0.0V8.3 M169.5 0.0V10.7 M169.8 0.0V10.2 M170.1 0.0V3.2 M170.4 0.0V6.0 M170.7 0.0V4.0 M171.0 0.0V10.6 M171.3 0.0V14.0 M171.6 0.0V10.4 M171.9 0.0V10.5 M172.2 0.0V4.4 M172.5 0.0V13.2 M172.8 0.0V10.3 M173.1 0.0V15.7 M173.4 0.0V10.6 M173.7 0.0V10.3 M174.0 0.0V14.6 M174.3 0.0V5.3 M174.6 0.0V15.6 M174.9 0.0V5.9 M175.2 0.0V9.8 M175.5 0.0V13.0 M175.8 0.0V8.1 M176.1 0.0V9.6 M176.4 0.0V13.9 M176.7 0.0V11.9 M177.0 0.0V10.9 M177.3 0.0V9.3 M177.6 0.0V7.7 M177.9 0.0V7.3 M178.2 0.0V8.6 M178.5 0.0V9.2 M178.8 0.0V8.7 M179.1 0.0V8.7 M179.4 0.0V6.7 M179.7 0.0V8.2 M180.0 0.0V3.0 M180.3 0.0V5.1 M180.6 0.0V3.2 M180.9 0.0V2.5 M181.2 0.0V2.8" stroke="#000" stroke-opacity="0.6" stroke-width="0.7" fill="none"/><rect x="0" y="-1.8" width="181.5" height="3.6" fill="#000"/></g></g>
<g transform="translate(889 583)"><g filter="url(#wb)"><path d="M1.8 -1.9V3.7 M2.1 -2.8V3.9 M2.4 -3.5V4.8 M2.7 -4.3V6.7 M3.0 -4.5V8.3 M3.3 -5.0V7.2 M3.6 -5.5V9.4 M3.9 -5.3V8.3 M4.2 -6.2V8.4 M4.5 -6.0V9.7 M4.8 -6.6V9.4 M5.1 -7.5V11.0 M5.4 -8.0V10.3 M5.7 -8.5V12.5 M6.0 -7.1V12.2 M6.3 -6.5V9.8 M6.6 -5.9V8.8 M6.9 -6.1V9.3 M7.2 -6.5V8.1 M7.5 -5.2V7.5 M7.8 -5.7V8.5 M8.1 -4.1V7.9 M8.4 -4.4V6.3 M8.7 -3.1V4.8 M9.0 -2.6V4.7 M9.3 -1.7V2.3 M13.5 -0.0V0.0 M13.8 -6.3V6.3 M14.1 -8.8V8.4 M14.4 -12.5V11.2 M14.7 -13.1V11.4 M15.0 -12.6V13.3 M15.3 -15.7V14.7 M15.6 -16.1V16.1 M15.9 -18.9V16.1 M16.2 -17.7V17.0 M16.5 -19.7V18.8 M16.8 -23.1V21.2 M17.1 -20.3V19.8 M17.4 -23.9V20.8 M17.7 -22.5V18.0 M18.0 -23.1V20.2 M18.3 -19.0V18.7 M18.6 -18.1V15.6 M18.9 -19.6V18.6 M19.2 -17.6V14.5 M19.5 -15.2V13.9 M19.8 -15.7V14.8 M20.1 -12.4V14.1 M20.4 -12.7V12.4 M20.7 -11.3V10.7 M21.0 -8.7V8.2 M21.3 -5.8V5.4 M21.6 -3.8V4.5 M21.9 -7.8V8.1 M22.2 -11.3V9.1 M22.5 -13.4V11.2 M22.8 -15.5V15.1 M23.1 -14.1V14.6 M23.4 -17.9V17.4 M23.7 -18.0V20.5 M24.0 -22.2V20.0 M24.3 -20.9V21.7 M24.6 -21.5V24.1 M24.9 -20.5V23.4 M25.2 -21.4V22.6 M25.5 -23.9V21.6 M25.8 -22.8V18.4 M26.1 -18.0V20.5 M26.4 -16.3V19.5 M26.7 -15.5V17.0 M27.0 -15.4V13.8 M27.3 -13.8V15.2 M27.6 -12.6V13.0 M27.9 -10.7V8.9 M28.2 -6.4V7.3 M30.6 -1.4V0.0 M30.9 -4.6V0.0 M31.2 -6.9V0.0 M31.5 -9.1V0.0 M31.8 -12.9V0.0 M32.1 -16.5V0.0 M32.4 -17.8V0.0 M32.7 -23.0V0.0 M33.0 -22.8V0.0 M33.3 -19.6V4.1 M33.6 -17.8V5.8 M33.9 -16.7V6.1 M34.2 -12.9V6.2 M34.5 -9.6V9.2 M34.8 -9.4V9.0 M35.1 -10.5V10.4 M35.4 -11.3V9.6 M35.7 -11.0V9.6 M36.0 -12.0V13.1 M36.3 -13.5V10.6 M36.6 -14.5V11.3 M36.9 -14.0V11.4 M37.2 -14.5V13.1 M37.5 -13.8V15.0 M37.8 -13.3V13.1 M38.1 -16.6V13.0 M38.4 -17.7V15.1 M38.7 -16.6V17.9 M39.0 -18.3V16.8 M39.3 -16.0V14.5 M39.6 -18.5V16.8 M39.9 -21.4V17.6 M40.2 -22.8V15.8 M40.5 -27.8V17.0 M40.8 -34.2V20.0 M41.1 -41.3V20.8 M41.4 -40.7V19.0 M41.7 -35.9V18.9 M42.0 -35.7V16.1 M42.3 -28.2V15.3 M42.6 -25.4V17.4 M42.9 -23.9V25.4 M43.2 -20.5V25.8 M43.5 -14.4V26.8 M43.8 -14.9V28.6 M44.1 -13.6V20.9 M44.4 -13.4V17.1 M44.7 -19.5V14.1 M45.0 -23.1V14.5 M45.3 -31.4V14.3 M45.6 -31.9V11.9 M45.9 -40.5V11.8 M46.2 -45.1V12.4 M46.5 -47.3V10.7 M46.8 -37.5V10.0 M47.1 -40.0V10.3 M47.4 -35.1V8.8 M47.7 -28.4V8.2 M48.0 -26.7V6.6 M48.3 -33.4V5.4 M48.6 -34.1V4.6 M48.9 -27.3V2.2 M49.2 -20.5V0.0 M49.5 -16.4V0.0 M49.8 -12.3V0.0 M50.1 -6.9V0.0 M50.4 -2.0V0.0 M53.1 -0.7V0.0 M53.4 -2.4V0.0 M53.7 -4.2V1.6 M54.0 -6.0V4.3 M54.3 -6.7V5.7 M54.6 -9.6V7.7 M54.9 -8.6V11.2 M55.2 -10.6V13.0 M55.5 -14.2V14.5 M55.8 -11.1V13.7 M56.1 -10.0V10.3 M56.4 -8.1V7.2 M56.7 -6.8V6.5 M57.0 -6.2V4.4 M57.3 -4.2V1.6 M57.6 -2.7V0.0 M57.9 -0.7V0.0 M59.7 -1.8V2.7 M60.0 -3.0V4.6 M60.3 -3.8V5.3 M60.6 -5.3V6.8 M60.9 -5.9V7.6 M61.2 -5.8V9.2 M61.5 -6.7V8.1 M61.8 -6.3V9.7 M62.1 -7.6V9.6 M62.4 -7.5V11.3 M62.7 -8.3V12.7 M63.0 -8.9V11.3 M63.3 -9.4V12.3 M63.6 -8.4V15.4 M63.9 -9.8V14.2 M64.2 -10.3V14.2 M64.5 -10.1V12.3 M64.8 -8.9V11.2 M65.1 -9.4V12.8 M65.4 -7.8V12.0 M65.7 -7.6V9.9 M66.0 -7.3V9.8 M66.3 -6.0V10.4 M66.6 -6.3V8.9 M66.9 -6.2V8.4 M67.2 -5.1V7.4 M67.5 -4.6V6.5 M67.8 -4.1V6.2 M68.1 -2.8V4.3 M68.4 -1.5V2.0 M72.6 -4.2V3.2 M72.9 -6.8V7.5 M73.2 -11.4V8.8 M73.5 -13.4V9.6 M73.8 -12.7V13.4 M74.1 -14.2V14.9 M74.4 -16.0V16.3 M74.7 -19.0V17.7 M75.0 -18.3V17.8 M75.3 -21.3V19.2 M75.6 -22.0V17.1 M75.9 -21.2V20.3 M76.2 -23.6V20.5 M76.5 -22.8V23.1 M76.8 -21.9V19.0 M77.1 -25.3V16.8 M77.4 -23.8V18.6 M77.7 -19.7V18.5 M78.0 -21.0V17.6 M78.3 -19.4V14.1 M78.6 -18.0V15.8 M78.9 -14.3V13.7 M79.2 -14.7V12.3 M79.5 -10.7V10.6 M79.8 -11.0V7.7 M80.1 -8.3V6.2 M80.4 -3.7V3.5 M81.3 -5.2V0.0 M81.6 -7.9V0.0 M81.9 -9.9V0.0 M82.2 -12.2V4.1 M82.5 -12.5V7.0 M82.8 -15.8V10.1 M83.1 -15.4V10.2 M83.4 -15.5V14.2 M83.7 -17.9V11.9 M84.0 -18.5V16.6 M84.3 -18.4V17.3 M84.6 -20.1V15.2 M84.9 -19.7V17.6 M85.2 -19.8V18.1 M85.5 -20.9V16.8 M85.8 -25.4V21.8 M86.1 -25.8V20.4 M86.4 -19.7V20.9 M86.7 -20.7V24.6 M87.0 -19.5V20.3 M87.3 -20.7V22.3 M87.6 -23.5V23.5 M87.9 -26.6V22.6 M88.2 -25.2V19.2 M88.5 -21.0V20.4 M88.8 -19.6V19.8 M89.1 -18.1V20.3 M89.4 -12.5V16.6 M89.7 -11.4V15.9 M90.0 -10.4V13.4 M90.3 -8.4V13.4 M90.6 -6.7V13.2 M90.9 -2.9V10.7 M91.2 0.0V8.9 M91.5 0.0V7.6 M91.8 0.0V4.9 M93.3 -3.1V0.0 M93.6 -4.0V0.0 M93.9 -4.5V0.0 M94.2 -5.8V0.0 M94.5 -6.4V0.0 M94.8 -6.7V0.0 M95.1 -7.9V2.1 M95.4 -8.3V4.0 M95.7 -9.1V5.3 M96.0 -8.3V6.3 M96.3 -8.5V7.6 M96.6 -9.8V7.1 M96.9 -9.6V8.7 M97.2 -10.0V9.9 M97.5 -12.0V10.9 M97.8 -11.8V11.5 M98.1 -12.3V10.1 M98.4 -13.5V13.2 M98.7 -12.8V11.7 M99.0 -13.4V11.1 M99.3 -14.7V11.5 M99.6 -13.3V12.9 M99.9 -12.9V13.4 M100.2 -13.6V15.1 M100.5 -13.1V13.0 M100.8 -13.1V14.3 M101.1 -15.3V14.4 M101.4 -14.1V13.7 M101.7 -15.0V14.7 M102.0 -23.9V16.5 M102.3 -23.7V17.2 M102.6 -35.0V19.2 M102.9 -38.2V15.9 M103.2 -36.3V17.2 M103.5 -39.6V16.7 M103.8 -47.3V20.2 M104.1 -42.5V20.2 M104.4 -33.7V19.5 M104.7 -30.5V16.6 M105.0 -27.1V17.0 M105.3 -27.9V16.5 M105.6 -24.2V18.3 M105.9 -24.3V14.9 M106.2 -26.8V15.9 M106.5 -23.9V17.8 M106.8 -28.1V15.3 M107.1 -25.4V13.8 M107.4 -22.1V13.4 M107.7 -28.3V13.9 M108.0 -34.8V15.5 M108.3 -32.4V15.0 M108.6 -39.3V12.7 M108.9 -41.7V10.9 M109.2 -38.2V13.8 M109.5 -35.1V11.1 M109.8 -31.5V10.0 M110.1 -26.6V11.1 M110.4 -20.1V11.6 M110.7 -14.5V10.4 M111.0 -9.9V8.3 M111.3 -6.2V8.1 M111.6 -0.0V7.5 M111.9 0.0V5.8 M112.2 0.0V5.0 M112.5 0.0V5.0 M112.8 0.0V3.1 M118.8 -5.3V0.0 M119.1 -7.8V2.7 M119.4 -9.6V4.7 M119.7 -11.9V7.0 M120.0 -13.9V7.4 M120.3 -15.1V9.4 M120.6 -13.4V9.7 M120.9 -15.3V12.3 M121.2 -16.8V11.4 M121.5 -18.4V14.4 M121.8 -20.3V14.0 M122.1 -19.4V13.7 M122.4 -18.9V14.2 M122.7 -18.9V13.9 M123.0 -20.5V17.5 M123.3 -22.4V14.2 M123.6 -20.5V16.4 M123.9 -25.8V16.6 M124.2 -24.9V16.0 M124.5 -29.8V18.3 M124.8 -36.7V19.0 M125.1 -34.3V22.5 M125.4 -36.4V23.0 M125.7 -31.4V22.1 M126.0 -23.1V18.7 M126.3 -28.0V17.9 M126.6 -22.6V22.7 M126.9 -26.8V22.4 M127.2 -23.1V18.1 M127.5 -22.7V18.6 M127.8 -19.8V20.1 M128.1 -21.1V16.2 M128.4 -20.8V15.8 M128.7 -19.6V18.9 M129.0 -18.6V16.5 M129.3 -18.9V14.5 M129.6 -15.6V13.0 M129.9 -16.3V15.6 M130.2 -14.0V15.3 M130.5 -15.8V13.7 M130.8 -11.9V12.3 M131.1 -10.7V12.4 M131.4 -11.5V9.9 M131.7 -8.2V9.9 M132.0 -7.2V7.8 M132.3 -4.1V5.9 M132.6 0.0V4.5 M132.9 0.0V2.3 M140.7 -3.3V3.1 M141.0 -5.6V4.2 M141.3 -7.5V4.9 M141.6 -8.3V6.8 M141.9 -10.2V8.4 M142.2 -10.7V7.7 M142.5 -10.3V7.6 M142.8 -11.1V8.5 M143.1 -11.9V10.1 M143.4 -14.5V11.0 M143.7 -14.5V12.6 M144.0 -16.2V11.2 M144.3 -14.7V13.1 M144.6 -15.2V11.7 M144.9 -17.0V11.5 M145.2 -15.3V15.6 M145.5 -18.2V12.2 M145.8 -18.8V16.0 M146.1 -18.6V13.4 M146.4 -17.5V16.2 M146.7 -19.4V15.9 M147.0 -18.9V15.2 M147.3 -23.5V18.4 M147.6 -26.1V17.1 M147.9 -34.6V14.9 M148.2 -32.4V19.3 M148.5 -44.3V18.7 M148.8 -49.2V15.4 M149.1 -51.2V17.9 M149.4 -45.4V17.4 M149.7 -39.3V18.3 M150.0 -29.8V16.9 M150.3 -25.9V18.8 M150.6 -24.9V16.0 M150.9 -22.8V18.2 M151.2 -22.5V15.6 M151.5 -20.0V15.9 M151.8 -18.3V17.6 M152.1 -19.1V14.8 M152.4 -23.1V13.2 M152.7 -28.9V13.5 M153.0 -34.2V14.0 M153.3 -39.4V13.0 M153.6 -42.2V15.7 M153.9 -41.8V15.2 M154.2 -37.9V12.2 M154.5 -38.8V12.8 M154.8 -30.2V11.1 M155.1 -32.4V11.6 M155.4 -23.3V12.0 M155.7 -21.5V10.4 M156.0 -13.0V10.7 M156.3 -10.6V9.9 M156.6 -11.6V8.6 M156.9 -8.6V7.5 M157.2 -8.6V7.1 M157.5 -8.6V6.4 M157.8 -6.2V5.9 M158.1 -5.4V3.6 M158.4 -2.3V2.1 M166.2 -4.8V0.0 M166.5 -7.8V0.0 M166.8 -9.2V4.7 M167.1 -10.9V5.3 M167.4 -10.8V7.8 M167.7 -11.7V9.0 M168.0 -15.1V10.5 M168.3 -15.1V10.0 M168.6 -17.3V10.3 M168.9 -17.0V11.3 M169.2 -18.7V14.4 M169.5 -17.6V15.2 M169.8 -18.6V13.1 M170.1 -22.1V14.8 M170.4 -21.4V15.6 M170.7 -24.4V15.1 M171.0 -31.2V15.9 M171.3 -32.7V16.6 M171.6 -39.0V19.7 M171.9 -37.6V18.1 M172.2 -26.4V18.7 M172.5 -24.2V20.4 M172.8 -25.5V17.1 M173.1 -23.5V17.3 M173.4 -24.5V19.8 M173.7 -28.0V21.8 M174.0 -23.9V18.3 M174.3 -25.1V20.5 M174.6 -25.1V20.8 M174.9 -23.4V18.2 M175.2 -23.4V21.6 M175.5 -23.1V18.2 M175.8 -23.5V18.0 M176.1 -21.9V20.0 M176.4 -24.0V18.9 M176.7 -19.6V18.0 M177.0 -19.6V17.1 M177.3 -21.5V15.1 M177.6 -19.6V14.2 M177.9 -19.8V13.3 M178.2 -18.1V15.4 M178.5 -16.8V14.4 M178.8 -15.0V12.9 M179.1 -13.1V12.8 M179.4 -12.7V11.2 M179.7 -11.8V9.7 M180.0 -10.2V9.3 M180.3 -9.3V8.1 M180.6 -6.6V7.7 M180.9 -3.0V6.0 M181.2 0.0V4.0" stroke="#000" stroke-opacity="0.14" stroke-width="0.6" fill="none"/><path d="M18.5 -33.0V0.0 M26.5 -33.0V0.0 M28.0 0.0V38.0 M43.5 0.0V42.0 M47.0 0.0V30.0 M104.5 -52.0V0.0 M105.6 0.0V42.0 M124.0 -41.0V0.0 M135.4 -31.0V0.0 M135.4 0.0V38.0 M152.0 0.0V42.0 M172.0 -41.0V0.0 M8.0 0.0V16.0 M20.0 0.0V28.0 M84.0 0.0V30.0 M89.0 -32.0V0.0 M66.0 0.0V14.0 M33.0 0.0V30.0 M80.0 -28.0V0.0 M120.0 0.0V30.0 M160.0 0.0V28.0 M178.0 0.0V30.0" stroke="#000" stroke-opacity="0.45" stroke-width="1" fill="none"/><path d="M1.8 -0.7V0.0 M2.1 -3.0V0.0 M2.4 -2.6V0.0 M2.7 -2.8V0.0 M3.0 -3.2V0.0 M3.3 -5.4V0.0 M3.6 -2.9V0.0 M3.9 -3.6V0.0 M4.2 -6.2V0.0 M4.5 -5.2V0.0 M4.8 -7.1V0.0 M5.1 -2.2V0.0 M5.4 -3.3V0.0 M5.7 -4.7V0.0 M6.0 -3.8V0.0 M6.3 -5.4V0.0 M6.6 -5.8V0.0 M6.9 -4.6V0.0 M7.2 -5.9V0.0 M7.5 -2.1V0.0 M7.8 -4.3V0.0 M8.1 -3.5V0.0 M8.4 -1.9V0.0 M8.7 -1.8V0.0 M9.0 -2.0V0.0 M9.3 -0.8V0.0 M13.5 -0.0V0.0 M13.8 -5.2V0.0 M14.1 -8.5V0.0 M14.4 -8.4V0.0 M14.7 -10.8V0.0 M15.0 -13.2V0.0 M15.3 -10.4V0.0 M15.6 -16.5V0.0 M15.9 -7.9V0.0 M16.2 -18.3V0.0 M16.5 -18.1V0.0 M16.8 -11.3V0.0 M17.1 -18.4V0.0 M17.4 -11.5V0.0 M17.7 -12.1V0.0 M18.0 -5.6V0.0 M18.3 -11.0V0.0 M18.6 -4.9V0.0 M18.9 -14.6V0.0 M19.2 -17.7V0.0 M19.5 -3.8V0.0 M19.8 -8.5V0.0 M20.1 -8.2V0.0 M20.4 -10.3V0.0 M20.7 -6.1V0.0 M21.0 -5.4V0.0 M21.3 -4.1V0.0 M21.6 -4.0V0.0 M21.9 -7.4V0.0 M22.2 -9.1V0.0 M22.5 -11.1V0.0 M22.8 -5.5V0.0 M23.1 -15.7V0.0 M23.4 -12.0V0.0 M23.7 -17.1V0.0 M24.0 -19.0V0.0 M24.3 -15.3V0.0 M24.6 -5.5V0.0 M24.9 -16.7V0.0 M25.2 -13.9V0.0 M25.5 -7.9V0.0 M25.8 -10.9V0.0 M26.1 -17.0V0.0 M26.4 -9.7V0.0 M26.7 -6.0V0.0 M27.0 -9.6V0.0 M27.3 -6.0V0.0 M27.6 -9.0V0.0 M27.9 -9.3V0.0 M28.2 -7.0V0.0 M30.6 -1.2V0.0 M30.9 -3.0V0.0 M31.2 -5.0V0.0 M31.5 -10.2V0.0 M31.8 -12.1V0.0 M32.1 -13.5V0.0 M32.4 -14.7V0.0 M32.7 -17.2V0.0 M33.0 -22.7V0.0 M33.3 -21.2V0.0 M33.6 -17.1V0.0 M33.9 -14.1V0.0 M34.2 -8.4V0.0 M34.5 -9.0V0.0 M34.8 -7.4V0.0 M35.1 -5.9V0.0 M35.4 -10.8V0.0 M35.7 -6.8V0.0 M36.0 -5.7V0.0 M36.3 -9.1V0.0 M36.6 -9.8V0.0 M36.9 -8.9V0.0 M37.2 -14.0V0.0 M37.5 -7.4V0.0 M37.8 -7.8V0.0 M38.1 -13.4V0.0 M38.4 -16.3V0.0 M38.7 -10.9V0.0 M39.0 -14.2V0.0 M39.3 -9.3V0.0 M39.6 -12.4V0.0 M39.9 -17.1V0.0 M40.2 -24.6V0.0 M40.5 -27.0V0.0 M40.8 -28.1V0.0 M41.1 -26.8V0.0 M41.4 -26.6V0.0 M41.7 -33.6V0.0 M42.0 -31.4V0.0 M42.3 -29.2V0.0 M42.6 -23.9V0.0 M42.9 -21.8V0.0 M43.2 -15.6V0.0 M43.5 -9.3V0.0 M43.8 -11.4V0.0 M44.1 -5.7V0.0 M44.4 -12.4V0.0 M44.7 -14.2V0.0 M45.0 -23.5V0.0 M45.3 -21.1V0.0 M45.6 -25.2V0.0 M45.9 -26.2V0.0 M46.2 -35.8V0.0 M46.5 -29.2V0.0 M46.8 -37.3V0.0 M47.1 -24.5V0.0 M47.4 -28.9V0.0 M47.7 -20.0V0.0 M48.0 -19.3V0.0 M48.3 -27.5V0.0 M48.6 -28.1V0.0 M48.9 -27.3V0.0 M49.2 -17.7V0.0 M49.5 -13.7V0.0 M49.8 -13.1V0.0 M50.1 -7.3V0.0 M50.4 -2.2V0.0 M53.1 -0.6V0.0 M53.4 -2.4V0.0 M53.7 -2.9V0.0 M54.0 -4.5V0.0 M54.3 -4.8V0.0 M54.6 -7.0V0.0 M54.9 -6.7V0.0 M55.2 -10.8V0.0 M55.5 -10.3V0.0 M55.8 -8.4V0.0 M56.1 -9.4V0.0 M56.4 -8.1V0.0 M56.7 -5.7V0.0 M57.0 -4.3V0.0 M57.3 -2.5V0.0 M57.6 -2.0V0.0 M57.9 -0.6V0.0 M59.7 -1.7V0.0 M60.0 -1.1V0.0 M60.3 -3.8V0.0 M60.6 -1.7V0.0 M60.9 -3.7V0.0 M61.2 -3.3V0.0 M61.5 -6.6V0.0 M61.8 -3.8V0.0 M62.1 -5.1V0.0 M62.4 -6.8V0.0 M62.7 -3.1V0.0 M63.0 -7.9V0.0 M63.3 -2.8V0.0 M63.6 -9.1V0.0 M63.9 -3.6V0.0 M64.2 -4.7V0.0 M64.5 -3.3V0.0 M64.8 -6.5V0.0 M65.1 -2.2V0.0 M65.4 -4.2V0.0 M65.7 -6.9V0.0 M66.0 -4.3V0.0 M66.3 -5.0V0.0 M66.6 -2.4V0.0 M66.9 -4.5V0.0 M67.2 -5.4V0.0 M67.5 -3.3V0.0 M67.8 -3.7V0.0 M68.1 -2.5V0.0 M68.4 -0.4V0.0 M72.6 -2.1V0.0 M72.9 -4.4V0.0 M73.2 -5.4V0.0 M73.5 -5.3V0.0 M73.8 -12.7V0.0 M74.1 -15.8V0.0 M74.4 -4.7V0.0 M74.7 -17.0V0.0 M75.0 -12.2V0.0 M75.3 -8.7V0.0 M75.6 -12.4V0.0 M75.9 -11.7V0.0 M76.2 -7.6V0.0 M76.5 -6.7V0.0 M76.8 -7.5V0.0 M77.1 -16.0V0.0 M77.4 -13.9V0.0 M77.7 -8.4V0.0 M78.0 -17.0V0.0 M78.3 -12.5V0.0 M78.6 -12.7V0.0 M78.9 -13.6V0.0 M79.2 -9.4V0.0 M79.5 -11.5V0.0 M79.8 -6.4V0.0 M80.1 -7.4V0.0 M80.4 -1.5V0.0 M81.3 -5.2V0.0 M81.6 -7.4V0.0 M81.9 -4.4V0.0 M82.2 -11.7V0.0 M82.5 -6.0V0.0 M82.8 -8.7V0.0 M83.1 -12.8V0.0 M83.4 -10.5V0.0 M83.7 -13.0V0.0 M84.0 -10.0V0.0 M84.3 -12.3V0.0 M84.6 -8.8V0.0 M84.9 -9.0V0.0 M85.2 -21.9V0.0 M85.5 -6.8V0.0 M85.8 -9.5V0.0 M86.1 -11.4V0.0 M86.4 -19.5V0.0 M86.7 -12.7V0.0 M87.0 -14.5V0.0 M87.3 -18.7V0.0 M87.6 -16.8V0.0 M87.9 -19.1V0.0 M88.2 -21.0V0.0 M88.5 -16.8V0.0 M88.8 -19.6V0.0 M89.1 -14.0V0.0 M89.4 -12.4V0.0 M89.7 -7.1V0.0 M90.0 -5.2V0.0 M90.3 -7.0V0.0 M90.6 -2.6V0.0 M90.9 -0.8V0.0 M91.2 -0.0V0.0 M91.5 -0.0V0.0 M91.8 -0.0V0.0 M93.3 -1.7V0.0 M93.6 -3.9V0.0 M93.9 -2.8V0.0 M94.2 -4.6V0.0 M94.5 -3.0V0.0 M94.8 -5.0V0.0 M95.1 -7.2V0.0 M95.4 -8.1V0.0 M95.7 -6.2V0.0 M96.0 -4.2V0.0 M96.3 -3.4V0.0 M96.6 -3.4V0.0 M96.9 -9.6V0.0 M97.2 -9.5V0.0 M97.5 -6.0V0.0 M97.8 -8.3V0.0 M98.1 -10.5V0.0 M98.4 -5.0V0.0 M98.7 -4.6V0.0 M99.0 -12.5V0.0 M99.3 -3.5V0.0 M99.6 -7.3V0.0 M99.9 -7.2V0.0 M100.2 -10.6V0.0 M100.5 -10.1V0.0 M100.8 -14.3V0.0 M101.1 -5.3V0.0 M101.4 -9.5V0.0 M101.7 -16.5V0.0 M102.0 -22.4V0.0 M102.3 -25.3V0.0 M102.6 -27.4V0.0 M102.9 -28.8V0.0 M103.2 -27.9V0.0 M103.5 -33.6V0.0 M103.8 -27.1V0.0 M104.1 -30.5V0.0 M104.4 -22.9V0.0 M104.7 -29.5V0.0 M105.0 -19.2V0.0 M105.3 -19.7V0.0 M105.6 -11.4V0.0 M105.9 -19.2V0.0 M106.2 -15.0V0.0 M106.5 -13.9V0.0 M106.8 -13.4V0.0 M107.1 -24.1V0.0 M107.4 -20.5V0.0 M107.7 -28.0V0.0 M108.0 -22.3V0.0 M108.3 -29.6V0.0 M108.6 -32.2V0.0 M108.9 -35.8V0.0 M109.2 -29.8V0.0 M109.5 -26.7V0.0 M109.8 -29.4V0.0 M110.1 -20.0V0.0 M110.4 -19.1V0.0 M110.7 -15.0V0.0 M111.0 -9.0V0.0 M111.3 -3.7V0.0 M111.6 -0.0V0.0 M111.9 -0.0V0.0 M112.2 -0.0V0.0 M112.5 -0.0V0.0 M112.8 -0.0V0.0 M118.8 -4.2V0.0 M119.1 -6.4V0.0 M119.4 -7.4V0.0 M119.7 -7.1V0.0 M120.0 -6.0V0.0 M120.3 -8.5V0.0 M120.6 -10.6V0.0 M120.9 -9.3V0.0 M121.2 -16.8V0.0 M121.5 -11.6V0.0 M121.8 -18.9V0.0 M122.1 -16.1V0.0 M122.4 -16.1V0.0 M122.7 -8.0V0.0 M123.0 -17.2V0.0 M123.3 -19.1V0.0 M123.6 -21.7V0.0 M123.9 -19.3V0.0 M124.2 -18.4V0.0 M124.5 -23.5V0.0 M124.8 -25.5V0.0 M125.1 -24.7V0.0 M125.4 -26.1V0.0 M125.7 -18.0V0.0 M126.0 -21.9V0.0 M126.3 -20.4V0.0 M126.6 -15.3V0.0 M126.9 -13.2V0.0 M127.2 -17.3V0.0 M127.5 -19.6V0.0 M127.8 -12.7V0.0 M128.1 -6.4V0.0 M128.4 -7.0V0.0 M128.7 -17.2V0.0 M129.0 -4.3V0.0 M129.3 -10.6V0.0 M129.6 -11.9V0.0 M129.9 -7.9V0.0 M130.2 -9.4V0.0 M130.5 -13.3V0.0 M130.8 -10.5V0.0 M131.1 -8.7V0.0 M131.4 -9.3V0.0 M131.7 -7.5V0.0 M132.0 -4.6V0.0 M132.3 -1.6V0.0 M132.6 -0.0V0.0 M132.9 -0.0V0.0 M140.7 -1.6V0.0 M141.0 -1.4V0.0 M141.3 -2.7V0.0 M141.6 -7.2V0.0 M141.9 -3.3V0.0 M142.2 -8.3V0.0 M142.5 -10.3V0.0 M142.8 -8.3V0.0 M143.1 -8.4V0.0 M143.4 -12.5V0.0 M143.7 -9.9V0.0 M144.0 -12.8V0.0 M144.3 -13.4V0.0 M144.6 -15.6V0.0 M144.9 -16.2V0.0 M145.2 -16.2V0.0 M145.5 -9.2V0.0 M145.8 -4.6V0.0 M146.1 -16.3V0.0 M146.4 -13.2V0.0 M146.7 -11.9V0.0 M147.0 -20.0V0.0 M147.3 -21.0V0.0 M147.6 -26.1V0.0 M147.9 -27.0V0.0 M148.2 -36.3V0.0 M148.5 -25.5V0.0 M148.8 -38.9V0.0 M149.1 -44.4V0.0 M149.4 -32.2V0.0 M149.7 -31.3V0.0 M150.0 -32.0V0.0 M150.3 -26.0V0.0 M150.6 -18.9V0.0 M150.9 -13.0V0.0 M151.2 -18.6V0.0 M151.5 -9.2V0.0 M151.8 -19.5V0.0 M152.1 -17.4V0.0 M152.4 -19.7V0.0 M152.7 -20.2V0.0 M153.0 -30.0V0.0 M153.3 -23.8V0.0 M153.6 -35.6V0.0 M153.9 -34.1V0.0 M154.2 -29.6V0.0 M154.5 -25.6V0.0 M154.8 -28.1V0.0 M155.1 -21.7V0.0 M155.4 -18.4V0.0 M155.7 -15.9V0.0 M156.0 -14.9V0.0 M156.3 -6.9V0.0 M156.6 -4.8V0.0 M156.9 -7.8V0.0 M157.2 -2.4V0.0 M157.5 -6.0V0.0 M157.8 -4.0V0.0 M158.1 -2.3V0.0 M158.4 -1.7V0.0 M166.2 -4.0V0.0 M166.5 -6.4V0.0 M166.8 -6.1V0.0 M167.1 -10.3V0.0 M167.4 -12.0V0.0 M167.7 -11.2V0.0 M168.0 -4.1V0.0 M168.3 -11.0V0.0 M168.6 -9.0V0.0 M168.9 -13.4V0.0 M169.2 -8.8V0.0 M169.5 -10.1V0.0 M169.8 -14.9V0.0 M170.1 -15.2V0.0 M170.4 -21.3V0.0 M170.7 -20.7V0.0 M171.0 -32.1V0.0 M171.3 -29.3V0.0 M171.6 -34.9V0.0 M171.9 -23.9V0.0 M172.2 -27.0V0.0 M172.5 -22.4V0.0 M172.8 -20.4V0.0 M173.1 -17.5V0.0 M173.4 -13.4V0.0 M173.7 -19.7V0.0 M174.0 -20.1V0.0 M174.3 -16.9V0.0 M174.6 -8.6V0.0 M174.9 -13.1V0.0 M175.2 -22.5V0.0 M175.5 -11.3V0.0 M175.8 -14.3V0.0 M176.1 -11.5V0.0 M176.4 -13.7V0.0 M176.7 -12.4V0.0 M177.0 -19.8V0.0 M177.3 -8.7V0.0 M177.6 -15.3V0.0 M177.9 -13.3V0.0 M178.2 -16.1V0.0 M178.5 -9.3V0.0 M178.8 -10.9V0.0 M179.1 -14.0V0.0 M179.4 -12.5V0.0 M179.7 -4.6V0.0 M180.0 -8.9V0.0 M180.3 -5.8V0.0 M180.6 -5.4V0.0 M180.9 -2.9V0.0 M181.2 -0.0V0.0" stroke="#000" stroke-opacity="1" stroke-width="0.6" fill="none"/><path d="M1.8 0.0V2.2 M2.1 0.0V2.9 M2.4 0.0V2.0 M2.7 0.0V4.9 M3.0 0.0V3.8 M3.3 0.0V5.4 M3.6 0.0V6.1 M3.9 0.0V7.0 M4.2 0.0V8.1 M4.5 0.0V4.2 M4.8 0.0V3.1 M5.1 0.0V3.8 M5.4 0.0V3.5 M5.7 0.0V4.7 M6.0 0.0V4.0 M6.3 0.0V8.9 M6.6 0.0V4.3 M6.9 0.0V5.9 M7.2 0.0V5.4 M7.5 0.0V6.2 M7.8 0.0V2.7 M8.1 0.0V2.0 M8.4 0.0V2.5 M8.7 0.0V3.6 M9.0 0.0V2.6 M9.3 0.0V1.1 M13.5 0.0V0.0 M13.8 0.0V4.5 M14.1 0.0V5.2 M14.4 0.0V6.5 M14.7 0.0V8.1 M15.0 0.0V9.2 M15.3 0.0V9.7 M15.6 0.0V2.9 M15.9 0.0V13.1 M16.2 0.0V11.5 M16.5 0.0V14.4 M16.8 0.0V10.7 M17.1 0.0V8.3 M17.4 0.0V10.6 M17.7 0.0V17.3 M18.0 0.0V4.4 M18.3 0.0V3.8 M18.6 0.0V6.9 M18.9 0.0V10.9 M19.2 0.0V5.7 M19.5 0.0V10.3 M19.8 0.0V7.9 M20.1 0.0V10.0 M20.4 0.0V5.9 M20.7 0.0V7.4 M21.0 0.0V2.7 M21.3 0.0V1.7 M21.6 0.0V2.9 M21.9 0.0V2.1 M22.2 0.0V2.2 M22.5 0.0V5.7 M22.8 0.0V10.0 M23.1 0.0V13.1 M23.4 0.0V12.1 M23.7 0.0V8.2 M24.0 0.0V15.3 M24.3 0.0V12.3 M24.6 0.0V12.6 M24.9 0.0V15.7 M25.2 0.0V18.5 M25.5 0.0V16.3 M25.8 0.0V13.1 M26.1 0.0V6.9 M26.4 0.0V11.6 M26.7 0.0V6.7 M27.0 0.0V7.8 M27.3 0.0V8.9 M27.6 0.0V4.6 M27.9 0.0V4.3 M28.2 0.0V2.1 M30.6 0.0V0.0 M30.9 0.0V0.0 M31.2 0.0V0.0 M31.5 0.0V0.0 M31.8 0.0V0.0 M32.1 0.0V0.0 M32.4 0.0V0.0 M32.7 0.0V0.0 M33.0 0.0V0.0 M33.3 0.0V2.7 M33.6 0.0V3.9 M33.9 0.0V4.5 M34.2 0.0V3.3 M34.5 0.0V5.2 M34.8 0.0V5.9 M35.1 0.0V6.2 M35.4 0.0V6.5 M35.7 0.0V3.9 M36.0 0.0V6.8 M36.3 0.0V7.8 M36.6 0.0V2.9 M36.9 0.0V7.3 M37.2 0.0V7.9 M37.5 0.0V8.4 M37.8 0.0V5.7 M38.1 0.0V11.9 M38.4 0.0V3.9 M38.7 0.0V6.2 M39.0 0.0V13.7 M39.3 0.0V8.9 M39.6 0.0V9.0 M39.9 0.0V8.9 M40.2 0.0V12.5 M40.5 0.0V11.6 M40.8 0.0V11.5 M41.1 0.0V15.7 M41.4 0.0V7.5 M41.7 0.0V4.6 M42.0 0.0V8.4 M42.3 0.0V13.1 M42.6 0.0V12.9 M42.9 0.0V10.6 M43.2 0.0V18.7 M43.5 0.0V23.9 M43.8 0.0V17.8 M44.1 0.0V14.6 M44.4 0.0V7.5 M44.7 0.0V4.0 M45.0 0.0V10.7 M45.3 0.0V6.4 M45.6 0.0V5.8 M45.9 0.0V7.0 M46.2 0.0V3.8 M46.5 0.0V6.0 M46.8 0.0V7.3 M47.1 0.0V2.4 M47.4 0.0V2.6 M47.7 0.0V5.5 M48.0 0.0V5.5 M48.3 0.0V3.8 M48.6 0.0V3.2 M48.9 0.0V1.4 M49.2 0.0V0.0 M49.5 0.0V0.0 M49.8 0.0V0.0 M50.1 0.0V0.0 M50.4 0.0V0.0 M53.1 0.0V0.0 M53.4 0.0V0.0 M53.7 0.0V1.5 M54.0 0.0V1.9 M54.3 0.0V2.0 M54.6 0.0V5.3 M54.9 0.0V7.4 M55.2 0.0V3.2 M55.5 0.0V7.6 M55.8 0.0V8.9 M56.1 0.0V3.7 M56.4 0.0V3.6 M56.7 0.0V4.3 M57.0 0.0V2.2 M57.3 0.0V0.9 M57.6 0.0V0.0 M57.9 0.0V0.0 M59.7 0.0V2.2 M60.0 0.0V3.2 M60.3 0.0V1.6 M60.6 0.0V1.8 M60.9 0.0V5.7 M61.2 0.0V1.7 M61.5 0.0V6.2 M61.8 0.0V6.6 M62.1 0.0V8.1 M62.4 0.0V6.7 M62.7 0.0V10.0 M63.0 0.0V10.2 M63.3 0.0V7.9 M63.6 0.0V7.2 M63.9 0.0V8.2 M64.2 0.0V11.7 M64.5 0.0V5.6 M64.8 0.0V4.4 M65.1 0.0V10.3 M65.4 0.0V8.2 M65.7 0.0V4.0 M66.0 0.0V3.6 M66.3 0.0V6.4 M66.6 0.0V5.7 M66.9 0.0V6.0 M67.2 0.0V5.8 M67.5 0.0V3.8 M67.8 0.0V1.3 M68.1 0.0V3.0 M68.4 0.0V1.1 M72.6 0.0V2.7 M72.9 0.0V1.5 M73.2 0.0V7.2 M73.5 0.0V8.6 M73.8 0.0V6.6 M74.1 0.0V8.6 M74.4 0.0V10.2 M74.7 0.0V4.8 M75.0 0.0V6.3 M75.3 0.0V6.8 M75.6 0.0V14.7 M75.9 0.0V12.9 M76.2 0.0V10.6 M76.5 0.0V8.9 M76.8 0.0V14.5 M77.1 0.0V15.5 M77.4 0.0V9.1 M77.7 0.0V11.5 M78.0 0.0V9.4 M78.3 0.0V5.3 M78.6 0.0V7.6 M78.9 0.0V7.4 M79.2 0.0V7.5 M79.5 0.0V3.4 M79.8 0.0V3.6 M80.1 0.0V3.9 M80.4 0.0V0.8 M81.3 0.0V0.0 M81.6 0.0V0.0 M81.9 0.0V0.0 M82.2 0.0V2.5 M82.5 0.0V2.3 M82.8 0.0V2.0 M83.1 0.0V4.4 M83.4 0.0V5.9 M83.7 0.0V6.8 M84.0 0.0V11.5 M84.3 0.0V12.2 M84.6 0.0V5.9 M84.9 0.0V9.7 M85.2 0.0V14.6 M85.5 0.0V9.3 M85.8 0.0V10.1 M86.1 0.0V6.9 M86.4 0.0V17.6 M86.7 0.0V17.9 M87.0 0.0V11.6 M87.3 0.0V4.9 M87.6 0.0V15.1 M87.9 0.0V7.7 M88.2 0.0V15.9 M88.5 0.0V4.4 M88.8 0.0V15.7 M89.1 0.0V12.1 M89.4 0.0V10.9 M89.7 0.0V7.8 M90.0 0.0V7.4 M90.3 0.0V3.7 M90.6 0.0V8.5 M90.9 0.0V5.2 M91.2 0.0V5.8 M91.5 0.0V3.4 M91.8 0.0V1.6 M93.3 0.0V0.0 M93.6 0.0V0.0 M93.9 0.0V0.0 M94.2 0.0V0.0 M94.5 0.0V0.0 M94.8 0.0V0.0 M95.1 0.0V1.4 M95.4 0.0V1.3 M95.7 0.0V2.2 M96.0 0.0V2.8 M96.3 0.0V1.8 M96.6 0.0V5.7 M96.9 0.0V2.0 M97.2 0.0V6.4 M97.5 0.0V7.1 M97.8 0.0V7.2 M98.1 0.0V5.3 M98.4 0.0V7.1 M98.7 0.0V6.1 M99.0 0.0V2.9 M99.3 0.0V9.1 M99.6 0.0V7.9 M99.9 0.0V10.6 M100.2 0.0V12.0 M100.5 0.0V4.7 M100.8 0.0V8.4 M101.1 0.0V4.9 M101.4 0.0V7.5 M101.7 0.0V7.1 M102.0 0.0V6.0 M102.3 0.0V8.4 M102.6 0.0V7.2 M102.9 0.0V13.4 M103.2 0.0V5.3 M103.5 0.0V10.4 M103.8 0.0V10.7 M104.1 0.0V13.9 M104.4 0.0V15.1 M104.7 0.0V3.7 M105.0 0.0V11.6 M105.3 0.0V7.2 M105.6 0.0V12.0 M105.9 0.0V5.7 M106.2 0.0V3.0 M106.5 0.0V13.2 M106.8 0.0V4.5 M107.1 0.0V7.7 M107.4 0.0V12.2 M107.7 0.0V4.6 M108.0 0.0V8.9 M108.3 0.0V8.2 M108.6 0.0V8.7 M108.9 0.0V7.7 M109.2 0.0V7.6 M109.5 0.0V9.9 M109.8 0.0V5.6 M110.1 0.0V4.1 M110.4 0.0V7.5 M110.7 0.0V6.5 M111.0 0.0V6.9 M111.3 0.0V4.9 M111.6 0.0V5.7 M111.9 0.0V2.1 M112.2 0.0V4.4 M112.5 0.0V3.4 M112.8 0.0V1.0 M118.8 0.0V0.0 M119.1 0.0V2.1 M119.4 0.0V1.2 M119.7 0.0V2.8 M120.0 0.0V2.4 M120.3 0.0V6.8 M120.6 0.0V8.0 M120.9 0.0V7.3 M121.2 0.0V7.6 M121.5 0.0V8.4 M121.8 0.0V6.6 M122.1 0.0V3.5 M122.4 0.0V12.5 M122.7 0.0V10.9 M123.0 0.0V11.3 M123.3 0.0V4.9 M123.6 0.0V13.6 M123.9 0.0V5.1 M124.2 0.0V11.0 M124.5 0.0V13.6 M124.8 0.0V10.2 M125.1 0.0V15.2 M125.4 0.0V12.7 M125.7 0.0V6.7 M126.0 0.0V12.3 M126.3 0.0V13.4 M126.6 0.0V8.1 M126.9 0.0V12.9 M127.2 0.0V15.4 M127.5 0.0V8.9 M127.8 0.0V9.7 M128.1 0.0V10.5 M128.4 0.0V7.5 M128.7 0.0V3.1 M129.0 0.0V13.3 M129.3 0.0V9.7 M129.6 0.0V10.5 M129.9 0.0V10.4 M130.2 0.0V9.0 M130.5 0.0V5.6 M130.8 0.0V8.5 M131.1 0.0V7.1 M131.4 0.0V1.8 M131.7 0.0V7.3 M132.0 0.0V3.9 M132.3 0.0V4.7 M132.6 0.0V3.0 M132.9 0.0V1.5 M140.7 0.0V0.8 M141.0 0.0V2.7 M141.3 0.0V4.0 M141.6 0.0V2.3 M141.9 0.0V4.5 M142.2 0.0V6.7 M142.5 0.0V3.6 M142.8 0.0V4.0 M143.1 0.0V4.2 M143.4 0.0V8.3 M143.7 0.0V6.5 M144.0 0.0V2.8 M144.3 0.0V6.5 M144.6 0.0V7.6 M144.9 0.0V10.8 M145.2 0.0V8.2 M145.5 0.0V3.4 M145.8 0.0V12.1 M146.1 0.0V3.8 M146.4 0.0V8.5 M146.7 0.0V4.0 M147.0 0.0V4.9 M147.3 0.0V13.7 M147.6 0.0V3.3 M147.9 0.0V10.7 M148.2 0.0V3.7 M148.5 0.0V3.8 M148.8 0.0V12.9 M149.1 0.0V15.4 M149.4 0.0V3.6 M149.7 0.0V8.4 M150.0 0.0V6.2 M150.3 0.0V8.1 M150.6 0.0V7.0 M150.9 0.0V7.8 M151.2 0.0V4.4 M151.5 0.0V14.0 M151.8 0.0V7.9 M152.1 0.0V11.6 M152.4 0.0V8.5 M152.7 0.0V3.7 M153.0 0.0V12.2 M153.3 0.0V9.9 M153.6 0.0V10.9 M153.9 0.0V4.0 M154.2 0.0V6.0 M154.5 0.0V7.2 M154.8 0.0V9.9 M155.1 0.0V8.3 M155.4 0.0V6.7 M155.7 0.0V6.5 M156.0 0.0V8.3 M156.3 0.0V3.1 M156.6 0.0V3.2 M156.9 0.0V2.7 M157.2 0.0V4.5 M157.5 0.0V2.9 M157.8 0.0V2.8 M158.1 0.0V3.1 M158.4 0.0V0.8 M166.2 0.0V0.0 M166.5 0.0V0.0 M166.8 0.0V3.1 M167.1 0.0V1.5 M167.4 0.0V3.2 M167.7 0.0V5.4 M168.0 0.0V6.8 M168.3 0.0V6.7 M168.6 0.0V3.7 M168.9 0.0V8.1 M169.2 0.0V8.3 M169.5 0.0V10.7 M169.8 0.0V10.2 M170.1 0.0V3.2 M170.4 0.0V6.0 M170.7 0.0V4.0 M171.0 0.0V10.6 M171.3 0.0V14.0 M171.6 0.0V10.4 M171.9 0.0V10.5 M172.2 0.0V4.4 M172.5 0.0V13.2 M172.8 0.0V10.3 M173.1 0.0V15.7 M173.4 0.0V10.6 M173.7 0.0V10.3 M174.0 0.0V14.6 M174.3 0.0V5.3 M174.6 0.0V15.6 M174.9 0.0V5.9 M175.2 0.0V9.8 M175.5 0.0V13.0 M175.8 0.0V8.1 M176.1 0.0V9.6 M176.4 0.0V13.9 M176.7 0.0V11.9 M177.0 0.0V10.9 M177.3 0.0V9.3 M177.6 0.0V7.7 M177.9 0.0V7.3 M178.2 0.0V8.6 M178.5 0.0V9.2 M178.8 0.0V8.7 M179.1 0.0V8.7 M179.4 0.0V6.7 M179.7 0.0V8.2 M180.0 0.0V3.0 M180.3 0.0V5.1 M180.6 0.0V3.2 M180.9 0.0V2.5 M181.2 0.0V2.8" stroke="#000" stroke-opacity="0.6" stroke-width="0.7" fill="none"/><rect x="0" y="-1.8" width="181.5" height="3.6" fill="#000"/></g></g>
<text transform="translate(30.70 652.80) scale(0.9500 1)" font-size="37.8" fill="#000" >i</text><text transform="translate(39.45 652.80) scale(1.0393 1)" font-size="37.8" fill="#000" >n</text><text transform="translate(63.39 652.80) scale(0.9861 1)" font-size="37.8" fill="#000" >p</text><text transform="translate(85.80 652.80) scale(0.9826 1)" font-size="37.8" fill="#000" >u</text><text transform="translate(107.92 652.80) scale(1.1000 1)" font-size="37.8" fill="#000" >t</text><text transform="translate(130.97 652.80) scale(0.8400 1)" font-size="37.8" fill="#000" >a</text><text transform="translate(152.22 652.80) scale(0.9763 1)" font-size="37.8" fill="#000" >u</text><text transform="translate(174.94 652.80) scale(0.9641 1)" font-size="37.8" fill="#000" >d</text><text transform="translate(197.70 652.80) scale(0.9500 1)" font-size="37.8" fill="#000" >i</text><text transform="translate(207.12 652.80) scale(1.0469 1)" font-size="37.8" fill="#000" >o</text>
<text transform="translate(866.44 652.50) scale(1.1000 1)" font-size="37.8" fill="#000" >r</text><text transform="translate(881.23 652.50) scale(0.9062 1)" font-size="37.8" fill="#000" >e</text><text transform="translate(901.95 652.50) scale(0.8921 1)" font-size="37.8" fill="#000" >c</text><text transform="translate(919.96 652.50) scale(1.0188 1)" font-size="37.8" fill="#000" >o</text><text transform="translate(942.53 652.50) scale(1.0456 1)" font-size="37.8" fill="#000" >n</text><text transform="translate(965.97 652.50) scale(0.8400 1)" font-size="37.8" fill="#000" >s</text><text transform="translate(984.72 652.50) scale(1.1000 1)" font-size="37.8" fill="#000" >t</text><text transform="translate(996.59 652.50) scale(1.1000 1)" font-size="37.8" fill="#000" >r</text><text transform="translate(1010.78 652.50) scale(1.0267 1)" font-size="37.8" fill="#000" >u</text><text transform="translate(1033.10 652.50) scale(0.9290 1)" font-size="37.8" fill="#000" >c</text><text transform="translate(1053.17 652.50) scale(1.1000 1)" font-size="37.8" fill="#000" >t</text><text transform="translate(1066.91 652.50) scale(0.9175 1)" font-size="37.8" fill="#000" >e</text><text transform="translate(1085.29 652.50) scale(1.0641 1)" font-size="37.8" fill="#000" >d</text>
<rect x="298.25" y="527.25" width="169.5" height="104" fill="url(#gg)" stroke="#86a673" stroke-width="1.6"/>
<rect x="624.25" y="527.25" width="190" height="104" fill="url(#bg)" stroke="#7389bf" stroke-width="1.6"/>
<text transform="translate(310.34 592.70) scale(0.8400 1)" font-size="37.8" fill="#061206" stroke="#061206" stroke-width="0.6">E</text><text transform="translate(332.83 592.70) scale(0.9322 1)" font-size="37.8" fill="#061206" stroke="#061206" stroke-width="0.6">n</text><text transform="translate(355.36 592.70) scale(0.8859 1)" font-size="37.8" fill="#061206" stroke="#061206" stroke-width="0.6">c</text><text transform="translate(372.47 592.70) scale(1.0132 1)" font-size="37.8" fill="#061206" stroke="#061206" stroke-width="0.6">o</text><text transform="translate(395.18 592.70) scale(1.0053 1)" font-size="37.8" fill="#061206" stroke="#061206" stroke-width="0.6">d</text><text transform="translate(418.61 592.70) scale(0.9175 1)" font-size="37.8" fill="#061206" stroke="#061206" stroke-width="0.6">e</text><text transform="translate(438.74 592.70) scale(1.1000 1)" font-size="37.8" fill="#061206" stroke="#061206" stroke-width="0.6">r</text>
<text transform="translate(646.50 592.70) scale(0.8923 1)" font-size="37.8" fill="#050a1a" stroke="#050a1a" stroke-width="0.6">D</text><text transform="translate(673.65 592.70) scale(0.8950 1)" font-size="37.8" fill="#050a1a" stroke="#050a1a" stroke-width="0.6">e</text><text transform="translate(694.30 592.70) scale(0.8400 1)" font-size="37.8" fill="#050a1a" stroke="#050a1a" stroke-width="0.6">c</text><text transform="translate(712.05 592.70) scale(0.9569 1)" font-size="37.8" fill="#050a1a" stroke="#050a1a" stroke-width="0.6">o</text><text transform="translate(734.95 592.70) scale(0.9583 1)" font-size="37.8" fill="#050a1a" stroke="#050a1a" stroke-width="0.6">d</text><text transform="translate(757.18 592.70) scale(0.9400 1)" font-size="37.8" fill="#050a1a" stroke="#050a1a" stroke-width="0.6">e</text><text transform="translate(777.94 592.70) scale(1.1000 1)" font-size="37.8" fill="#050a1a" stroke="#050a1a" stroke-width="0.6">r</text>
<rect x="237.60" y="576.20" width="46.60" height="4.6" fill="#000"/><path d="M283.20 571.60 L296.70 578.50 L283.20 585.40 Z" fill="#000"/>
<rect x="467.50" y="577.20" width="46.80" height="4.6" fill="#000"/><path d="M513.30 572.60 L526.80 579.50 L513.30 586.40 Z" fill="#000"/>
<rect x="563.80" y="580.70" width="46.10" height="4.6" fill="#000"/><path d="M608.90 576.10 L622.40 583.00 L608.90 589.90 Z" fill="#000"/>
<rect x="814.70" y="580.70" width="46.60" height="4.6" fill="#000"/><path d="M860.30 576.10 L873.80 583.00 L860.30 589.90 Z" fill="#000"/>
<rect x="529.5" y="454" width="30" height="129.5" fill="#a9d096"/><ellipse cx="544.50" cy="470.7" rx="10.2" ry="10.6" fill="#62a444"/><ellipse cx="544.50" cy="499.5" rx="10.2" ry="10.6" fill="#62a444"/><ellipse cx="544.50" cy="528.3" rx="10.2" ry="10.6" fill="#62a444"/><ellipse cx="544.50" cy="571.6" rx="10.2" ry="10.6" fill="#62a444"/><circle cx="544.50" cy="545.7" r="1.5" fill="#111"/><circle cx="544.50" cy="550.8" r="1.5" fill="#111"/><circle cx="544.50" cy="556.3" r="1.5" fill="#111"/>
<clipPath id="c2"><rect x="529.5" y="583.5" width="30" height="128.5"/></clipPath>
<g clip-path="url(#c2)"><rect x="529.5" y="583.5" width="30" height="128.5" fill="#f6e2b8"/><ellipse cx="544.50" cy="601.8" rx="9.7" ry="10.2" fill="#ebd497"/><ellipse cx="544.50" cy="630.5" rx="9.7" ry="10.2" fill="#ebd497"/><ellipse cx="544.50" cy="657.8" rx="9.7" ry="10.2" fill="#ebd497"/><ellipse cx="544.50" cy="702.5" rx="9.7" ry="10.2" fill="#ebd497"/><circle cx="544.50" cy="675.8" r="1.2" fill="#8a7a40"/><circle cx="544.50" cy="680.6" r="1.2" fill="#8a7a40"/><circle cx="544.50" cy="685.2" r="1.2" fill="#8a7a40"/></g>
<path d="M562.1 508.1 L602.5 464.5" stroke="#000" stroke-width="4.8" stroke-dasharray="14.5 6" fill="none"/><path d="M611.4 454.5 L596.7 460.2 L607.2 469.7 Z" fill="#000"/>
<path d="M562.3 657.6 L600.5 704.5" stroke="#000" stroke-width="4.8" stroke-dasharray="14.5 6" fill="none"/><path d="M608.8 714.5 L594.6 707.9 L605 700.3 Z" fill="#000"/>
<text transform="translate(622.35 464.00) scale(0.9598 1)" font-size="37.8" fill="#000" >c</text><text transform="translate(641.22 464.00) scale(1.1000 1)" font-size="37.8" fill="#000" >o</text><text transform="translate(663.36 464.00) scale(1.1000 1)" font-size="37.8" fill="#000" >n</text><text transform="translate(686.47 464.00) scale(1.1000 1)" font-size="37.8" fill="#000" >t</text><text transform="translate(699.36 464.00) scale(1.0188 1)" font-size="37.8" fill="#000" >e</text><text transform="translate(720.36 464.00) scale(1.1000 1)" font-size="37.8" fill="#000" >n</text><text transform="translate(742.82 464.00) scale(1.1000 1)" font-size="37.8" fill="#000" >t</text>
<text transform="translate(766.80 464.00) scale(0.9500 1)" font-size="37.8" fill="#000" >i</text><text transform="translate(775.83 464.00) scale(1.0456 1)" font-size="37.8" fill="#000" >n</text><text transform="translate(799.42 464.00) scale(1.1000 1)" font-size="37.8" fill="#000" >f</text><text transform="translate(810.64 464.00) scale(1.0976 1)" font-size="37.8" fill="#000" >o</text><text transform="translate(833.19 464.00) scale(1.1000 1)" font-size="37.8" fill="#000" >r</text><text transform="translate(848.04 464.00) scale(1.1000 1)" font-size="37.8" fill="#000" >m</text><text transform="translate(883.56 464.00) scale(0.8852 1)" font-size="37.8" fill="#000" >a</text><text transform="translate(902.97 464.00) scale(1.1000 1)" font-size="37.8" fill="#000" >t</text><text transform="translate(917.65 464.00) scale(0.9500 1)" font-size="37.8" fill="#000" >i</text><text transform="translate(927.57 464.00) scale(1.1000 1)" font-size="37.8" fill="#000" >o</text><text transform="translate(949.40 464.00) scale(1.0582 1)" font-size="37.8" fill="#000" >n</text>
<text transform="translate(624.72 729.50) scale(0.8400 1)" font-size="37.8" fill="#000" >s</text><text transform="translate(642.95 729.50) scale(0.8899 1)" font-size="37.8" fill="#000" >p</text><text transform="translate(664.04 729.50) scale(0.9625 1)" font-size="37.8" fill="#000" >e</text><text transform="translate(685.52 729.50) scale(0.8400 1)" font-size="37.8" fill="#000" >a</text><text transform="translate(706.14 729.50) scale(0.9290 1)" font-size="37.8" fill="#000" >k</text><text transform="translate(724.71 729.50) scale(0.9850 1)" font-size="37.8" fill="#000" >e</text><text transform="translate(745.54 729.50) scale(1.1000 1)" font-size="37.8" fill="#000" >r</text>
<text transform="translate(770.30 729.50) scale(0.9500 1)" font-size="37.8" fill="#000" >i</text><text transform="translate(779.33 729.50) scale(1.0456 1)" font-size="37.8" fill="#000" >n</text><text transform="translate(802.92 729.50) scale(1.1000 1)" font-size="37.8" fill="#000" >f</text><text transform="translate(814.14 729.50) scale(1.0976 1)" font-size="37.8" fill="#000" >o</text><text transform="translate(836.69 729.50) scale(1.1000 1)" font-size="37.8" fill="#000" >r</text><text transform="translate(851.54 729.50) scale(1.1000 1)" font-size="37.8" fill="#000" >m</text><text transform="translate(887.06 729.50) scale(0.8852 1)" font-size="37.8" fill="#000" >a</text><text transform="translate(906.47 729.50) scale(1.1000 1)" font-size="37.8" fill="#000" >t</text><text transform="translate(921.15 729.50) scale(0.9500 1)" font-size="37.8" fill="#000" >i</text><text transform="translate(931.07 729.50) scale(1.1000 1)" font-size="37.8" fill="#000" >o</text><text transform="translate(952.90 729.50) scale(1.0582 1)" font-size="37.8" fill="#000" >n</text>
<ellipse cx="570" cy="698" rx="17" ry="21" fill="url(#rg)"/>
<circle cx="570" cy="696.5" r="3" fill="#f59a7a"/>
<circle cx="570" cy="696.5" r="4.6" fill="none" stroke="#e5231c" stroke-width="3"/>
</g>
</svg>
</body></html>
